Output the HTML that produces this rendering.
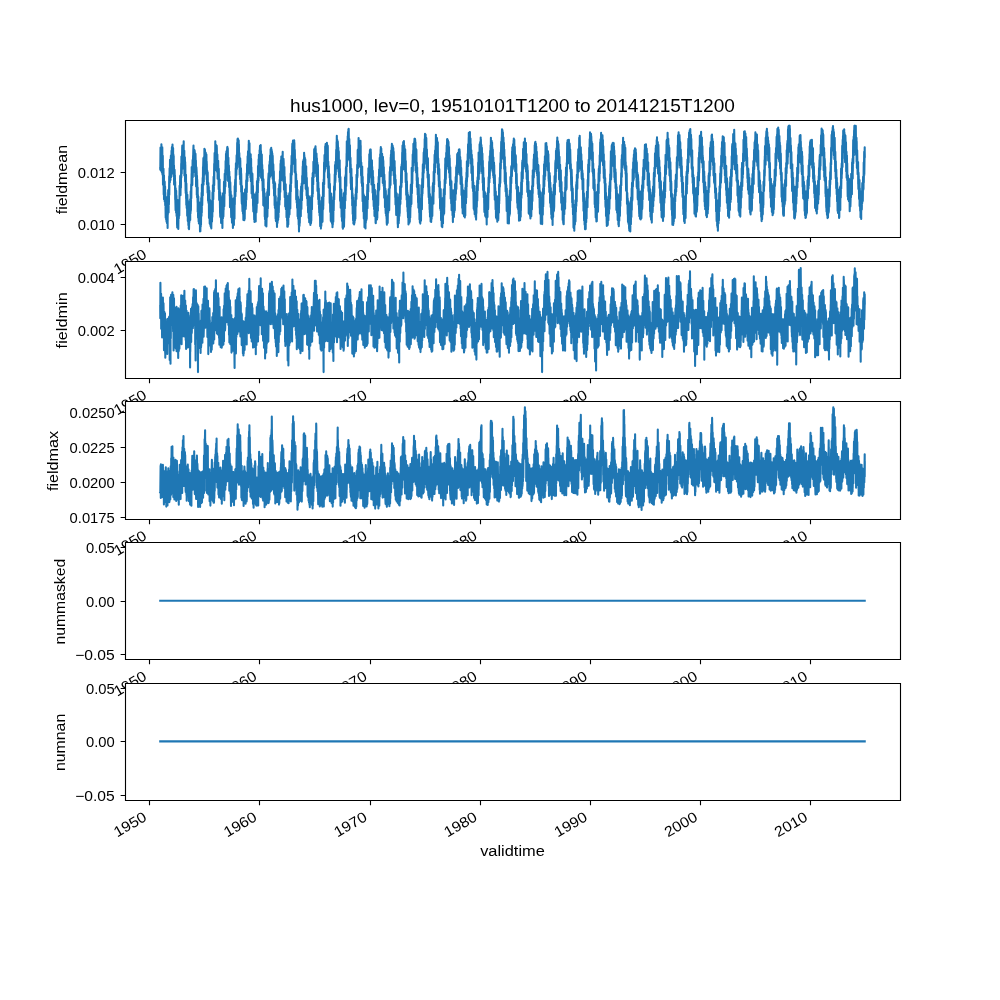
<!DOCTYPE html><html><head><meta charset="utf-8"><style>html,body{margin:0;padding:0;background:#fff;width:1000px;height:1000px;overflow:hidden}svg{display:block;will-change:transform}text{font-family:"Liberation Sans",sans-serif;fill:#000}</style></head><body>
<svg width="1000" height="1000" viewBox="0 0 1000 1000">
<rect x="0" y="0" width="1000" height="1000" fill="#fff"/>
<g>
<rect x="125.00" y="120.00" width="775.00" height="117.24" fill="#fff"/>
<clipPath id="c0"><rect x="125.00" y="120.00" width="775.00" height="117.24"/></clipPath>
<path clip-path="url(#c0)" d="M160.2 168.2L160.3 169.8 160.5 147.6 160.7 164.9 160.7 150.8 160.9 170.6 161 147.8 161.2 150.1 161.3 162.4 161.4 144.2 161.7 169.3 161.7 153.7 161.7 158 161.9 172.6 162 152.4 162.2 156.8 162.2 153.9 162.3 147.4 162.5 174.8 162.7 161.5 162.7 159 162.8 155.7 163 184.7 163.2 183.4 163.2 171.3 163.5 168.8 163.7 194.6 163.7 184.6 163.8 183.3 164 175.5 164 199.3 164.2 191.7 164.2 189.2 164.4 181.2 164.7 201.5 164.7 181.7 164.8 197.5 165.1 186.5 165.2 205.2 165.2 197.6 165.2 203.2 165.3 192.5 165.7 217.8 165.7 212.5 165.7 202.6 166.2 220 166.2 203.7 166.3 197.1 166.5 221.5 166.7 215.7 166.7 205.6 166.9 223.1 166.9 197.2 167.2 219.7 167.3 208.3 167.3 199.8 167.6 227.9 167.7 212.4 167.7 200.7 167.8 215 168.2 190.1 168.2 212 168.3 193.3 168.6 192.3 168.6 212.4 168.7 195.2 168.7 202.3 168.9 204.5 169.2 176.4 169.2 184.7 169.3 194.8 169.6 168.3 169.7 174 169.7 181.2 169.9 182.3 170 159.8 170.2 170.2 170.2 163.7 170.5 180 170.5 161.4 170.7 162.5 170.8 158.3 170.9 155.5 171 177.2 171.2 166 171.2 160 171.4 167.2 171.5 150.7 171.7 159.2 171.7 162.7 171.9 147 172.1 168.2 172.2 167.1 172.2 161.8 172.3 173.4 172.5 144.5 172.7 164 172.7 159.3 173.1 169.9 173.1 148 173.2 165.4 173.3 160.2 173.4 154.4 173.6 176.5 173.7 156.1 173.7 171.4 174 165.5 174.1 184.6 174.2 170.8 174.3 179.1 174.4 183.2 174.6 169.8 174.7 173.2 174.7 184.6 174.9 175.3 175.2 199.5 175.2 181.8 175.2 193.4 175.6 210.3 175.7 189.4 175.7 188.4 176.1 212.7 176.2 190.7 176.2 207.3 176.5 195.7 176.6 215.9 176.7 212 176.8 215.6 176.9 204.7 177.1 225.4 177.2 205.6 177.2 227.5 177.6 200.1 177.7 224.3 177.8 218.1 178 203.3 178 226.6 178.2 204.7 178.2 209.1 178.3 229 178.7 202.3 178.7 211 178.7 209.2 178.8 218.5 179 200 179.2 200.1 179.2 213 179.3 215.6 179.6 185.7 179.7 189 179.7 192.5 179.8 194.8 180.2 176 180.2 191.4 180.3 187 180.4 175.6 180.5 195.2 180.7 180.9 180.7 177.3 180.9 188 181.2 163.5 181.2 170 181.3 177.6 181.4 156.6 181.7 165.2 181.7 173.8 182.2 148 182.2 146.7 182.3 167.8 182.3 145.5 182.7 146.7 182.7 152.8 182.8 164.9 182.8 146.7 183.2 148.8 183.2 168.4 183.7 141.3 183.7 146.6 183.8 162.9 184.1 165.6 184.1 151 184.2 159.9 184.2 151.5 184.3 150.8 184.4 175.5 184.7 162.1 184.7 171 184.9 157.4 185.1 181.6 185.2 162.1 185.2 175.8 185.3 164.7 185.6 191.1 185.7 177.3 185.7 193.1 186 174.8 186.1 198.6 186.2 192.9 186.3 205 186.4 183.5 186.7 205.1 186.7 192.1 186.7 208.1 187 194.8 187.2 215.8 187.2 202.7 187.3 208 187.4 194.7 187.6 216.4 187.7 208.9 187.7 201.9 187.8 200.4 187.8 221.1 188.2 217.2 188.2 214.8 188.4 225.2 188.6 203.4 188.7 224.1 188.7 228.4 189 207.2 189 229.2 189.2 220.6 189.2 213.8 189.4 222.3 189.5 202.1 189.7 219.7 189.8 212.6 190.1 201.2 190.2 219.9 190.2 199.3 190.5 213.6 190.7 191.3 190.7 211.3 190.8 199.5 190.9 210.2 191.2 184.3 191.2 186.6 191.3 198.2 191.6 173.4 191.7 181.7 191.7 167 192 184 192.2 175.9 192.2 175.5 192.3 185.1 192.6 160 192.7 173.7 192.7 164.8 192.8 177.3 193.1 155.6 193.2 155.8 193.3 150.4 193.5 145.5 193.7 169.9 193.7 169.2 193.8 150 194.1 170.3 194.2 166.1 194.2 170 194.5 171.9 194.6 150.2 194.7 168 194.7 153.9 194.8 151.8 195 172.7 195.2 170.3 195.2 162.8 195.3 176.3 195.5 153.8 195.7 162.8 195.7 169.8 195.9 160.6 196.1 186.4 196.2 167 196.2 181.6 196.3 185.9 196.4 167.2 196.7 172.8 196.8 194.9 197 175.7 197.1 197.5 197.2 188.3 197.2 179.5 197.6 202.4 197.7 187.6 197.7 211.7 197.9 194.7 198.1 217.7 198.2 213.4 198.2 206 198.3 196.5 198.6 221.5 198.7 202.4 198.7 210.1 198.9 223.4 199.1 205.1 199.2 212.1 199.3 205 199.3 202.7 199.5 221 199.7 211.9 199.7 219.3 199.8 209.1 200 231.4 200.2 230.7 200.3 227.8 200.4 231.2 200.5 202.3 200.7 227 200.7 213.2 200.9 203.6 201 224.9 201.2 205.3 201.2 198 201.5 215.9 201.6 192.7 201.7 201.1 201.7 211.6 201.8 212.6 201.9 184.5 202.2 198.3 202.2 205.3 202.7 177.8 202.7 187.4 202.8 178.7 202.8 195.5 203 166.9 203.2 179 203.2 165.4 203.4 158 203.5 184.8 203.7 172.6 203.8 181.7 204 159.3 204.2 163.7 204.2 156.4 204.3 174.9 204.4 148.7 204.7 173.4 204.7 166.8 204.8 172 204.9 149.6 205.2 157.1 205.2 166.9 205.4 152.4 205.5 170.2 205.7 164.6 205.7 164.2 205.8 152.9 206 171.7 206.2 164.6 206.3 159.3 206.4 154.6 206.6 175.2 206.7 161.6 206.7 179.6 206.8 163.8 207 184.3 207.2 170.6 207.2 179.2 207.3 174.5 207.6 192.8 207.7 189.5 207.7 172.2 208.1 200.9 208.2 191.5 208.2 191.8 208.4 183.1 208.5 203 208.7 186.5 208.8 187.4 209 217.9 209.2 200 209.2 212 209.4 190.9 209.7 223.4 209.8 203.3 209.9 199.8 210.2 224.7 210.2 206.4 210.2 215.5 210.6 226.1 210.7 203.5 210.7 222.9 210.7 222.7 210.8 207.4 210.9 227.3 211.2 215.9 211.2 221.5 211.3 228.5 211.7 201 211.7 203.9 211.8 202.8 212 221.6 212.2 204.3 212.3 216.7 212.3 216.9 212.5 192.5 212.7 211.3 212.7 192.4 212.8 211.7 212.9 185.3 213.2 191.5 213.3 199.2 213.6 176.8 213.7 178.2 213.7 180 213.8 191.5 214.2 163.7 214.2 185.2 214.6 153.1 214.7 161.1 214.7 156.1 214.9 170.5 215.2 151.8 215.2 163.9 215.2 154.6 215.3 141.3 215.6 169.4 215.7 159.7 215.8 146.7 216.1 170.2 216.2 145 216.2 156 216.2 159.4 216.5 168.1 216.7 145.7 216.7 151.6 216.8 156.8 216.8 147.4 217.1 172 217.2 163.7 217.2 159.3 217.4 154.6 217.6 178.7 217.7 177.6 217.7 177.2 217.9 178 218.2 160.7 218.2 174.7 218.2 163.1 218.7 189.2 218.7 185.9 218.7 188.4 218.8 168.7 219.2 199.9 219.3 188.6 219.6 179.5 219.6 199.4 219.7 195.1 219.7 189 220.1 213.4 220.2 192.5 220.2 216.1 220.6 217.3 220.7 196 220.7 202 220.7 207 221 199.8 221.1 223 221.2 216.8 221.2 221.8 221.4 222.5 221.6 198 221.7 211 221.8 219.1 221.9 198.5 222.2 221.5 222.2 210.8 222.4 228 222.7 199.7 222.7 212.6 222.8 202.7 222.9 193.2 223 218.3 223.2 211.5 223.2 214.5 223.3 196.2 223.4 216.4 223.7 200.1 223.7 209.8 224 181.7 224.2 198.7 224.2 197.9 224.3 206.3 224.7 173.7 224.7 190 224.8 193.6 225.2 174.4 225.2 181.5 225.3 169.8 225.4 186.4 225.6 161.1 225.7 171.8 225.7 168.5 225.8 180.2 226 153.9 226.2 159.6 226.3 174.2 226.4 151.6 226.7 159.7 226.7 157.2 226.9 150.2 227 171.9 227.2 158 227.2 147.8 227.4 146.9 227.5 170.3 227.7 160.7 227.7 165.7 227.8 148.4 228.1 180.9 228.2 162.7 228.2 165.2 228.4 157.7 228.6 179.1 228.7 179.1 228.8 172.9 228.9 165.6 229.1 187.3 229.2 171.9 229.2 174.6 229.3 171.5 229.6 192.8 229.7 183.6 229.7 195.7 229.8 176.7 230 207.2 230.2 185.7 230.2 196.1 230.3 182.4 230.7 204.5 230.7 195.4 230.7 191.2 231.2 217.2 231.2 208.4 231.4 195.2 231.7 216.6 231.7 211.8 232 222.8 232.2 202 232.3 217.3 232.3 205.7 232.6 223.1 232.7 206.4 232.7 208.2 232.9 227.9 233.2 218.9 233.2 202.4 233.5 198.6 233.6 218.7 233.7 218.3 233.7 225 233.9 225 233.9 200.8 234.2 214.9 234.2 215.1 234.5 218.8 234.7 186.1 234.8 204.5 235.1 181.8 235.2 186.3 235.2 179.8 235.4 196.2 235.7 168.3 235.7 173.4 235.8 191.7 235.9 163.4 236.2 173.4 236.2 174.4 236.3 174.9 236.6 155.4 236.7 166.6 236.7 164.4 236.9 169 237.2 142.8 237.2 151.3 237.4 163.6 237.5 139 237.7 152.5 237.7 146.6 237.8 163 237.9 138.5 238.2 160.8 238.3 158.5 238.4 161.1 238.7 140.4 238.7 159.4 238.7 153.2 238.9 144.2 239.2 167.3 239.2 161.8 239.3 166.7 239.3 153.1 239.7 174.8 239.7 167.9 239.7 166.7 240.1 179.2 240.2 158.4 240.2 161.9 240.3 160.5 240.5 184.4 240.7 174.4 240.7 181.3 241 168.3 241.2 191.9 241.2 175 241.2 173.5 241.7 201.4 241.7 197.4 241.8 203.6 242 186.1 242.1 204.5 242.2 199.2 242.2 201.6 242.5 211.1 242.6 193.5 242.7 196.1 242.7 197 243 214 243.1 195.2 243.2 210.7 243.2 204.8 243.4 220 243.4 193.3 243.7 201.8 243.7 206.4 244 196.6 244.1 220.3 244.2 215.8 244.2 202.7 244.3 220.3 244.6 196.2 244.7 209.1 244.7 219 245.1 189.4 245.2 207.7 245.3 199.3 245.5 191.9 245.7 209 245.7 190.7 245.9 206.2 246.2 180.3 246.2 190 246.2 191.9 246.3 199.7 246.7 173.4 246.7 186.8 246.7 184.6 246.8 192.2 247.1 164.3 247.2 167.1 247.2 169 247.4 181.2 247.6 156.2 247.7 164.9 247.8 175.2 248 151.4 248.2 166.3 248.2 166.5 248.5 169.5 248.7 144.2 248.7 164.2 248.8 144.7 248.8 140.8 249.1 166.3 249.2 151.3 249.2 161.1 249.5 143.3 249.6 167.3 249.7 160.8 249.7 165.7 249.8 153.1 249.9 173.7 250.2 170.5 250.2 159.2 250.4 177.5 250.7 154.3 250.7 176.5 250.7 176.6 250.9 181.1 251.1 158.9 251.2 173.1 251.3 173.9 251.4 167.3 251.6 193.4 251.7 181.6 251.7 172.2 251.9 193.9 252.2 175.3 252.3 198 252.4 173.8 252.7 191.1 252.7 193 252.9 185.8 253.1 206.2 253.2 196.8 253.2 207.1 253.3 211.5 253.5 193.6 253.7 208.1 253.7 200.6 253.8 196.2 254.2 219.8 254.2 215 254.2 210.3 254.4 201.7 254.5 221.9 254.7 204.1 254.8 209.4 254.9 218.1 254.9 194.8 255.2 201.3 255.2 214 255.4 200.1 255.7 221.5 255.7 206.9 255.7 211.6 256.1 194 256.2 212.1 256.2 208.9 256.3 192.3 256.4 212.4 256.7 206.4 256.7 204.8 257 181.1 257.2 201.8 257.3 184.5 257.5 203.1 257.7 178.2 257.7 182.3 257.9 192.8 258 166.1 258.2 183 258.3 173.5 258.5 180.8 258.6 159.2 258.7 159.3 258.7 161.3 258.9 176.3 258.9 154.8 259.2 165.6 259.2 165.2 259.6 170.9 259.6 150.2 259.7 166.9 259.7 156.2 260 145.9 260.2 172 260.2 171.5 260.2 157.1 260.5 169.5 260.7 145.1 260.8 159.3 261 151 261.1 177.7 261.2 155.7 261.2 158.6 261.4 178 261.4 154.2 261.7 171 261.8 162.9 261.8 154.6 262.1 180.8 262.2 165.5 262.2 164.7 262.7 190.8 262.7 190.4 262.7 169.8 263.2 197 263.2 182 263.2 189.2 263.3 205.2 263.5 179.4 263.7 192.1 263.7 192.5 264 205.9 264.1 188.8 264.2 201.5 264.3 205.7 264.7 193.2 264.7 216.6 264.7 193.7 265 219.3 265.2 209.7 265.3 205.6 265.4 225.4 265.5 204.9 265.7 205.8 265.7 211 265.9 199.5 266.1 224.4 266.2 216 266.2 217 266.3 203 266.4 226.5 266.7 213.2 266.7 197.3 266.8 217.8 267.2 192.1 267.2 203.7 267.2 210.1 267.4 216.6 267.7 189.5 267.7 205.1 267.8 205 267.9 208.5 268.1 182.3 268.2 184 268.2 180.9 268.6 173.3 268.7 195.2 268.7 179.5 268.7 178.2 269 195.1 269.2 172.4 269.2 165 269.3 179.6 269.7 161.5 269.7 174.7 270.1 155.6 270.2 175.9 270.2 165.7 270.3 155.9 270.4 176.6 270.6 149.2 270.7 153.5 270.7 175.2 271.2 147.9 271.3 151.3 271.4 169.6 271.6 149.8 271.7 167.5 271.7 167.4 271.8 171.7 271.9 151.4 272.2 157.3 272.2 172.4 272.3 153.4 272.7 179 272.7 158.7 272.7 155.7 273.2 183.3 273.2 179.2 273.3 164.4 273.7 188 273.7 187.1 273.8 189 273.8 171.4 274.1 195.8 274.2 195 274.2 193.7 274.5 181.9 274.6 205.3 274.7 202.6 274.8 191.2 274.9 208 275.1 183.4 275.2 199 275.2 207.8 275.4 195.4 275.6 218.7 275.7 207.1 275.7 196.2 275.9 221.1 276.2 208.8 276.2 207.1 276.4 219.8 276.4 202.2 276.7 207.1 276.7 216.5 277 227 277.2 205.1 277.2 218.5 277.3 205.5 277.5 222.9 277.6 205.3 277.7 217.9 277.7 208.1 278 220.4 278.1 204.2 278.2 219.5 278.2 197.7 278.5 217.2 278.6 188.6 278.7 207.2 278.7 199.8 278.8 212.5 279.2 184.3 279.2 187.9 279.4 204.7 279.7 179.7 279.7 180.8 279.8 200 280 171.4 280.2 182.7 280.2 174.3 280.3 192 280.5 163.8 280.7 168.9 280.8 161 280.9 160.2 281.1 180.6 281.2 161.6 281.2 180.2 281.3 156.5 281.7 177.8 281.7 157.6 281.8 178.1 282.1 157 282.2 161.8 282.2 170.3 282.7 151.8 282.7 174.5 282.7 170.6 282.7 157.8 283.2 180.4 283.2 160.3 283.3 180.8 283.4 181.3 283.5 158.7 283.7 162.8 283.7 164.9 284 189.7 284.2 184 284.3 178.5 284.4 167.1 284.7 197.3 284.7 184.8 284.8 176.8 285.2 198.5 285.2 188.1 285.2 206.5 285.5 184.5 285.7 195.8 285.7 184.2 285.9 209.2 286.2 192.7 286.2 199.3 286.3 193.2 286.5 217.3 286.7 207.3 286.8 196.8 287.1 195.9 287.1 220.8 287.2 217.5 287.2 210.7 287.3 226.8 287.7 203.1 287.7 206.6 287.8 223.6 287.8 226.7 288.2 202.2 288.2 215.2 288.2 211 288.3 224.6 288.4 197 288.7 197.7 288.7 196.1 288.8 217.3 289.2 208 289.2 194.1 289.4 193 289.5 214.4 289.7 200.7 289.7 203.3 289.8 204.3 290.1 185 290.2 197.6 290.3 208.5 290.7 173.5 290.7 184.2 290.8 191.7 291.2 165.4 291.2 179.4 291.2 183.2 291.6 155.9 291.7 160.5 291.7 169.5 291.8 174.7 292.2 146.1 292.2 146.7 292.2 151.3 292.3 143.8 292.5 160.1 292.7 150.8 292.7 144.9 293 140.6 293.1 161.3 293.2 142.6 293.2 143.5 293.3 141.7 293.6 163.7 293.7 143.3 293.8 153.1 293.9 162.4 294.2 140.3 294.2 157.2 294.2 157.7 294.4 142.8 294.6 172 294.7 159.7 294.7 153.7 294.8 149.9 295.2 172.8 295.2 173.1 295.4 159.2 295.7 187.5 295.7 171.6 295.7 185 296.1 174 296.2 199.5 296.2 177.7 296.3 189.4 296.6 182 296.7 202.8 296.7 183.4 296.7 195.4 296.9 180.8 297.1 207.9 297.2 194.8 297.3 200.1 297.4 189.7 297.6 216.2 297.7 215.3 297.7 209.4 297.9 196.6 298.1 218.7 298.2 198.1 298.2 199.8 298.7 224.8 298.7 220.9 298.8 209.9 299 231.4 299.2 211.8 299.2 209 299.4 200.3 299.5 225.9 299.7 216.1 299.8 218.5 299.8 222.9 300.1 200.2 300.2 210.7 300.2 208.9 300.3 212.7 300.7 190.9 300.8 216.2 301.1 186.6 301.2 193.2 301.2 194.2 301.4 208.9 301.7 183.6 301.7 197 301.7 187.8 302 200.2 302.2 175.9 302.2 178 302.2 183 302.3 191.5 302.7 166.5 302.7 180.7 302.7 179 303 161.3 303.1 180.7 303.2 171.6 303.3 177.2 303.3 183.4 303.6 159.6 303.7 175.4 303.7 167.8 304 180 304.1 152.8 304.2 159.1 304.2 168 304.3 154.8 304.6 176.5 304.7 161.1 304.7 173.2 304.8 157.6 305.1 183.5 305.2 167.8 305.2 167.4 305.3 159.2 305.7 188.7 305.8 182.2 306 189.4 306.2 166.3 306.2 178 306.2 182 306.3 172.3 306.6 195.4 306.7 189.1 306.8 182.7 306.8 177.9 307.1 198.5 307.2 186.6 307.2 189.2 307.4 188.1 307.7 205.8 307.7 187.8 308.1 212.5 308.2 199.1 308.2 207.2 308.5 196.2 308.7 218.1 308.7 211.1 308.7 212.5 308.9 196.3 309.2 222.2 309.2 216.1 309.3 220.1 309.7 198.5 309.7 216.8 309.7 221.1 309.8 222.6 310 204.4 310.2 220.2 310.3 218.5 310.4 225 310.7 197.5 310.7 216.3 310.7 216.7 310.8 199.1 311 223.3 311.2 219.5 311.2 218.4 311.3 220.8 311.5 195.8 311.7 203.4 311.7 204 312 209.2 312.2 177.8 312.2 179.6 312.2 190.7 312.5 196.7 312.7 173.3 312.7 191.4 312.8 179.9 312.8 194 312.9 172.9 313.2 178.7 313.2 184.4 313.4 161.7 313.7 168.6 313.7 177.2 314.2 149.3 314.2 167.9 314.2 164 314.5 150.6 314.7 170.5 314.7 150.9 314.7 165.4 314.8 148.2 315.2 172.7 315.2 154.8 315.2 153.4 315.5 146.2 315.5 169 315.7 152.7 315.7 148.7 316 171.6 316.2 157.7 316.3 168.8 316.3 176.2 316.5 153.5 316.7 163.2 316.7 161.4 316.9 158.4 317.1 181.4 317.2 176.9 317.2 170.4 317.3 162.6 317.5 190.9 317.7 167 317.7 181.5 317.9 165 318.2 199.3 318.2 192.1 318.3 182.2 318.7 204.4 318.7 203.7 318.8 188.6 319.1 209.6 319.2 194.6 319.2 212.5 319.3 195.3 319.6 215.6 319.7 206.7 319.8 206.7 319.8 200.7 320.2 226.3 320.2 221.9 320.5 226.5 320.6 205.4 320.7 212.2 320.7 206.2 320.9 228.6 321.2 215.1 321.2 204.8 321.3 226 321.7 208.6 321.7 215.8 321.8 222.4 322 197.3 322.2 212.7 322.3 204.3 322.3 201.4 322.5 221.8 322.7 203.2 322.7 199.4 322.9 209.9 323 182.9 323.2 209.1 323.3 189.9 323.3 205.7 323.7 179.2 323.7 196.8 324.1 162.6 324.2 165.3 324.2 184.2 324.5 155 324.7 171.9 324.7 164 325.1 170 325.2 146.4 325.2 169 325.2 157.9 325.3 168.8 325.6 144.1 325.7 150.3 325.8 151.5 325.9 164.5 326.2 145.2 326.2 153.1 326.3 165.9 326.4 144.7 326.7 154.8 326.7 162.6 326.9 164.2 326.9 142.8 327.2 157.9 327.2 157.9 327.5 166.2 327.7 145.6 327.7 168.6 327.8 146.4 328 177.6 328.2 162.4 328.2 175.3 328.3 161.6 328.7 187.4 328.7 168.7 328.7 166.7 328.8 166.3 329.2 188.2 329.3 174.1 329.7 202.9 329.7 191.8 329.7 203.1 329.9 183.9 330.2 211.5 330.2 206.5 330.4 212.5 330.5 193.2 330.7 199.3 330.7 215.6 330.8 221 331.2 193.5 331.2 217.8 331.4 221.9 331.5 201.4 331.7 217.5 331.8 216.2 331.9 202.9 332.1 223.9 332.2 213.6 332.2 216.2 332.4 205.6 332.5 227.3 332.7 215.4 332.8 224.1 332.8 224.8 333.2 200.3 333.2 200.7 333.3 221.7 333.5 197.1 333.7 201 333.7 210.4 334.1 186.2 334.2 196.3 334.2 199.7 334.7 176.9 334.7 182.7 334.7 174.4 334.9 189.9 335 165 335.2 172.8 335.3 180.3 335.4 181.9 335.5 161.9 335.7 173.2 335.7 163 335.8 174.8 336.2 149.8 336.2 157.2 336.3 161.9 336.4 168.7 336.6 141.9 336.7 147.4 336.7 146.9 336.8 135.8 337.2 160.3 337.2 147.7 337.2 154.9 337.3 140.1 337.3 165.4 337.7 154.4 337.7 152.1 337.8 164.9 337.8 141.6 338.2 155.3 338.2 163.2 338.3 147.5 338.5 171.6 338.7 159.3 338.8 162.3 338.8 151.4 339 177.3 339.2 173.2 339.2 170.7 339.6 182 339.7 160.3 339.7 166.3 339.7 172.3 339.9 168.8 340.1 200.5 340.2 193 340.2 201.1 340.4 177 340.7 207.8 340.7 189.5 340.7 188.9 341.2 207.7 341.2 200.2 341.3 208.6 341.3 189.6 341.6 217 341.7 200.7 341.7 200.8 341.9 197.5 342 220.9 342.2 207.1 342.3 212.6 342.5 202.6 342.6 227.5 342.7 207.1 342.7 203.2 342.9 228.8 343.2 215.7 343.2 217.8 343.3 222.8 343.4 203.1 343.7 203.4 343.7 218.4 343.8 193.4 344 226.7 344.2 216.1 344.2 202.6 344.3 218.3 344.5 192.3 344.7 194.6 344.8 196.6 344.9 208.2 345 177.2 345.2 189.2 345.2 198.2 345.4 200.4 345.6 175 345.7 194.4 345.8 175.3 345.8 190.8 345.9 167.9 346.2 177.7 346.2 166.2 346.3 186 346.6 153.6 346.7 164.2 346.7 153.8 346.8 141.2 347 166.3 347.2 145.6 347.2 153.9 347.5 158.4 347.7 136.2 347.7 145.3 347.8 156.9 348 132.1 348.2 147.9 348.3 149.1 348.4 129.2 348.7 146.6 348.7 128.9 349.1 159.7 349.2 148.6 349.3 139 349.6 160.8 349.7 147.8 349.7 153.5 349.9 145.2 350.2 172.6 350.2 158.1 350.2 166.2 350.5 157.9 350.7 183.2 350.7 164.3 351 189.2 351.2 169.4 351.2 176 351.4 168.9 351.5 188.9 351.7 185 351.8 189.4 351.9 177.3 352 198.8 352.2 187.9 352.2 205.5 352.5 193.4 352.7 214 352.7 195.1 353.1 220.5 353.2 197.6 353.2 209.3 353.4 223.6 353.6 201 353.7 209.5 353.7 220.5 353.9 201.5 354.1 224.4 354.2 217.6 354.3 213.6 354.5 223 354.6 206.4 354.7 221.1 354.7 218.3 354.9 220.6 355 203 355.2 213.9 355.3 214.6 355.4 218.7 355.5 194.6 355.7 203 355.7 202.3 355.8 206 355.9 189 356.2 192.4 356.2 186.9 356.4 199 356.5 174.8 356.7 176.4 356.7 175 356.8 192.7 357.2 164.7 357.2 166 357.2 167.5 357.5 176.9 357.7 150 357.8 167.3 357.9 149.5 358 168.3 358.2 150.8 358.2 160.2 358.4 164.3 358.6 138.1 358.7 144.1 358.8 141.2 359.1 164.9 359.2 161.1 359.2 146.3 359.3 143.6 359.5 166.4 359.7 149.1 359.7 145.8 359.8 162.1 360 142 360.2 159.4 360.2 155.5 360.5 140.8 360.7 167.4 360.7 145.6 360.7 161.9 360.8 156.2 361.1 175.6 361.2 163.6 361.3 167.1 361.3 162.6 361.6 183.1 361.7 174.8 361.7 175.9 362.1 186.2 362.2 166.5 362.2 170.3 362.6 201.2 362.7 176.9 362.7 199.7 363 183 363.2 211.5 363.2 200.6 363.2 210.3 363.3 193.4 363.5 212.1 363.7 211.5 363.7 194.8 363.8 218.6 364.2 212.7 364.2 195.9 364.5 227.3 364.7 215.4 364.8 213.9 364.8 225.8 364.9 202.3 365.2 218.7 365.2 224.5 365.5 228.4 365.5 201.7 365.7 217.7 365.7 221.2 365.8 223.1 366.1 199.2 366.2 220.8 366.2 215.8 366.3 196.7 366.6 219.1 366.7 212.1 366.7 219.1 367.2 190.1 367.2 205.3 367.3 190.6 367.4 184.8 367.5 208.2 367.7 186.4 367.7 192.2 367.9 199.7 368.2 173.7 368.2 185.3 368.3 187.1 368.3 191.8 368.4 168.2 368.7 171.2 368.7 172.4 369 182.2 369.2 160.9 369.2 163.8 369.2 174.7 369.3 154.3 369.7 175.4 369.7 168.8 369.7 174.4 369.9 150.4 370.2 152.1 370.2 149.6 370.5 173 370.7 149.6 370.7 159.6 370.8 151.8 371.2 177.2 371.2 178.1 371.5 162.2 371.5 184.5 371.7 171.8 371.8 172 371.8 181.1 371.9 160.2 372.2 175.7 372.2 166.7 372.6 192.7 372.7 179.3 372.7 186.5 372.8 170.7 373.1 199.8 373.2 177 373.2 190 373.3 181 373.7 206.2 373.7 187.6 373.7 195.6 374.1 209.1 374.1 184.8 374.2 189.2 374.3 202 374.5 215.9 374.6 190.8 374.7 194.8 374.7 199.5 374.9 189.8 375.2 215 375.2 214.4 375.3 199.3 375.6 223.1 375.7 200.3 375.7 219.4 375.8 223.3 376.2 197.1 376.2 204.4 376.5 219.4 376.6 202.3 376.7 212 376.7 199 377 219.4 377.1 195.4 377.2 209.7 377.2 213.3 377.3 217.9 377.5 190.9 377.7 200.9 377.8 197.9 377.9 210.8 378 183.5 378.2 186.6 378.2 205.2 378.7 176.7 378.7 190.8 378.7 181.7 378.8 190.9 379.1 169.6 379.2 181.1 379.2 189.7 379.7 160.5 379.7 163.3 379.7 157.9 380.1 176.4 380.2 154.3 380.2 159.5 380.3 170.5 380.6 149.6 380.7 156.5 380.7 152.7 380.8 147 380.9 168.2 381.2 157.1 381.3 150.5 381.3 148.6 381.4 171.1 381.7 156.9 381.7 165.7 381.8 176.1 382.1 153.7 382.2 162.4 382.2 165.6 382.5 176.9 382.7 159.4 382.7 172.7 382.7 170.7 382.8 183 382.9 156.9 383.2 162.1 383.2 170.5 383.3 160.7 383.7 185.9 383.7 167.4 383.8 167.3 384.2 197.7 384.2 178.3 384.3 174.6 384.7 194.6 384.7 189.1 384.8 181.9 384.8 180.9 385 207.2 385.2 204.4 385.2 192.8 385.4 188.8 385.6 211.3 385.7 195.4 385.7 213.2 385.8 190.8 386.2 216 386.2 198.1 386.6 218.8 386.7 205.5 386.7 222.4 386.9 224.7 387.2 200.2 387.2 209.6 387.3 205.8 387.3 223.4 387.6 197.3 387.7 222 387.7 223 388.1 195.4 388.2 197.2 388.2 213 388.7 189.2 388.7 210.3 388.7 209.8 388.9 189 389.2 200.4 389.2 210.2 389.7 171.9 389.8 176.7 389.9 188.1 390.1 167.1 390.2 178.8 390.2 179.4 390.5 185 390.7 157.6 390.8 175.8 390.9 154.8 391.2 160.9 391.2 150.6 391.5 170.6 391.7 146.7 391.7 166 391.7 166.4 391.9 143.9 392.2 168.3 392.2 164.3 392.2 148.3 392.6 145.5 392.7 165.3 392.7 160.3 393 147.4 393 167.2 393.2 149.1 393.3 148.3 393.6 175.2 393.7 155 393.7 151.7 394.2 181.6 394.3 169.1 394.3 183.8 394.6 161 394.7 172.9 394.7 171.1 394.8 166.9 395.2 197.3 395.2 174.9 395.5 204.4 395.7 179.8 395.7 181.9 396.2 215 396.2 194.6 396.2 213.4 396.3 192.9 396.5 214 396.7 213.7 396.8 208.1 396.8 193.8 397.1 215.3 397.2 202.9 397.2 199.4 397.5 197.6 397.7 223.3 397.8 224.3 397.8 202.2 397.9 227.3 398.2 210.9 398.2 215.7 398.7 202.2 398.7 223.3 398.7 212.1 398.7 203 398.9 220.5 399 199.8 399.2 206.8 399.2 196.8 399.3 194.3 399.4 216 399.7 206.9 399.7 213.3 400.1 186.5 400.2 204.6 400.3 192.7 400.4 203.7 400.5 186 400.7 199.2 400.7 197 401.2 166.9 401.2 185.8 401.4 186.9 401.7 164.4 401.7 175.5 401.7 179.9 401.8 182.8 402.2 152.5 402.2 168.2 402.5 145.5 402.7 166 402.8 167.9 403 169.5 403.1 144.5 403.2 146.9 403.2 142.1 403.6 165 403.7 143.5 403.8 144.6 403.9 141.1 404.2 165.9 404.2 162.5 404.2 152.7 404.4 145.8 404.7 169.1 404.7 154.7 404.7 155.7 405.2 149.4 405.2 171.4 405.2 155.4 405.3 152.9 405.7 182.3 405.7 179.2 405.7 178.9 405.8 161 406.2 195 406.2 178.6 406.3 190.5 406.5 173.3 406.7 199.8 406.7 198.5 406.7 183.5 406.9 181.2 407.2 206.9 407.2 190.3 407.3 197.2 407.5 192.5 407.6 211.6 407.7 199.7 407.7 207 408 217.4 408.1 195 408.2 195.5 408.2 212.4 408.3 197.6 408.5 224.5 408.7 212.5 408.7 204.9 408.9 204.1 409 220.2 409.2 204.2 409.2 211.3 409.4 198.8 409.5 222.6 409.7 220 409.8 204.4 409.8 221.8 410.1 196.9 410.2 199.2 410.2 217.7 410.7 193.1 410.7 207 410.7 190.9 410.9 184.5 410.9 203.4 411.2 196.9 411.2 194.9 411.4 204.1 411.7 176.5 411.7 191.5 411.7 167.7 411.9 193.2 412.2 176.9 412.2 169.2 412.3 183.4 412.6 160.3 412.7 168.6 412.7 154.5 412.8 171.6 413.2 150.4 413.3 165.6 413.4 143.7 413.7 152.8 413.7 150.9 414.2 162.2 414.2 142 414.2 146.4 414.5 138.7 414.6 162.1 414.7 153.1 414.7 156.7 414.8 160.2 415 138.8 415.2 140 415.2 157.4 415.5 142.2 415.6 170.5 415.7 156.4 415.8 167.3 416.1 149 416.1 172.6 416.2 155 416.2 161 416.4 149.7 416.7 180.5 416.8 162.6 416.9 186.9 417.2 167.6 417.2 177.5 417.3 173.6 417.7 194.7 417.7 193.4 417.7 178.2 417.8 177.9 418.1 202.5 418.2 187.5 418.2 193.5 418.4 207.8 418.7 184.7 418.7 184.8 418.7 205.7 418.8 187.7 419.2 212.4 419.2 211.8 419.3 199 419.5 219.4 419.6 198.5 419.7 206 419.7 215.5 419.9 222.4 420 200.7 420.2 201.7 420.3 223.6 420.6 198.7 420.7 202.9 420.7 205.4 421 220.8 421.2 196 421.2 204.4 421.2 194.3 421.3 209.5 421.4 185.3 421.7 201.7 421.7 204.2 421.9 209.2 422.2 178.9 422.2 195.5 422.2 192.3 422.5 193.5 422.6 172.5 422.7 189 422.8 166.9 422.9 164.2 423 187.4 423.2 177.2 423.2 179.2 423.7 152.5 423.7 173 424.1 150.4 424.2 157.1 424.2 148.6 424.4 168 424.7 139 424.7 156.3 424.7 154.9 425 133.8 425.2 147.7 425.2 136.6 425.3 156.3 425.6 134.5 425.7 146.3 425.7 141.4 426.1 159.3 426.2 137.8 426.2 155.7 426.3 154.2 426.3 138.1 426.6 164.1 426.7 159.8 426.7 156.6 426.9 149.5 427.1 170.5 427.2 163.9 427.2 157.8 427.3 157.4 427.6 177.7 427.7 158.4 427.7 170.6 427.9 158.4 428.2 187.1 428.2 179.9 428.7 197.3 428.7 176.8 428.8 177.2 428.8 174.5 429.1 200.2 429.2 196.2 429.2 203.5 429.3 186.9 429.6 209.4 429.7 198.8 429.8 212.6 429.9 194.1 430 216.8 430.2 197.3 430.2 203.1 430.5 201.5 430.6 221.4 430.7 204.3 430.7 216.1 430.9 202.6 431.2 221.9 431.2 199.1 431.6 219 431.7 198.4 431.7 207.8 431.7 205.8 432.1 215.9 432.2 196.4 432.2 211.5 432.3 196 432.3 215.9 432.7 185.9 432.7 203.5 432.9 204.1 433 183 433.2 196.4 433.3 200 433.4 203.7 433.7 171.8 433.7 181.8 433.8 191.9 434.2 164 434.2 184.4 434.6 154.8 434.7 163.9 434.7 157.3 434.9 172.4 435.1 150.6 435.2 165.1 435.2 159.6 435.3 167.5 435.6 145.9 435.7 154 435.8 148.5 435.9 134.7 436.1 161.1 436.2 139.3 436.2 139.1 436.6 161.8 436.7 143.5 436.7 149.2 437 138 437.1 161.3 437.2 152.6 437.2 140.8 437.6 163.2 437.7 156 437.7 163.3 437.8 142.3 438 174.1 438.2 158.3 438.3 160.2 438.7 180.9 438.7 164.4 438.7 164.6 438.8 164 438.9 186.5 439.2 176.8 439.3 169.1 439.7 198 439.7 184.7 439.7 186.1 439.8 181.5 440.1 208.4 440.2 198.4 440.2 204.5 440.5 192.8 440.6 210.2 440.7 195.6 440.7 189 441.1 220.3 441.2 212.5 441.2 216.8 441.6 198.4 441.7 226.3 441.8 202 442 224.5 442.2 221.2 442.2 212.5 442.3 227.2 442.6 205.2 442.7 214.4 442.8 223 443 223.4 443.1 197.7 443.2 207 443.2 206.1 443.3 215.4 443.7 192.9 443.7 208.7 443.7 201.8 443.8 189.4 444.1 213.7 444.2 211.4 444.2 200.3 444.3 207.6 444.7 179.7 444.7 190.3 444.7 193.9 444.8 194.7 445.2 163.7 445.3 172.5 445.3 158.5 445.5 183.2 445.7 162.1 445.7 158.1 445.8 179.3 446.2 154.7 446.2 152.9 446.3 169 446.7 145.2 446.7 164.1 446.7 154.1 446.9 163 447.1 139.3 447.2 161.6 447.2 161.5 447.3 139.1 447.5 162.1 447.7 159.3 447.7 155.6 448 140.3 448.1 163.5 448.2 158.3 448.2 166.4 448.5 141.9 448.7 169.6 448.8 156.2 449 147 449.1 172.8 449.2 159.1 449.2 169 449.4 155.3 449.7 177.8 449.7 168.6 449.7 158.2 450.1 185.2 450.2 173.1 450.2 169.4 450.3 167.3 450.7 198.7 450.7 179.9 450.7 191.9 450.9 184 451.2 203.6 451.2 195.9 451.3 193.4 451.4 181.4 451.6 210.2 451.7 196.5 451.7 202.4 451.8 189.6 451.8 208.7 452.2 193.5 452.3 193.1 452.4 192.4 452.5 215.2 452.7 206.1 452.7 205.7 452.9 222.1 453 195.4 453.2 204.5 453.2 207 453.4 213 453.5 190.8 453.7 192.6 453.7 202.4 453.8 190.2 453.9 217 454.2 201.8 454.2 210.1 454.3 212.3 454.5 194.4 454.7 206.2 454.8 194.9 454.8 210.2 455 184 455.2 200.2 455.2 189.9 455.4 200 455.7 177.1 455.8 184.7 455.9 194 456.2 168.9 456.2 167.3 456.4 189.1 456.7 165.4 456.7 182.1 457.2 154.3 457.2 154.1 457.7 174.2 457.7 169.8 457.7 160.4 458 152.7 458.2 172.1 458.2 160.3 458.3 158.5 458.5 170.7 458.6 152.2 458.7 167.2 458.7 154.6 458.9 149.6 458.9 169.8 459.2 158.8 459.2 150.5 459.4 169.9 459.4 149.2 459.7 151.8 459.7 170.4 460.2 175.3 460.2 157 460.2 174 460.4 159.6 460.6 183.9 460.7 173.4 460.7 160.6 460.9 184.3 461.2 169.8 461.2 167.9 461.5 195.1 461.7 176.6 461.8 178.3 462.2 208 462.2 195.5 462.2 202.3 462.3 184.4 462.7 213.5 462.7 209.6 462.7 208.8 462.9 190.1 463.2 204 463.2 213.1 463.3 193.7 463.7 206.4 463.7 197.6 464 216.2 464.2 191.2 464.3 198.7 464.6 191.8 464.7 216.3 464.7 210.1 464.7 209.2 464.9 217.4 465 196.7 465.2 201 465.3 215.5 465.4 187.7 465.7 187.8 465.7 191.7 465.9 180.5 466 203.2 466.2 183 466.2 178.2 466.4 197.4 466.5 172.6 466.7 187 466.7 174.8 466.9 161.2 466.9 182 467.2 175.1 467.2 175.6 467.5 176.7 467.7 154.1 467.7 163.1 467.8 163.4 468.1 144.3 468.1 166.3 468.2 160.1 468.2 165.7 468.7 137.6 468.8 157.2 468.8 132.7 468.9 157.8 469.2 154.9 469.2 150.6 469.3 153 469.6 133.8 469.7 142.7 469.7 149.1 469.9 132.1 470 154.8 470.2 153.5 470.2 149.1 470.5 138.5 470.7 163.6 470.7 161.8 470.8 144.1 471 163.2 471.2 157.6 471.3 150.2 471.4 173 471.7 165.4 471.7 166.8 471.8 154.8 472.2 180.5 472.2 164.4 472.3 159 472.6 188.1 472.7 176.7 472.7 167.3 472.8 166.4 473.1 191.2 473.2 182.1 473.2 190.1 473.3 182.2 473.7 208.8 473.8 192.9 474.1 210 474.2 185.8 474.2 207 474.2 204.1 474.3 196.4 474.7 214.2 474.7 212.6 474.8 202 475 211.6 475.2 195.7 475.2 206.2 475.2 208.3 475.4 192.9 475.6 216.9 475.7 203.4 475.7 212 476 194 476.1 219.6 476.2 211.8 476.2 208.3 476.4 213.2 476.6 188.1 476.7 192.1 476.7 186 476.8 207.1 477.2 180.8 477.2 200.5 477.3 196.7 477.3 200.7 477.6 177.4 477.7 177.6 477.7 184.3 477.8 190.4 478.2 162.5 478.2 183.9 478.3 165.2 478.5 176.4 478.6 152.6 478.7 162.3 478.7 157.9 478.8 179.2 478.9 154.1 479.2 165.8 479.2 152.4 479.4 173.4 479.6 144.4 479.7 154 479.7 156.4 479.9 162.1 480.2 142.1 480.2 157.4 480.6 161.5 480.7 137.5 480.8 149.3 480.9 139.5 481.1 164.3 481.2 163.6 481.2 153.5 481.4 145 481.7 171.5 481.8 171.4 481.9 147.7 482.2 173.4 482.2 163.2 482.4 153.6 482.7 181.2 482.7 182.7 482.8 160.7 483.1 190.1 483.2 187.9 483.2 167.6 483.7 197.2 483.7 196.4 483.7 181.6 483.9 178.1 484.2 203.2 484.2 196.5 484.3 210.2 484.3 191.4 484.4 212.1 484.7 195.1 484.7 208.2 484.8 192.1 485.2 215.9 485.2 200.9 485.2 210.2 485.3 193.4 485.5 216.6 485.7 203.4 485.7 211.8 486 195.8 486.2 217.7 486.2 216.9 486.2 215 486.3 201.3 486.7 224.5 486.7 218.1 486.8 215.8 486.9 218.1 487.1 204.9 487.2 210.4 487.2 212.2 487.5 216.9 487.5 195.5 487.7 202.6 487.8 192.7 488.1 209.2 488.1 187.9 488.2 196.1 488.2 208.3 488.6 177.4 488.7 186.5 488.7 189.6 488.8 192.6 489.2 161.9 489.2 181.9 489.4 182.4 489.5 160.9 489.7 178.7 489.7 156.3 489.8 176.2 490.2 150.8 490.2 159.4 490.3 160.7 490.3 170.6 490.6 145.3 490.7 161.9 490.7 162.8 490.9 137.7 491 166.1 491.2 159.9 491.3 149.6 491.6 140.9 491.7 161.8 491.7 165.7 492.1 142.6 492.2 162 492.2 161.9 492.3 147.4 492.4 169.1 492.7 160.4 492.7 171.9 492.8 149.6 493.2 175.8 493.2 169.7 493.2 162.2 493.4 157.6 493.5 177.6 493.7 170.1 493.8 170.5 494 183.2 494 162.5 494.2 171.4 494.2 165.3 494.6 196.1 494.7 178.3 494.7 186.5 494.8 199.7 494.8 175.1 495.2 196.4 495.2 187.7 495.6 209.5 495.7 207 495.7 196.4 495.8 191.5 496 217.5 496.2 215.8 496.2 203.1 496.4 218.6 496.6 196.1 496.7 206.4 496.7 217.3 496.8 218.7 497 197 497.2 200.2 497.3 221.7 497.4 199.3 497.7 215.5 497.7 210.8 497.9 197.3 497.9 218.6 498.2 203.5 498.2 216.4 498.3 219.9 498.6 196.3 498.7 206.3 498.7 196.2 498.9 212.7 499.1 184.6 499.2 203.7 499.2 184.9 499.3 200.9 499.7 177.8 499.7 182.4 499.8 186.7 499.9 186.8 500.2 163.2 500.2 171.1 500.2 171.4 500.3 183.1 500.7 152.6 500.8 165.7 500.8 169 501.2 141.8 501.2 156.4 501.2 162.7 501.7 137.4 501.7 141.6 501.7 144.7 502 129.3 502.1 152.3 502.2 148.5 502.2 135.2 502.4 130.1 502.6 151.3 502.7 151.3 502.7 146.6 502.9 132.4 503.1 158.6 503.2 141.6 503.3 147.4 503.5 137.5 503.6 156.2 503.7 154 503.7 156.4 503.9 142.7 504.2 168.9 504.2 166 504.3 149.6 504.7 174 504.7 160.5 504.7 181.8 504.8 157.1 505.1 183.9 505.2 182 505.2 181.4 505.3 166.7 505.6 191.4 505.7 177 505.7 183.5 505.8 172.8 506.2 196.6 506.2 187 506.3 185 506.7 211 506.7 194.6 506.8 195.1 506.8 188.6 507.1 209.5 507.2 201.5 507.2 210.7 507.4 197 507.7 222.7 507.7 223.3 508.1 196.9 508.2 215 508.2 213.4 508.4 222.2 508.7 201.8 508.7 218.4 508.9 223.4 509.2 200.1 509.2 206.5 509.4 215.9 509.6 194.2 509.7 198.8 509.7 212.2 509.8 190.5 509.9 214.1 510.2 196.4 510.3 192.8 510.4 177 510.6 200.4 510.7 193.4 510.7 178 510.8 193.1 511.2 167.5 511.2 169.6 511.2 166.8 511.3 183.2 511.5 165.9 511.7 174.5 511.7 167.8 511.9 176.3 512.1 151.3 512.2 170.5 512.2 170.1 512.3 147.2 512.7 147.4 512.8 163.9 512.8 169 513 144.3 513.2 161.5 513.2 155.6 513.3 163.1 513.6 140.5 513.7 150 513.8 147.2 513.8 138.5 514.1 158.8 514.2 154.5 514.2 156.2 514.3 139.8 514.6 166.6 514.7 149.1 514.7 154.7 514.8 146.8 515.2 171.3 515.2 156.4 515.2 160.9 515.4 154.8 515.6 171.5 515.7 167.8 515.7 158.6 515.8 155.8 516.1 183.7 516.2 180.7 516.3 180.4 516.3 164.1 516.4 188.8 516.7 177 516.7 173.7 517.2 203.1 517.3 186.3 517.6 207.8 517.7 189.7 517.7 208.1 518.1 187.1 518.2 209.6 518.2 193.9 518.3 190.8 518.6 213.8 518.7 196 518.7 205.4 518.9 200.1 519 220.7 519.2 217.8 519.2 195.9 519.5 216.3 519.6 193.2 519.7 195.9 519.8 207.8 519.8 199.9 520.1 220.2 520.2 211.3 520.2 196.6 520.6 193.5 520.7 216.7 520.7 196.2 520.7 198.4 520.9 210.5 521.2 182.3 521.2 188.2 521.4 197.9 521.6 172.4 521.7 172.8 521.7 186.2 521.8 194.8 522.2 162.6 522.2 177.7 522.3 171.5 522.3 181.8 522.4 160.5 522.7 165.5 522.7 168.3 522.8 178.5 523.1 148.9 523.2 153.6 523.3 155.5 523.5 168.7 523.6 149.6 523.7 161.9 523.7 155.9 523.8 142.3 524 164.3 524.2 152.3 524.2 142 524.4 165.3 524.7 161.7 524.7 155 524.8 166.1 524.9 138.5 525.2 159.4 525.2 161.9 525.4 142.8 525.4 166 525.7 163.4 525.8 148.2 525.9 142.9 526.1 171.8 526.2 165.4 526.2 158.8 526.5 154 526.7 178.1 526.8 179.2 527.1 164.2 527.1 185 527.2 171.4 527.2 181.6 527.3 192 527.4 165.8 527.7 173.8 527.7 173.9 527.8 170.5 528.1 196.4 528.2 195.4 528.2 182.7 528.4 181.8 528.7 211.5 528.7 213.1 529 213.6 529.1 192.3 529.2 207.5 529.3 192.5 529.4 190.6 529.6 213.2 529.7 197.3 529.7 199.8 529.8 191.4 530.1 216.1 530.2 215.3 530.3 213.6 530.4 218.5 530.6 194.9 530.7 200.9 530.7 209 530.8 194.7 531.2 214.1 531.2 213.2 531.3 216.2 531.5 190.9 531.7 209 531.7 200.3 531.9 209.5 532.1 186 532.2 191.9 532.2 200.3 532.4 201.1 532.6 175.5 532.7 193.3 532.8 177.3 532.8 170.2 533.1 186.2 533.2 183.9 533.2 182.5 533.7 159.1 533.7 176.8 533.7 161.5 533.8 177.6 534 154.5 534.2 167.3 534.2 155.4 534.5 171.5 534.7 145.2 534.7 146.6 534.7 146.5 534.8 166.6 535 142.9 535.2 153.6 535.3 158 535.4 141.7 535.6 166.2 535.7 150.8 535.7 145.6 535.9 143.8 536.2 165.1 536.3 146.5 536.3 169.1 536.7 166.5 536.7 157.1 536.8 151.8 536.9 173.5 537.2 158.1 537.2 175.6 537.3 161.1 537.7 184 537.7 174.5 537.7 174.3 538 188.4 538.1 164.8 538.2 170.5 538.2 170.4 538.4 165.5 538.6 194.3 538.7 184.1 538.8 181.4 538.8 172 539.1 197.3 539.2 184.6 539.2 194 539.4 184.7 539.7 207.9 539.7 190.2 539.8 200.6 539.9 213.6 540 192.5 540.2 210.6 540.2 213.3 540.4 192.1 540.5 214.4 540.7 207.7 540.7 212.1 540.8 223.8 541.1 198.2 541.2 211.2 541.2 199.2 541.5 219.3 541.7 200.3 541.7 212.7 542 201.4 542.2 224.1 542.2 207.3 542.3 207.6 542.3 213.5 542.6 192.7 542.7 192.9 542.7 210.9 542.8 214.8 543 188.9 543.2 206.7 543.2 188.3 543.3 204.5 543.6 175.6 543.7 180.7 543.7 192.2 543.9 194 544.1 164.3 544.2 167.6 544.2 180.9 544.3 186.2 544.5 164.4 544.7 179.7 544.7 161.2 544.8 176.6 544.9 156.4 545.2 165.9 545.2 175.9 545.6 143.2 545.7 154.2 545.8 161.5 546 165.1 546.1 146.7 546.2 161.9 546.2 165.6 546.3 143 546.4 165.8 546.7 163.7 546.7 154.1 546.8 146.4 547.1 165.7 547.2 164.2 547.2 155.2 547.6 170.1 547.7 151 547.7 162 547.7 158.1 547.8 170.6 548 151.3 548.2 168 548.3 155.8 548.4 154.3 548.6 178.8 548.7 166 548.7 181.1 548.8 162.9 549.1 187.6 549.2 179.9 549.3 189.4 549.3 192 549.6 173.1 549.7 186.1 549.7 186.6 549.9 175.7 550.1 203 550.2 192.8 550.2 186 550.3 182.6 550.7 207.1 550.7 200.8 550.8 188 551.2 213.3 551.2 199.9 551.2 214.3 551.4 191.7 551.5 218 551.7 202.5 551.8 207.1 551.9 194.8 552.1 219.4 552.2 210.3 552.2 206.2 552.3 199 552.6 224.9 552.7 210.9 552.8 204.7 553.1 217.1 553.1 199.9 553.2 200 553.2 212.7 553.7 189.9 553.7 191.5 553.7 205.8 553.8 184.9 553.9 210.9 554.2 206.4 554.2 205.4 554.6 176 554.7 177.1 554.7 183.2 554.9 194.6 555.2 169.3 555.3 163.7 555.6 160.4 555.7 181.9 555.7 180.9 555.7 173.8 555.8 178.5 556 150.7 556.2 155.6 556.2 171.5 556.5 148.5 556.7 152.5 556.7 153.2 556.9 168.3 557 140.7 557.2 148.5 557.2 161.2 557.3 137.6 557.7 167.7 557.7 163.9 557.7 167.3 558 141.3 558.2 162.6 558.2 152.2 558.5 144 558.6 167.7 558.7 149.5 558.8 161.9 558.9 151.7 559.1 179.5 559.2 176.9 559.2 160.2 559.5 156.9 559.7 178.2 559.7 166.5 559.7 169.1 559.8 186.6 560.1 164.7 560.2 180.6 560.2 191.8 560.7 170.2 560.7 172.5 560.7 189.4 560.8 170.3 561.2 202.7 561.2 181.3 561.3 183 561.5 182.2 561.6 203.7 561.7 194.5 561.7 191.7 561.9 191.6 561.9 209.8 562.2 197.2 562.3 200.7 562.7 198.2 562.7 219.9 562.7 211.2 563.2 198.3 563.2 220.6 563.2 222.4 563.5 224.2 563.6 199.6 563.7 208.6 563.7 224.3 563.9 199.3 564.2 207.7 564.2 200.5 564.3 214.3 564.5 192.5 564.7 206.2 564.8 204.5 565.1 208.7 565.2 187.4 565.2 202.7 565.2 192.4 565.3 202.3 565.4 177.1 565.7 185.9 565.8 190.7 566 167.5 566.2 174.1 566.2 173.1 566.6 188.9 566.7 163.1 566.7 173.4 566.7 172.7 566.8 176.4 567.2 142.5 567.2 154.9 567.3 164.4 567.6 140.2 567.7 141.1 567.7 151.4 567.8 163.3 567.8 140.2 568.2 156.6 568.3 146.9 568.4 142 568.5 162.5 568.7 158.3 568.7 144.6 568.9 139.9 569 160.5 569.2 149.3 569.2 146.2 569.6 143.6 569.6 163.3 569.7 154.9 569.7 144.8 570.1 168.8 570.2 158.2 570.2 149.6 570.7 171.7 570.8 170.6 570.8 164 571.2 185 571.2 180.2 571.4 190.6 571.6 169.5 571.7 172 571.8 178.7 571.9 176.8 572.2 202.5 572.2 192.1 572.2 186.4 572.6 207.3 572.7 188.6 572.7 199.5 572.8 192.3 573 214.4 573.2 213.6 573.2 207.5 573.3 206.7 573.5 227.4 573.7 209.6 573.7 225.1 573.8 228.1 574 205.1 574.2 218.4 574.3 220 574.3 230.7 574.6 205.4 574.7 217.2 574.7 216.4 574.9 224.6 575.2 205.1 575.2 208.9 575.3 209.3 575.4 200.2 575.5 221.4 575.7 204.3 575.7 207.5 575.9 211.9 576.2 184.7 576.2 192.2 576.2 190 576.3 206 576.5 182.1 576.7 196.9 576.7 201.6 576.9 174.7 577.2 189.1 577.2 183.8 577.3 188.6 577.5 162 577.7 169.8 577.8 163.6 577.8 178.1 578.1 155 578.2 158.6 578.2 159.1 578.3 149.3 578.7 171.6 578.7 160.7 578.8 160.2 578.8 166.3 579.2 141.7 579.2 137.7 579.3 159.6 579.7 159 579.7 135.8 580.2 163.7 580.2 148.4 580.7 168.7 580.7 158.1 580.7 162.3 580.8 147.2 581.2 170.4 581.3 154.2 581.6 176.8 581.7 172.4 581.7 178.6 581.9 161 582 179.5 582.2 171.4 582.2 173.2 582.3 170.4 582.6 189.4 582.7 185.7 582.7 173.4 583.2 201.5 583.2 197.8 583.2 195.1 583.3 178.7 583.5 210.7 583.7 204.6 583.8 196.8 583.9 193.4 584.1 220.4 584.2 216.8 584.2 209.9 584.3 203.9 584.6 224.8 584.7 217.9 584.8 205.2 585 229.2 585.1 202.8 585.2 216.4 585.2 214.3 585.3 227.4 585.6 203 585.7 204.5 585.7 229.1 586 201.4 586.2 222.2 586.2 201.2 586.5 197.6 586.6 218.4 586.7 203.2 586.7 211.5 586.9 191.9 587.2 192.9 587.3 205.5 587.5 207.2 587.7 179.8 587.7 186.3 587.8 198 588.2 164.6 588.3 186.1 588.7 159.8 588.7 170.1 588.7 160.8 589.1 172.1 589.2 147.8 589.2 157 589.2 163.5 589.3 166.4 589.7 139 589.7 156.4 589.7 143.3 589.8 159.8 590 132.4 590.2 148.3 590.2 150.6 590.3 153.8 590.6 133.5 590.7 139.1 590.8 146.3 590.8 149.3 591 133.8 591.2 137.9 591.2 149.5 591.3 136.6 591.7 158.3 591.7 156.1 591.7 141.6 592.1 160.6 592.2 157 592.2 154.1 592.3 143.6 592.5 171.8 592.7 167.1 592.7 156.2 592.8 152.2 593 173.6 593.2 163.4 593.2 176.2 593.3 170.1 593.4 188.3 593.7 185 593.7 181.2 594 189.9 594 169.2 594.2 182.1 594.3 181.5 594.5 179.6 594.7 204.3 594.7 189.1 594.7 184 595 207.2 595.2 193.8 595.2 192.9 595.7 217.4 595.7 200.3 595.7 206.4 595.9 195 596 218.1 596.2 202.1 596.2 207.2 596.4 221.4 596.6 196.5 596.7 205.8 596.8 219.8 596.8 221.3 597.1 191.7 597.2 199.9 597.2 192.7 597.6 210.5 597.7 191.7 597.7 205.2 597.8 196.6 597.9 184.5 598 211.7 598.2 198.3 598.2 204 598.6 172.8 598.7 193.2 598.7 190 598.8 168.7 599.2 176.4 599.2 166.1 599.4 180.9 599.7 157.4 599.7 161.9 599.7 155.3 599.8 173.6 600.2 142.2 600.3 155.4 600.5 139.4 600.7 161.4 600.7 150.8 600.9 160.9 601.1 132.9 601.2 147.5 601.3 154.1 601.3 134.7 601.5 159.1 601.7 154.7 601.7 145.7 601.9 137.3 602.2 158 602.2 157.1 602.5 135.4 602.5 158.8 602.7 153.4 602.7 142.4 602.9 140.1 603 165.3 603.2 164.5 603.2 147.2 603.3 146.2 603.7 174 603.7 166 603.8 163.7 603.8 154.4 603.8 178 604.2 176.2 604.2 176.7 604.3 161 604.5 183 604.7 181.3 604.7 169.3 605.1 199.4 605.2 178 605.2 192.5 605.5 206.5 605.6 183.7 605.7 194.2 605.7 207.6 606 192.9 606 215.9 606.2 204.4 606.3 208.6 606.3 196.8 606.7 223.2 606.7 209.4 606.8 225.9 607.1 204.1 607.2 207.8 607.3 213.6 607.4 200.1 607.6 225.2 607.7 206.2 607.7 209.3 607.8 224.6 608 200.1 608.2 214.6 608.2 213.8 608.4 220.2 608.6 196.2 608.7 203.6 608.7 200.5 609 213.7 609.1 188.6 609.2 203.9 609.2 194.6 609.3 186 609.4 209 609.7 186.8 609.8 182 610.1 198.6 610.1 178.5 610.2 191.8 610.2 174.3 610.3 191.5 610.7 160.6 610.8 164 610.9 151.3 611.1 179.5 611.2 156.5 611.2 167.8 611.3 177.2 611.7 146.3 611.7 151.1 611.7 146 612 144.7 612.2 161.3 612.2 149.7 612.5 143.3 612.7 165.7 612.7 145.2 612.7 146.8 613 142.8 613.2 163.5 613.2 158.8 613.3 157.9 613.4 164.2 613.7 143 613.7 156.3 614 146.5 614.2 172.2 614.3 156 614.3 150.4 614.4 177.6 614.7 163.6 614.7 179.5 614.8 155.8 614.9 181.9 615.2 178.7 615.2 173.4 615.4 169.2 615.6 188.2 615.7 180.7 615.7 172.2 616.1 199.6 616.2 184.3 616.2 190.5 616.4 210 616.6 187 616.7 205.5 616.8 210.6 616.8 190.3 617.1 212.8 617.2 195.6 617.2 198.8 617.4 194 617.7 220.1 617.7 197.8 617.7 210.9 617.9 194.2 618.1 218.4 618.2 205.7 618.2 218.8 618.3 200.4 618.4 224.6 618.7 207.1 618.7 211.7 618.8 226.3 619.2 201.2 619.2 215.3 619.3 220.7 619.4 196.1 619.7 196.6 619.7 196.8 619.9 215.9 620.2 186 620.3 186.6 620.3 206.1 620.4 185.4 620.7 193.9 620.7 200.3 621.2 173.7 621.2 178.1 621.2 173.1 621.3 185.4 621.6 159.2 621.7 177.3 621.7 161.9 621.8 177 621.9 155 622.2 159.7 622.2 167.3 622.5 144.8 622.7 158 622.8 152 622.9 161.9 623.1 137.7 623.2 155.9 623.2 148.7 623.6 164.5 623.7 143.5 623.7 151.9 623.8 154.3 623.9 161.1 624.1 141.8 624.2 159.9 624.2 155.5 624.6 144.7 624.6 168.5 624.7 159.4 624.7 145.7 624.9 168.2 625.2 155.3 625.2 170.2 625.3 147.8 625.6 174.1 625.7 168.4 625.7 162.1 626.1 190.8 626.2 182.6 626.3 166.1 626.6 187.6 626.7 178.6 626.7 173.4 627 203.9 627.2 192.8 627.2 193.4 627.3 193 627.7 214.3 627.7 206.6 627.7 198.4 628 221.9 628.2 202.9 628.2 217.1 628.5 201.2 628.6 223.9 628.7 212.7 628.7 209.7 629 203.1 629.1 228.4 629.2 224.2 629.2 216.2 629.3 230.6 629.6 207.2 629.7 225.5 629.8 221.5 630 229.2 630.1 211.9 630.2 218.2 630.2 221.5 630.3 231.4 630.7 203.9 630.7 224.5 630.7 214.1 630.9 224.2 631.1 197.6 631.2 202.7 631.2 198.7 631.4 216.9 631.7 188.5 631.7 197.1 631.8 210.1 632 182.9 632.2 201 632.3 197.2 632.4 199.4 632.7 169.3 632.7 175 632.7 185.2 632.9 186.6 633.2 162.3 633.2 164.6 633.3 164.5 633.4 180.6 633.6 158 633.7 162.9 633.7 162.7 633.8 179.1 633.9 154.5 634.2 163.2 634.2 163.5 634.3 150.3 634.3 169.5 634.7 159.2 634.7 154.3 635 148.2 635 170 635.2 152.5 635.2 155.7 635.5 172.3 635.7 149.2 635.8 168.9 636 152.8 636.2 177.3 636.2 163.5 636.2 166.2 636.3 160.5 636.7 186.9 636.8 162.4 637.1 188.5 637.2 179.3 637.2 187.4 637.4 172.8 637.7 197.9 637.7 183.5 637.7 181.9 637.8 199.4 637.9 174.9 638.2 179.1 638.2 190.1 638.4 181.6 638.6 204.8 638.7 188.8 638.7 195.4 639.2 213.8 639.2 195 639.3 207 639.3 216.2 639.5 194.2 639.7 198.1 639.7 213.9 639.8 194.4 640 218.7 640.2 216 640.2 213.6 640.6 191.5 640.7 216.6 640.7 219.5 641.1 192.6 641.2 195 641.2 203.6 641.3 199.2 641.4 218.1 641.7 208.4 641.7 196.3 642.1 185.3 642.2 209.1 642.2 188.6 642.3 207.4 642.7 179.5 642.7 199.5 642.8 176.8 642.9 191.5 643.2 167.9 643.2 186.3 643.3 188.4 643.7 161.6 643.7 159.8 643.9 178.3 644.2 169.6 644.2 179.3 644.7 149.7 644.7 155 644.7 169.2 644.9 144.9 645.2 160.8 645.3 162.3 645.4 145.8 645.5 166.4 645.7 160.7 645.7 153.8 645.9 166.6 646 144.3 646.2 163 646.3 160.2 646.4 168.3 646.7 148.5 646.7 160.8 646.7 159.6 646.8 150.1 646.9 170.9 647.2 160 647.2 166.9 647.5 153.8 647.7 182.1 647.7 185.2 648.2 162.3 648.2 171.3 648.5 191.1 648.7 177 648.8 192.1 648.9 173.4 649.2 198.8 649.2 200 649.4 181.1 649.7 193.4 649.8 191.6 650 189.4 650 211.3 650.2 196.4 650.2 189.4 650.5 216.8 650.7 199.4 650.7 198 650.8 195.3 651.1 219.8 651.2 201.4 651.2 209.7 651.3 219 651.5 197.3 651.7 203.3 651.7 200.3 651.8 222.6 652 195.9 652.2 206.5 652.3 202.3 652.6 192.5 652.6 212.3 652.7 208.3 652.7 210.7 653.1 186.5 653.2 206.2 653.2 194.4 653.6 200.8 653.7 178.4 653.7 182.5 653.9 172.9 654.1 196.8 654.2 179.4 654.2 179.8 654.3 192.5 654.4 167.8 654.7 168.7 654.8 176.8 655 153.4 655.2 161.6 655.2 165.8 655.5 168.3 655.7 148 655.7 156 655.8 156.3 655.8 166.4 655.9 145.8 656.2 148 656.2 165.3 656.3 166.3 656.5 144.7 656.7 153.7 656.7 140.1 656.8 166 657 137.3 657.2 160.8 657.2 142.7 657.7 162.5 657.7 155.3 657.8 142 658.1 173.6 658.2 166.2 658.3 168.9 658.4 144.9 658.7 165.1 658.7 161.1 658.9 157.5 659.1 181.4 659.2 168.3 659.3 163.3 659.3 160.4 659.6 188 659.7 167.1 659.7 178.7 660.1 172.8 660.1 195.5 660.2 183 660.2 191.3 660.5 202.8 660.7 181 660.7 181.9 660.9 181.7 661.2 210.5 661.2 189.3 661.2 207.2 661.3 189.7 661.6 217.1 661.7 199.9 661.8 211.2 661.8 217.4 661.9 193.3 662.2 211.4 662.2 204.1 662.3 215.8 662.3 197.8 662.7 206.8 662.8 207.9 662.8 197.4 663 220.9 663.2 209.7 663.2 210.4 663.3 214.6 663.5 191.2 663.7 192.5 663.7 199.1 663.8 216.8 664.1 182.3 664.2 196.5 664.2 188.4 664.3 203 664.7 177.2 664.7 178.4 664.7 196.1 664.9 197.6 665.1 165.3 665.2 191.8 665.3 178.9 665.3 180.8 665.6 154.8 665.7 160.4 665.7 170.8 666 174.1 666.1 155.2 666.2 156.1 666.2 169.4 666.6 140.7 666.7 145.4 666.7 140.4 667 139.5 667.1 159.7 667.2 149.2 667.2 155.2 667.4 157.8 667.6 132.8 667.7 140.3 667.8 149.6 668 157.1 668.1 138.5 668.2 155.5 668.2 147 668.3 138.7 668.5 158.6 668.7 157.2 668.8 162 668.8 167.4 668.8 145.2 669.2 162.4 669.2 168.7 669.3 147.7 669.5 175.6 669.7 162.2 669.7 158.7 669.8 158.1 670.2 182 670.2 177.5 670.4 162.2 670.5 190.3 670.7 179.8 670.7 170 671.1 197.1 671.2 181.3 671.3 189.3 671.3 183 671.6 209.7 671.7 201.7 671.7 207.8 671.9 193.7 672.1 215.4 672.2 215 672.3 215.6 672.4 224.7 672.6 198.3 672.7 206.3 672.7 221.9 672.8 205.3 673.2 224.9 673.2 211.4 673.2 208.1 673.5 223.3 673.7 201.6 673.7 212.2 673.8 221.4 673.9 202.7 674.2 212.3 674.2 211.2 674.3 216.4 674.5 194.8 674.7 203.2 674.8 199.2 674.8 217.9 675 189.8 675.2 195.5 675.2 201.5 675.4 180.2 675.7 195.7 675.7 189.3 675.9 174.7 676.2 191.7 676.2 189.8 676.2 174.2 676.6 187.3 676.7 162 676.7 178.3 676.8 179.2 676.9 157.6 677.2 169.1 677.2 156.7 677.5 167.5 677.7 146.7 677.7 159.9 677.7 145.5 677.9 160.9 678 135.4 678.2 136.6 678.3 144.5 678.3 154 678.6 132.4 678.7 149.8 678.7 138.9 678.8 154.7 678.9 134.8 679.2 149.3 679.2 153.1 679.4 156.6 679.5 135.1 679.7 142.1 679.7 139.4 679.9 165.4 680.2 142.1 680.2 146.6 680.3 143 680.3 167.8 680.7 153.7 680.8 151.2 680.8 149.6 681.2 176.5 681.2 170 681.2 161.4 681.4 157.5 681.6 181.5 681.7 168.4 681.8 181.3 681.8 166.1 682.2 192.7 682.2 185.3 682.2 192.7 682.4 176.5 682.5 196.3 682.7 191 682.7 197.2 683 182.7 683.2 209 683.2 190.6 683.4 214.2 683.7 200.5 683.7 208.5 683.8 197.9 684.1 221.2 684.2 205.5 684.3 211.3 684.3 196.5 684.7 222.9 684.7 221.6 685.2 199.8 685.3 215.5 685.6 217.9 685.6 198.7 685.7 208.7 685.7 212 686.2 179 686.2 180.6 686.2 176.6 686.4 193.1 686.6 172.7 686.7 175.3 686.7 171.5 686.8 193.5 687.2 166.1 687.2 184.2 687.5 159.5 687.7 173.4 687.8 169.1 688 171.6 688.1 148.7 688.2 152.3 688.2 152.3 688.4 138.7 688.6 162.6 688.7 151.6 688.7 143.7 688.9 153 689.1 132.5 689.2 145.2 689.2 152.9 689.7 154.5 689.7 130.4 689.7 140.4 689.7 150.6 689.9 154 690.2 132.5 690.2 139.1 690.2 143.2 690.3 129 690.6 153.4 690.7 146.7 690.7 153.4 691 134.9 691.2 156.9 691.3 148.8 691.3 138.8 691.7 168.3 691.7 159.9 692 169.9 692.2 150.4 692.2 157.8 692.3 156.5 692.3 177 692.7 176.9 692.7 182.9 692.8 167 693.2 193.3 693.2 193.2 693.2 181.5 693.3 175 693.7 195.1 693.8 191.4 693.9 177.7 694.1 201.4 694.2 188.7 694.2 202.9 694.3 190.1 694.5 213.7 694.7 205.6 694.8 199.2 694.9 190.2 695.2 212.7 695.2 195.6 695.2 210 695.3 190.4 695.5 216 695.7 197.5 695.7 203.1 696 216.6 696.2 188 696.2 202.9 696.3 188.4 696.4 212.4 696.7 189.1 696.7 204.4 697 210.9 697.2 188 697.2 199.9 697.3 188.3 697.3 206 697.6 176.8 697.7 180.7 697.7 184.2 698 194.6 698.2 172.3 698.3 176 698.3 186 698.6 157.9 698.7 177.6 698.7 180.2 699 180.5 699.1 152.4 699.2 172.9 699.2 162.1 699.3 170.4 699.4 147.2 699.7 158.1 699.7 145 699.8 157.4 699.8 135.7 700.2 140 700.2 140.7 700.3 158.4 700.7 135.2 700.7 150.7 700.8 136 700.9 156.5 701.1 131.9 701.2 151.3 701.2 139.3 701.7 162.4 701.7 156.9 701.7 149.4 701.9 137.5 702 159.8 702.2 153.9 702.2 162.6 702.4 146.2 702.7 167.7 702.7 155.3 702.7 161.4 702.9 157.2 703.2 182.3 703.3 163.4 703.4 182 703.6 161.2 703.7 166.5 703.7 182.1 704.1 193 704.2 171.5 704.3 185.8 704.4 176.1 704.5 201.7 704.7 198.6 704.7 189.6 704.9 206.2 705.1 182.2 705.2 195.3 705.2 209.2 705.6 188 705.7 191 705.7 186.7 706.2 215.4 706.2 196.7 706.2 202.8 706.4 197.3 706.6 215.3 706.7 204.5 706.8 214.6 706.9 217.1 707.1 191.5 707.2 195.7 707.2 191.1 707.4 213.7 707.6 190.9 707.7 213.4 707.8 208.1 708 209.6 708.2 192.6 708.2 193.5 708.2 206.2 708.6 175.5 708.7 177.3 708.7 192.6 708.9 173.2 709.2 173.3 709.2 178.4 709.3 187 709.5 161.4 709.7 167.7 709.7 167.7 709.8 176 710.1 147.9 710.2 149 710.3 153.4 710.4 169.4 710.6 145.1 710.7 151.6 710.7 144.2 710.8 142 711.1 161 711.2 146.4 711.3 158.5 711.6 135.2 711.7 138.2 711.7 142.5 712 134.6 712.2 156.1 712.2 148.2 712.2 142.1 712.4 138.8 712.7 162.1 712.7 148.3 712.7 150 713 141.6 713.1 165.3 713.2 146.3 713.2 150.3 713.5 175.4 713.7 164.7 713.8 164.6 713.8 158.2 714.1 182.3 714.2 166.4 714.2 167.3 714.4 163.3 714.4 183.6 714.7 177.5 714.7 174.1 715.1 192.9 715.2 184.6 715.2 173.8 715.5 198.2 715.7 189.3 715.7 193.4 716 188.3 716.1 211.4 716.2 207.8 716.3 197.6 716.3 193.6 716.6 220.5 716.7 213.4 716.7 221.2 716.9 201.3 717.2 226 717.2 213.8 717.3 217.6 717.5 202.7 717.6 227.7 717.7 206.7 717.7 209.5 717.9 230.8 718.2 200.3 718.2 218.4 718.2 209.1 718.4 201.9 718.5 223.4 718.7 216.9 718.7 214.8 718.9 220.5 719.2 192.8 719.2 206.2 719.4 211.3 719.6 186.4 719.7 192.6 719.8 188.5 719.8 206.6 720.2 173.6 720.2 185 720.3 188.1 720.7 166.4 720.7 174.4 720.8 167.3 721 182.8 721.2 155.7 721.2 177.3 721.2 172.6 721.3 173.8 721.7 150.5 721.7 166.2 721.7 148 721.9 166.5 722 142.1 722.2 158.7 722.2 160.9 722.7 136.4 722.7 137.8 722.7 142.7 722.9 137.8 723.2 160.9 723.2 147.5 723.3 149.5 723.4 161.7 723.6 137.3 723.7 151.2 723.7 149 723.8 137.3 724.2 164.5 724.2 150 724.2 147.3 724.3 168.8 724.5 142.8 724.7 158.4 724.7 155.6 724.9 175.4 725.2 157.4 725.2 156.8 725.3 182.4 725.7 175.4 725.7 166 726 165.7 726.1 190.1 726.2 165.9 726.2 174.6 726.3 171 726.5 195.6 726.7 182.7 726.8 182.1 726.9 202.8 727 178.3 727.2 202.5 727.2 181 727.7 208.4 727.7 191.1 727.7 204.7 727.9 190.1 728.1 216.1 728.2 209.6 728.2 210.6 728.3 189.2 728.3 211.9 728.7 200.8 728.7 199.7 728.9 190.2 729.1 217.8 729.2 207 729.3 192.4 729.4 207.8 729.5 188.4 729.7 188.5 729.7 189.4 729.9 209.9 730.1 182.6 730.2 193.8 730.3 192 730.3 177.1 730.6 202.1 730.7 193.6 730.7 183 730.9 199.5 731.1 169.6 731.2 173.5 731.2 172.3 731.3 186.2 731.7 159.1 731.7 156.4 731.8 176.6 732.1 145.9 732.2 151.8 732.2 159.7 732.3 144 732.3 169.2 732.7 145.3 732.8 164.8 733.2 134.1 733.2 140.4 733.6 134.7 733.6 157.4 733.7 136.8 733.8 144.8 733.8 155 734.2 129.8 734.2 130.3 734.7 161.7 734.7 142.3 734.7 159 734.8 148.2 735 169.5 735.2 158.5 735.2 154 735.4 143.5 735.6 169.6 735.7 153.7 735.7 156.1 735.8 148.6 736.1 173.7 736.2 166.1 736.3 158 736.5 155.6 736.6 180.8 736.7 168.1 736.7 177.9 736.9 180.5 737.1 164.7 737.2 169.6 737.2 182.6 737.3 170 737.5 195.6 737.7 180.1 737.7 193.1 738 180.8 738.2 202.3 738.2 194.7 738.2 200 738.5 185.5 738.6 210.8 738.7 200.4 738.7 195.3 739 212 739.2 186.9 739.2 200.1 739.5 193 739.5 215.2 739.7 213.7 739.8 203.2 740.1 192.5 740.2 211.9 740.2 208.1 740.3 216.6 740.6 190 740.7 194.8 740.7 193.9 740.8 208 741.1 182.6 741.2 186.3 741.2 183.4 741.4 197.6 741.7 173 741.7 168.4 741.8 190.3 742.1 162.9 742.2 167.1 742.3 186.2 742.6 162.9 742.7 178.1 742.7 170.7 743 174.3 743.1 153.6 743.2 156.6 743.3 155.5 743.3 167.1 743.5 139.7 743.7 160.5 743.7 152.8 743.9 161.3 744.1 131.5 744.2 153.6 744.2 144.3 744.4 156.3 744.6 132.8 744.7 150.8 744.7 132.4 744.8 131.2 745 155.8 745.2 149.5 745.2 142.7 745.4 133.5 745.6 156.2 745.7 148.8 745.8 137.7 746.1 160.7 746.2 137.1 746.2 154.2 746.2 151.2 746.3 143.3 746.5 165.6 746.7 155.9 746.8 163.3 746.8 148.5 747.2 170.2 747.2 160.3 747.2 157.6 747.4 178.2 747.7 176.8 747.7 182.6 747.9 168.2 748 189.7 748.2 177.8 748.2 171.8 748.3 168.9 748.7 193.8 748.7 190.1 748.7 173.9 748.8 194.1 749.2 185.9 749.3 188.3 749.3 177.8 749.6 209.2 749.7 207 749.7 200.5 750 191.8 750.2 212.9 750.2 203.4 750.2 204.4 750.5 187.4 750.6 214.5 750.7 194.9 750.7 195.2 751 186.4 751.1 208 751.2 189.3 751.2 199.4 751.6 192.6 751.7 210.7 751.8 205.2 751.9 209.5 752.1 183.3 752.2 183.8 752.2 178.2 752.4 198.3 752.5 174 752.7 187.2 752.8 187.7 752.8 193.1 753.1 167.3 753.2 170.9 753.2 181.9 753.4 161 753.7 184 753.7 164.8 753.7 178.2 754.1 149.9 754.2 169.2 754.2 161.5 754.3 167 754.6 142.2 754.7 145.1 754.7 157.6 755 159.6 755.1 140 755.2 148.5 755.3 139.1 755.4 132.4 755.6 156.3 755.7 147.5 755.7 144.1 755.9 153.3 756.1 134.2 756.2 142.9 756.3 136 756.4 135.6 756.6 161.8 756.7 158.1 756.7 159.6 756.9 134.6 757.2 160.9 757.2 149.5 757.2 150.4 757.4 165.7 757.5 144.4 757.7 145.1 757.7 162.6 757.8 149.6 758.2 170 758.2 150.6 758.7 186.7 758.8 176.3 758.8 170.7 759.1 192.3 759.2 186.4 759.2 179.3 759.3 172.3 759.7 192.1 759.7 181.4 760 180.6 760.1 202.9 760.2 191.7 760.2 190.3 760.5 185 760.7 211.2 760.7 206.1 761.1 192.1 761.2 216.9 761.2 206.4 761.2 207.5 761.4 198.5 761.6 221.1 761.7 218.2 761.7 216.6 762.1 219.2 762.1 196.3 762.2 200 762.3 203.9 762.3 216 762.6 195.5 762.7 212.1 762.7 206.3 762.8 214.3 762.9 192.8 763.2 207.6 763.2 196.8 763.4 205.1 763.5 181.8 763.7 183.3 763.7 181.5 764 191.1 764.2 170 764.2 170.2 764.3 186 764.6 159.9 764.7 176.1 764.8 156.2 764.8 173.3 765 146.2 765.2 162.3 765.2 145.8 765.6 164.7 765.7 137.7 765.7 149.2 765.8 149.7 765.8 160.9 766.1 136.6 766.2 154.5 766.2 136.1 766.4 131.3 766.6 153.3 766.7 146.9 766.7 137.6 766.9 128.7 767 152.2 767.2 148.1 767.2 137.5 767.3 132.2 767.5 153.4 767.7 146.9 767.7 141.9 767.9 137.2 768.2 160.6 768.2 154.3 768.3 140.8 768.3 160.3 768.7 158.1 768.7 153.9 768.9 144.4 769.2 167.8 769.3 147.5 769.7 180.7 769.7 177.2 769.9 162.9 770.2 191.8 770.2 180.4 770.3 179.7 770.5 197.7 770.7 190.8 770.7 182.9 770.9 178.8 771 206.8 771.2 184.3 771.2 197.2 771.6 183.7 771.7 207.4 771.7 196.8 771.8 202.9 771.9 211.9 772.1 189.5 772.2 200.4 772.2 197.3 772.3 188.7 772.6 215.2 772.7 197.5 772.7 212.8 772.8 214.5 772.9 193.2 773.2 208.5 773.2 194.2 773.3 213.3 773.7 185.2 773.7 198.5 773.7 196.9 773.8 209.4 774.2 183.1 774.2 181.2 774.3 197.4 774.7 173.7 774.7 169.7 775 186.1 775.2 177.3 775.3 168.2 775.3 180.9 775.5 153.6 775.7 171.4 775.7 153.4 775.8 176 776 148.1 776.2 165.6 776.2 165.1 776.6 136.7 776.7 142.8 776.7 153.4 776.8 158.3 777.1 134.4 777.2 137.7 777.2 143.4 777.4 128.9 777.5 151.2 777.7 131.5 777.8 139.6 778.1 148.4 778.1 129.8 778.2 139.6 778.2 127.6 778.5 152.4 778.7 129.7 778.8 134.1 779 160 779.2 151.5 779.2 146.8 779.3 161.5 779.4 136.1 779.7 157.3 779.7 159.5 779.8 142.5 780.1 168.5 780.2 157.1 780.2 145.5 780.7 173.4 780.7 174.4 780.8 153.6 781.2 180.7 781.2 171.9 781.3 175 781.6 197 781.7 189 781.7 172.9 782.1 201.7 782.2 186.1 782.3 184.5 782.7 206.8 782.7 206.1 783 188 783.1 213.7 783.2 196.5 783.2 215 783.5 190.8 783.5 215.7 783.7 202.2 783.7 210.2 783.9 215.8 784.1 189 784.2 206.5 784.2 189.1 784.6 204.7 784.7 183.6 784.7 203.7 784.8 185.5 784.8 203.5 785.1 180.1 785.2 193.9 785.2 189.7 785.3 200.7 785.7 168.1 785.7 175.3 785.7 172.3 786.1 186 786.2 163 786.2 175.4 786.2 163.8 786.6 173.3 786.7 150.2 786.7 167.1 786.7 166.6 786.8 168.2 787.2 143.7 787.2 159 787.3 145.5 787.5 140.9 787.6 163.7 787.7 155.8 787.7 154.4 787.9 157.1 788 129.3 788.2 145.7 788.3 126.8 788.6 145.7 788.7 125.9 788.7 139.7 788.9 147.8 789 126.4 789.2 130.8 789.2 142.8 789.3 125.9 789.5 148.6 789.7 125.9 789.7 141.7 789.9 128.7 789.9 151.9 790.2 140.4 790.2 148.6 790.5 138.1 790.7 164 790.7 155.9 790.8 158.5 790.8 168.2 790.9 145.6 791.2 168 791.2 164.7 791.4 152.1 791.7 177.6 791.8 165.8 792.1 191 792.2 178 792.2 187.9 792.3 164.2 792.4 190.1 792.7 172.5 792.7 173.6 793.1 202.7 793.2 177.9 793.2 188.8 793.4 184.5 793.7 210 793.7 209.9 794 186.6 794.2 218.1 794.2 197.7 794.3 211.3 794.3 198.5 794.7 218.6 794.7 215.2 795 217.3 795 194 795.2 215.5 795.3 205.1 795.4 191.2 795.5 213.1 795.7 201.1 795.7 205.8 795.8 211.7 795.9 186.5 796.2 200.8 796.2 200.6 796.3 203.8 796.7 177.5 796.7 196.3 797.2 170 797.2 167.7 797.4 187.6 797.6 167.7 797.7 176.3 797.8 167.6 797.8 181.4 798 155.1 798.2 173.6 798.2 169.6 798.3 172.6 798.4 147.3 798.7 162.6 798.7 158.5 798.8 144.4 799.1 162.4 799.2 148.4 799.2 160.2 799.7 135.7 799.7 144.1 799.7 141.7 799.9 156.9 800 135.2 800.2 150.5 800.3 145.7 800.3 157.1 800.5 135 800.7 156.8 800.7 144 800.8 141.6 801.2 164.3 801.2 149.7 801.3 155.8 801.3 147.7 801.6 171.7 801.7 159.6 801.7 168.4 801.9 174.2 802 151.8 802.2 164.4 802.2 166.7 802.3 156 802.6 186.7 802.7 173.5 802.7 165.3 803 193.9 803.2 191.3 803.2 198.2 803.3 176.9 803.5 198.7 803.7 195.9 803.8 186.3 803.9 181.8 804.2 200 804.2 191.5 804.4 185.6 804.6 210.9 804.7 209 804.8 207.2 804.8 192.2 805 215.2 805.2 201.1 805.2 203.9 805.5 217.9 805.6 191.6 805.7 203.4 805.7 214 805.9 217.6 806 193.2 806.2 210 806.2 207.7 806.3 215 806.5 193.5 806.7 198.4 806.7 206.1 806.9 213 807.2 190.4 807.3 193.5 807.3 200.4 807.5 180.3 807.7 182 807.7 187.5 807.9 198.3 808.1 176.2 808.2 185.7 808.2 185.5 808.5 188.6 808.6 165.6 808.7 178.4 808.7 168.2 808.8 185.8 809.2 159.8 809.2 168.8 809.3 176.8 809.5 154 809.7 159.2 809.7 146.4 809.8 165.3 810.1 142.1 810.2 156.3 810.2 154.2 810.3 160.9 810.6 140.3 810.7 146.6 810.8 147.3 810.8 162.8 811.1 141.9 811.2 145.8 811.2 147.9 811.4 140.2 811.6 164.1 811.7 153.6 811.7 142.4 811.9 139.7 812.1 162 812.2 156 812.2 167.6 812.3 147.2 812.5 168.3 812.7 161.3 812.7 169.1 813 148.3 813.1 178.7 813.2 176.5 813.3 174.4 813.4 181.8 813.6 163.1 813.7 169.6 813.7 174.2 813.9 166.5 814.2 193.3 814.3 175.4 814.7 197.8 814.7 181.1 814.7 186.1 814.9 181.6 815.1 208 815.2 195.7 815.2 203.9 815.5 185.5 815.6 207.4 815.7 206.8 815.7 188.8 816.1 211 816.2 190.7 816.2 192.2 816.5 189.8 816.7 211.1 816.8 196.1 816.8 213.4 817.1 188.7 817.2 201.8 817.2 209.5 817.7 185.1 817.8 199.6 818.1 203.4 818.1 180.9 818.2 196.7 818.2 181.9 818.4 199.8 818.7 177 818.7 176.2 818.8 195 819 168 819.2 172.1 819.2 171 819.5 159.8 819.7 179.3 819.7 160.7 819.7 156.9 819.9 154.9 820 169.9 820.2 169.3 820.3 158.8 820.5 166.1 820.7 144.9 820.7 156.8 820.7 151.5 820.9 155.8 821.1 135.4 821.2 153.2 821.2 136.8 821.3 155.1 821.6 128.5 821.7 138.3 821.7 152.2 821.9 152.2 822.2 132.5 822.2 133.2 822.2 142.2 822.3 154.3 822.7 130.4 822.7 141.5 822.7 142.8 822.9 155.6 823 133.5 823.2 138.1 823.2 145.3 823.3 134.8 823.7 170.3 823.8 154 824.1 148.1 824.1 170.3 824.2 159.9 824.2 176.9 824.3 152 824.6 180.2 824.7 158.8 824.7 163.8 824.8 160.2 825.2 182 825.2 179.5 825.2 178.2 825.3 167 825.5 193.6 825.7 182.1 825.7 196.5 825.9 177.2 826.2 206.5 826.2 197.8 826.3 207.9 826.4 186.7 826.5 211.6 826.7 198.9 826.7 205.6 827 214.9 827.2 189.6 827.3 196.7 827.4 195.1 827.5 218.1 827.7 199.2 827.7 197 827.8 194.3 828 217.5 828.2 198.7 828.2 190.2 828.6 212.7 828.7 196.5 828.7 192.8 828.8 211.6 829.2 188.8 829.2 192.1 829.3 206.7 829.6 180.7 829.7 196.9 829.8 182 829.8 195.9 830.2 172.1 830.2 184.6 830.7 162.9 830.8 179.2 831.1 148.8 831.2 164.4 831.2 147.6 831.4 158.3 831.6 134.9 831.7 139.4 831.7 137.4 831.8 149.2 832.1 131.4 832.2 147 832.2 142.4 832.3 150.5 832.7 127.6 832.7 135.6 832.7 141.1 833 126.1 833.1 148.1 833.2 139.5 833.3 145.4 833.4 129.2 833.5 150.1 833.7 143.4 833.7 142.7 833.9 155.3 833.9 132 834.2 147.7 834.2 151.9 834.4 159.3 834.6 138.9 834.7 153.7 834.7 137.8 835.2 170.4 835.2 171.5 835.3 151.7 835.7 178.2 835.7 167.7 835.8 167.7 835.8 161.2 836.2 188.3 836.2 170.9 836.2 174.5 836.3 169.6 836.7 194.2 836.7 181.7 836.8 191.1 836.8 177.8 837.1 201.5 837.2 182.7 837.2 195.6 837.3 190.1 837.6 211 837.7 196.6 837.7 203.9 837.8 193.2 838 212.9 838.2 211.8 838.2 208.4 838.4 189.9 838.7 210 838.7 208.1 838.7 199.9 839.1 217.9 839.2 194.2 839.3 217.3 839.5 190.1 839.7 193.8 839.7 201.6 839.9 187.2 840.2 207.9 840.2 206.9 840.3 193.1 840.3 209.9 840.4 186.3 840.7 194 840.7 186.2 840.8 197.6 841.1 168.5 841.2 185.9 841.2 188.8 841.7 163.6 841.7 178.2 841.7 173.9 841.9 174.3 842.2 145.7 842.2 147.2 842.5 167 842.7 139.8 842.8 157.8 842.8 158.5 843 135.7 843.2 150.8 843.2 130.9 843.4 130.2 843.5 152 843.7 141.6 843.8 140.7 843.8 150.9 844.2 129.3 844.2 142.1 844.4 147 844.4 132.4 844.7 136.9 844.7 150.5 844.9 134.9 845.1 162.2 845.2 140.8 845.2 142.7 845.3 158.5 845.4 135.5 845.7 147.6 845.7 150.2 846 142.3 846.2 171.4 846.2 155.5 846.3 167.6 846.5 151.8 846.6 177.7 846.7 168.7 846.7 155.6 846.9 155.5 847.2 180.3 847.2 163.3 847.7 196.5 847.7 188 847.7 193 847.9 175.3 848.1 199.5 848.2 191.7 848.2 190.6 848.3 178 848.6 199.2 848.7 179.4 848.8 184.9 848.9 201.2 849 179.2 849.2 193.9 849.2 184.7 849.4 179.2 849.7 211.3 849.8 206.6 849.9 186.5 850.2 206.4 850.2 203.4 850.3 185.4 850.4 206.5 850.7 196.6 850.7 195.6 851 197.3 851.2 173.9 851.2 189 851.3 191.2 851.4 175.3 851.7 176 851.7 175 851.9 194.2 852.1 162.5 852.2 171.9 852.3 166 852.6 158.8 852.7 178.6 852.7 166.3 852.7 163.5 852.8 171.6 853.2 140.1 853.3 145.1 853.3 163.2 853.7 136.6 853.7 150 853.9 155.2 854.1 130.4 854.2 152.9 854.2 131.9 854.4 125.9 854.4 150.4 854.7 133.8 854.7 148.2 854.8 125.9 855.2 150.4 855.2 133.7 855.2 140.9 855.3 129 855.4 151.2 855.7 138.3 855.8 128.8 855.8 125.9 856.1 155 856.2 138 856.2 140.6 856.5 137.9 856.6 161.8 856.7 160.3 856.7 141.4 856.9 168.1 857.2 167.9 857.2 150.3 857.6 174.3 857.7 171.7 857.7 162.8 858.1 162.1 858.2 183.9 858.2 177 858.2 178.8 858.4 189.1 858.5 172.6 858.7 177.1 858.7 176.1 859.1 199.1 859.2 182.5 859.3 187.4 859.5 180 859.6 206.1 859.7 204.4 859.7 202.1 859.8 188.3 860.2 211.1 860.2 200.8 860.2 202.5 860.5 195 860.5 217.2 860.7 198.6 860.7 197.8 860.9 195.2 861.2 218.9 861.2 217.8 861.2 213 861.6 191.3 861.7 198.6 861.8 197.8 861.8 209.6 862.1 191.4 862.2 203.3 862.2 187.7 862.3 183 862.7 200.5 862.8 201 863.1 176.7 863.2 188.6 863.2 184.5 863.5 189.4 863.7 162.6 863.7 166.4 863.8 182.6 864.2 151.8 864.2 172.3 864.3 174.9 864.7 147.3 864.7 151.1 864.8 156.7" fill="none" stroke="#1f77b4" stroke-width="2.083" stroke-linejoin="round" stroke-linecap="square"/>
<path d="M125.5 120.5 L900.5 120.5 L900.5 237.5 L125.5 237.5 Z" fill="none" stroke="#000" stroke-width="1.111" stroke-linejoin="miter" stroke-linecap="square"/>
<path d="M149.5 237.50 V242.36 M259.5 237.50 V242.36 M370.5 237.50 V242.36 M480.5 237.50 V242.36 M590.5 237.50 V242.36 M700.5 237.50 V242.36 M810.5 237.50 V242.36 M125.50 172.5 H120.64 M125.50 224.5 H120.64" stroke="#000" stroke-width="1.111" fill="none"/>
<text x="117.15" y="274.78" font-size="14.583" textLength="35.35" lengthAdjust="spacingAndGlyphs" transform="rotate(-30 117.15 274.78)">1950</text>
<text x="227.30" y="274.78" font-size="14.583" textLength="35.35" lengthAdjust="spacingAndGlyphs" transform="rotate(-30 227.30 274.78)">1960</text>
<text x="337.48" y="274.78" font-size="14.583" textLength="35.35" lengthAdjust="spacingAndGlyphs" transform="rotate(-30 337.48 274.78)">1970</text>
<text x="447.63" y="274.78" font-size="14.583" textLength="35.35" lengthAdjust="spacingAndGlyphs" transform="rotate(-30 447.63 274.78)">1980</text>
<text x="557.81" y="274.78" font-size="14.583" textLength="35.35" lengthAdjust="spacingAndGlyphs" transform="rotate(-30 557.81 274.78)">1990</text>
<text x="667.96" y="274.78" font-size="14.583" textLength="35.35" lengthAdjust="spacingAndGlyphs" transform="rotate(-30 667.96 274.78)">2000</text>
<text x="778.14" y="274.78" font-size="14.583" textLength="35.35" lengthAdjust="spacingAndGlyphs" transform="rotate(-30 778.14 274.78)">2010</text>
<text x="114.78" y="230.48" font-size="14.583" textLength="36.98" lengthAdjust="spacingAndGlyphs" text-anchor="end">0.010</text>
<text x="114.78" y="177.97" font-size="14.583" textLength="36.98" lengthAdjust="spacingAndGlyphs" text-anchor="end">0.012</text>
<text x="67.07" y="179.62" font-size="14.583" textLength="69.36" lengthAdjust="spacingAndGlyphs" text-anchor="middle" transform="rotate(-90 67.07 179.62)">fieldmean</text>
<text x="512.50" y="111.67" font-size="17.500" textLength="444.91" lengthAdjust="spacingAndGlyphs" text-anchor="middle">hus1000, lev=0, 19510101T1200 to 20141215T1200</text>
</g>
<g>
<rect x="125.00" y="260.69" width="775.00" height="117.24" fill="#fff"/>
<clipPath id="c1"><rect x="125.00" y="260.69" width="775.00" height="117.24"/></clipPath>
<path clip-path="url(#c1)" d="M160.2 306.0L160.3 318.2 160.4 282.8 160.7 317.3 160.7 311.6 161.1 293.7 161.2 328.7 161.3 326 161.4 326.5 161.6 299 161.7 306.7 161.7 303.5 161.9 298.3 162.1 337.4 162.2 315.4 162.2 312 162.3 299.8 162.7 330.5 162.7 322 162.9 297.6 163.1 328.7 163.2 312.7 163.2 316.6 163.4 326.2 163.5 303.3 163.7 314.8 163.8 327.5 163.8 311.2 164 350.3 164.2 340.8 164.2 330.8 164.3 311.8 164.7 333.3 164.7 327 164.8 322.9 165 313.4 165.2 353.3 165.2 335.8 165.2 322.6 165.3 357.7 165.6 319 165.7 331.5 165.7 326.1 166.1 349.1 166.2 334.1 166.2 333.2 166.6 321.6 166.7 344.8 166.7 344.2 166.9 352.4 166.9 321.6 167.2 341.1 167.3 353.9 167.7 325.9 167.7 327 167.7 322.2 167.8 318.9 168.2 343.2 168.2 337.6 168.3 333.6 168.4 341.7 168.5 320 168.7 321.9 168.7 327.3 169 338.6 169.1 316.9 169.2 320.7 169.2 339.2 169.6 316.2 169.7 319.3 169.7 360 170.2 297.2 170.2 313.3 170.2 316.3 170.5 363.8 170.5 299.4 170.7 319.2 170.8 315.3 170.8 338.3 171.1 294.7 171.2 298.9 171.2 295.3 171.7 321.6 171.7 316.6 172.1 298.4 172.2 324.9 172.2 303.3 172.2 311.8 172.4 292.2 172.5 324.4 172.7 313.1 172.7 310.1 172.9 297.2 173.1 331.5 173.2 312.2 173.3 294.9 173.6 350.5 173.7 300.5 173.7 322.3 174 298.4 174.2 329.3 174.2 324.1 174.3 325.8 174.4 307.5 174.5 340.8 174.7 309.2 174.7 329.2 174.9 310.7 175.2 347.2 175.2 329.3 175.2 325.2 175.3 308.1 175.7 342.4 175.7 341.6 175.7 345.9 175.8 348.4 176.1 320.4 176.2 338.1 176.2 316.9 176.5 306.8 176.6 351.3 176.7 331.1 176.8 328 176.9 316.3 177.1 350.6 177.2 336.5 177.2 337.3 177.6 342.9 177.7 317.7 177.8 322.7 178 320.7 178.2 357.9 178.2 339.6 178.2 347.1 178.4 308.2 178.7 320.3 178.7 339.4 178.8 351.1 179 310.7 179.2 341.8 179.2 332.4 179.4 348.8 179.7 313.1 179.7 340.8 179.7 343.3 179.8 343.3 180 309.3 180.2 332.1 180.3 325.2 180.3 342.6 180.6 320.7 180.7 340 180.7 305.6 181 336.9 181.2 295.4 181.2 308.3 181.4 299.2 181.6 344.2 181.7 328.4 181.7 316.4 181.9 331 182.1 301 182.2 315.9 182.2 318.2 182.5 331.4 182.5 298.1 182.7 308.7 182.7 308.4 182.9 295.9 183.1 318.7 183.2 308.9 183.2 324.8 183.4 336.3 183.6 307 183.7 331.3 183.8 321.9 184 326.8 184.2 295.1 184.2 304.8 184.2 304.3 184.4 290.8 184.6 333.5 184.7 304.2 184.7 309.6 185.2 300.6 185.2 333.6 185.2 337 185.6 311.4 185.7 340.1 185.7 335.2 185.7 335.1 185.9 305.6 186.1 349 186.2 327.5 186.3 337.8 186.6 343.1 186.6 310.8 186.7 329.3 186.7 333.2 186.9 347.7 187 314.8 187.2 324 187.3 334.9 187.6 320.3 187.7 341.5 187.7 336.1 187.7 329.8 187.9 317.3 188.2 343.1 188.2 328.9 188.2 333.6 188.4 312.9 188.5 347.2 188.7 333.7 188.7 342.2 188.8 345.9 189.2 318.7 189.2 323.5 189.2 323.9 189.4 319.2 189.7 347.8 189.7 332.9 189.8 335.7 189.9 317.4 190.1 367.4 190.2 334.9 190.2 334.8 190.3 351.6 190.6 315.4 190.7 329.6 190.8 319.5 190.9 342.1 191 308.7 191.2 341.9 191.2 320.8 191.5 309.3 191.6 333.6 191.7 310.8 191.7 322.7 191.8 332.6 192.1 307 192.2 314.1 192.2 325.3 192.6 304.1 192.7 319.9 192.7 324.5 193 327.9 193.1 297.4 193.2 306.6 193.3 318.4 193.6 289.2 193.7 318.8 193.7 319.6 193.9 289 194.1 322.9 194.2 313.8 194.2 307.1 194.3 296.5 194.4 319.7 194.7 311.9 194.7 309.3 194.9 292.5 195.1 325.9 195.2 311.7 195.2 344.5 195.3 293.4 195.6 360.5 195.7 296.8 195.7 306.1 195.8 332.6 195.9 290.2 196.2 314 196.2 320.7 196.5 309.4 196.7 338.5 196.7 331.7 196.8 326.8 196.8 303.2 196.9 337.6 197.2 310 197.2 326.6 197.3 331.8 197.6 304.9 197.7 325.8 197.7 323.8 198 372.1 198 318.9 198.2 325.7 198.2 326.2 198.3 306.3 198.6 342.9 198.7 321.5 198.7 313.6 199.2 347 199.2 342.7 199.3 338.1 199.6 323.1 199.7 341.7 199.7 325.3 199.7 348.1 200 321.6 200.2 331.2 200.3 330 200.3 325.6 200.6 353 200.7 326.9 200.7 329.3 200.9 320.6 201 347.7 201.2 345.1 201.2 333 201.3 337.6 201.4 310.9 201.7 325.3 201.7 315.6 201.9 341.8 202.2 315.9 202.2 311.8 202.4 342.7 202.5 304.6 202.7 319.6 202.8 309.4 203 331.5 203.1 304.4 203.2 329.9 203.2 321.6 203.5 298.7 203.6 336.8 203.7 332.8 203.8 329.6 204.2 286.8 204.2 291.7 204.3 323.9 204.7 318.8 204.7 313.8 205.1 317.2 205.1 286.6 205.2 302.3 205.2 312.1 205.4 327.7 205.5 291.8 205.7 292 205.7 317.2 205.8 292.1 206.1 326.3 206.2 309.5 206.3 322.9 206.6 324.3 206.7 288.2 206.7 308.6 206.7 310.3 206.9 327.3 207.2 304.1 207.2 321.3 207.2 315.2 207.4 336.9 207.5 304.9 207.7 329.2 207.7 321.5 208 300.7 208.1 334.5 208.2 334 208.2 335.3 208.3 311.9 208.3 354.1 208.7 325.8 208.8 324.5 209 320.3 209.2 345.6 209.2 329.7 209.4 340.2 209.5 308.4 209.7 321.2 209.8 323.8 209.8 320.1 210.2 341.3 210.2 329.6 210.2 327.1 210.6 343.5 210.7 323.9 210.7 331.3 210.7 338.7 210.8 326 211 352 211.2 335.5 211.2 347.2 211.5 327.1 211.7 349.7 211.7 342.3 211.8 347.2 212 322.4 212.2 323.3 212.3 332.4 212.3 317.1 212.4 341 212.7 321.9 212.7 320.6 213.1 343.2 213.2 313 213.2 329 213.3 325.4 213.3 343.5 213.6 313.6 213.7 324.8 213.7 337.2 214.1 292.3 214.2 339.4 214.2 327.9 214.2 333 214.5 290.9 214.7 319.1 214.7 311.3 215.1 325.9 215.2 289.1 215.2 306 215.2 311.7 215.4 306 215.6 325.1 215.7 316.6 215.8 330.3 215.9 280.3 216.2 317.7 216.2 319.7 216.5 293.9 216.6 323.1 216.7 317.1 216.8 317.8 216.9 333.4 217.2 302.3 217.2 319.9 217.4 324 217.7 302 217.7 303.2 217.9 334.4 218 293.2 218.2 318 218.2 318.1 218.3 333.9 218.5 298 218.7 318.8 218.7 333.2 218.9 313.5 219.1 338.1 219.2 329.1 219.3 333.7 219.4 344.7 219.6 306.9 219.7 332.2 219.7 328.9 219.8 319 220.2 345 220.2 339.1 220.2 335.4 220.6 320 220.7 347.2 220.7 325.5 220.9 320.5 221.2 345.2 221.2 333.6 221.2 332 221.6 317.4 221.7 347.8 221.8 345.6 221.8 323.4 222.2 338.1 222.2 342.2 222.4 345.6 222.6 320.9 222.7 336.5 222.8 343.6 223 320.8 223.2 339.6 223.2 344.2 223.4 344.6 223.6 309.3 223.7 331.7 223.7 334.6 224 341.2 224.1 305.7 224.2 319.1 224.2 322.5 224.4 327.8 224.7 293.4 224.7 316 224.7 321.2 224.8 298.4 225 330.5 225.2 328 225.3 312.9 225.4 323 225.7 288.5 225.7 301 225.7 315.8 226 288.5 226.1 317.3 226.2 300 226.3 301.3 226.5 319.9 226.5 285.7 226.7 303.7 226.7 308.7 226.9 322.1 227.1 284.5 227.2 296.4 227.2 294.7 227.4 317.4 227.5 287.2 227.7 304.5 227.7 300.4 227.8 283 227.9 318.2 228.2 293.4 228.2 297.6 228.4 325 228.7 291.1 228.7 299.1 228.8 305.1 228.9 297.4 229 334.9 229.2 315 229.2 308.4 229.4 342.5 229.7 318.2 229.7 324.5 229.8 332.4 229.9 300.4 230.2 323.7 230.2 319.6 230.4 306.9 230.4 344.2 230.7 327.2 230.7 332.4 230.8 317.7 231.1 341.9 231.2 336.4 231.2 334.3 231.3 315 231.5 352.6 231.7 326.3 231.7 332.2 232 348.9 232.2 325.5 232.2 330.3 232.3 344.6 232.3 323.6 232.6 350.7 232.7 336.4 232.7 333.3 232.9 319.1 233 346.3 233.2 338.1 233.2 336.3 233.3 349.9 233.6 325.2 233.7 332.9 233.7 337.1 234 324.1 234.1 339.7 234.2 333 234.2 334.7 234.6 367.9 234.7 319.5 234.7 327.3 234.8 321.9 235.1 317.7 235.1 346.6 235.2 330.6 235.2 327.2 235.6 332.5 235.7 300.2 235.8 306.1 235.8 305.6 235.9 353.4 236.2 323.5 236.2 319.6 236.4 336.9 236.5 301.5 236.7 325.7 236.7 321.1 237.1 297.1 237.1 330.9 237.2 319.9 237.2 315.9 237.4 334 237.7 293.5 237.7 298.7 238.1 292.5 238.2 320.7 238.2 307.3 238.3 311.5 238.3 289.4 238.6 327.6 238.7 312.2 238.7 312.6 238.8 294.8 238.9 331.5 239.2 304.1 239.3 313.8 239.5 288.4 239.6 319 239.7 296.3 239.7 316.1 239.9 322.7 240.2 301.9 240.2 312 240.2 317.6 240.4 336.4 240.6 302.6 240.7 319.5 240.7 322.9 240.8 304.9 241 332 241.2 315.8 241.2 317.1 241.5 313.4 241.7 345.1 241.7 326.8 241.8 314.3 242.1 343.1 242.2 336.1 242.2 330.1 242.5 342.6 242.7 320.9 242.7 341.4 242.8 320.9 242.9 353.5 243.2 344.1 243.2 337.7 243.4 355.4 243.4 329.2 243.7 342.2 243.7 353.6 244.1 323.6 244.2 328.4 244.2 341.4 244.3 322.1 244.6 350.1 244.7 339.2 244.7 341.6 244.9 324.5 245.2 338.6 245.3 325 245.4 338.8 245.5 320.2 245.7 336.4 245.7 317.7 246.1 317.5 246.2 341.4 246.2 318.2 246.2 320.4 246.6 307.8 246.7 344.4 246.7 330 246.7 320.9 246.9 332.8 247.2 300.5 247.2 313.4 247.2 323.6 247.4 294.2 247.7 326.6 247.7 316.2 247.8 318.1 247.8 300 248 326.4 248.2 311.4 248.2 299.9 248.6 320.2 248.7 290.7 248.7 315.1 248.8 332.7 248.8 333.2 249.2 288.3 249.2 326.1 249.2 318.7 249.3 278.9 249.7 328.3 249.7 291.8 249.7 306.9 249.8 325.6 250 293.2 250.2 298.3 250.2 331.8 250.6 291.4 250.7 302.2 250.7 308.2 250.8 307.5 251 338 251.2 311.9 251.3 318 251.6 304.6 251.7 341.5 251.7 331.3 251.7 317.9 252 303.9 252.1 336.2 252.2 317.5 252.3 318.6 252.4 308.1 252.6 338.2 252.7 335.4 252.7 327.5 252.9 315.1 253 347.6 253.2 319 253.2 324.7 253.3 345.1 253.4 315.4 253.7 337 253.7 326 253.9 343.6 254.2 319.1 254.2 318.6 254.3 315.6 254.4 346.9 254.7 336.6 254.8 344.3 254.8 317.6 255.2 328.1 255.2 339.9 255.4 323.2 255.5 345.9 255.7 330.1 255.7 335.8 255.8 354.3 255.9 316.3 256.2 329.9 256.2 325.7 256.4 345.2 256.5 314.9 256.7 315.2 256.7 318.2 256.8 307.1 256.9 341.9 257.2 325 257.3 316 257.6 328.3 257.7 304.3 257.7 307.2 257.7 305.5 258 341.4 258.2 302 258.2 309.6 258.3 305.9 258.3 304.2 258.4 335.2 258.7 311.8 258.7 304.4 259.1 286 259.2 316.4 259.2 310.7 259.2 299.5 259.5 317.2 259.7 286.3 259.7 305.2 259.7 309.8 259.9 313.7 260.2 294.3 260.2 295.1 260.2 316.8 260.5 325.1 260.7 278.4 260.7 296.2 260.8 299.2 260.9 324.3 261.2 292.3 261.2 313.7 261.2 314.1 261.3 300.2 261.7 324.3 261.7 318.3 261.8 308.2 261.8 334.3 262.1 288.9 262.2 322.9 262.2 317.7 262.3 329.4 262.4 302.5 262.7 317.6 262.7 333.2 262.9 293.3 263.1 340.7 263.2 321.3 263.2 326.6 263.5 306.5 263.6 332.7 263.7 322 263.7 335.4 263.9 310 264 347.7 264.2 324.7 264.3 315.9 264.6 337.9 264.7 323.8 264.7 323 265 317.6 265.1 358.5 265.2 335.7 265.3 348.3 265.3 353 265.7 319.9 265.7 340.4 265.7 319.5 266 311.4 266.2 352.8 266.2 334.7 266.2 317.3 266.4 348.4 266.7 330.5 266.7 331.7 267 343.4 267.2 320.4 267.2 339.4 267.3 312.8 267.4 342 267.7 334.1 267.8 322.8 268.1 340.3 268.1 321 268.2 331.6 268.2 320.7 268.3 341.6 268.7 310.8 268.7 310.9 268.7 310.3 268.8 319.3 269.1 293.3 269.2 312.6 269.2 314.2 269.5 291.1 269.5 315.6 269.7 307.3 269.7 311 270 323.8 270.1 283.5 270.2 300.9 270.3 299.9 270.6 288.5 270.6 323.1 270.7 298.3 270.7 304.5 270.8 290.2 270.9 324.2 271.2 316.2 271.3 307.5 271.5 313.1 271.7 284.3 271.7 287.9 271.7 294.9 271.9 281.8 272.2 320.1 272.2 317.6 272.2 316 272.5 295.7 272.6 317.3 272.7 298.4 272.7 286.6 273.1 324.4 273.2 301.7 273.2 316.2 273.4 290.7 273.6 328.1 273.7 307.4 273.8 309.8 273.8 327 274 297.6 274.2 313.9 274.2 323.6 274.3 328.4 274.6 293.5 274.7 311.8 274.8 325 275.1 338.4 275.2 313.4 275.2 326.4 275.5 320 275.7 342.6 275.7 329.5 275.7 319 276 346.4 276.2 318.5 276.2 322.4 276.6 316.6 276.6 345.1 276.7 344.5 276.7 329.6 276.8 355.9 277 324.9 277.2 335.4 277.3 320.9 277.3 341.6 277.5 320.6 277.7 326.8 277.7 343.9 277.9 314.3 278.2 349.2 278.2 333.1 278.2 339.1 278.4 352.1 278.5 310 278.7 322.1 278.7 317 278.8 342.2 279.1 298.8 279.2 322.5 279.2 330.1 279.5 305.1 279.6 334.4 279.7 325.6 279.7 319.2 279.8 302.4 279.9 327.5 280.2 307.6 280.2 312.8 280.3 331.2 280.4 296.6 280.7 299.5 280.8 315.3 281.2 292.4 281.2 292.9 281.3 288.9 281.5 316.5 281.7 301.8 281.7 313.6 281.9 317.3 282 287.5 282.2 310.4 282.2 300.7 282.4 293.1 282.7 319 282.7 301.9 283.1 291.5 283.2 324.2 283.2 308.5 283.3 301.2 283.5 285.6 283.7 314.2 283.7 313.5 283.9 323.5 284.2 304.3 284.2 310.9 284.3 291.4 284.3 323.8 284.7 312.8 284.7 304.9 284.8 299.2 285.1 342.1 285.2 315.2 285.2 319.9 285.4 345.9 285.6 319.4 285.7 330.9 285.7 325.3 285.8 316.8 286 340.1 286.2 337.1 286.2 343.3 286.5 319 286.7 344.3 286.7 336.8 286.8 315.9 286.8 314 287.1 339.7 287.2 329.5 287.2 326.5 287.5 316.5 287.7 360.4 287.7 340 287.8 328.7 287.8 341.4 288.2 318 288.2 326.7 288.3 321.9 288.4 365.5 288.7 325.3 288.7 332.1 289.1 313.3 289.2 345.4 289.2 333.3 289.3 313.8 289.7 336.9 289.7 320.7 289.7 333.6 289.9 342.7 290.2 297 290.2 319.5 290.3 329.1 290.5 335.1 290.7 307.8 290.7 320.7 290.7 332.1 291.2 297.7 291.2 317.4 291.2 327 291.3 327.6 291.7 292.5 291.7 305.1 291.7 310.7 292.1 341.4 292.2 291.7 292.2 316.9 292.2 299.7 292.4 279.6 292.7 321.5 292.7 308.5 292.7 315.4 293 292.7 293.2 326.5 293.2 312.6 293.2 299.3 293.4 285.7 293.7 318.8 293.7 306.1 293.8 298.6 293.8 290.8 294 318.8 294.2 293.6 294.2 307.1 294.4 325.7 294.6 295.2 294.7 316.5 294.7 319.1 295 290.5 295 326.2 295.2 316.5 295.2 303.7 295.7 330.4 295.7 318.5 296 296.5 296.1 335.1 296.2 304.8 296.3 316.1 296.5 338.4 296.7 301.3 296.7 313.3 296.8 349.2 297 311 297.2 337.2 297.3 327.3 297.3 309.8 297.7 345 297.7 315.8 297.7 323.4 298.1 343.1 298.2 313.9 298.2 322.6 298.3 347.1 298.4 321.8 298.7 326.8 298.7 327.6 299 348.1 299.2 321 299.2 330 299.2 332.4 299.3 345.1 299.6 321 299.7 329.1 299.8 336.7 299.8 349.2 300.1 319.3 300.2 330.1 300.2 344.8 300.5 353.2 300.7 321.2 300.8 313.6 301.1 346.7 301.2 311.8 301.2 310.7 301.4 335.9 301.6 303.5 301.7 327.7 301.7 329.2 301.9 333.5 302.1 306.6 302.2 332.9 302.2 316.9 302.3 303.1 302.5 351 302.7 325 302.7 321.2 302.9 308.3 303 329.9 303.2 314.3 303.3 316.7 303.3 295 303.6 326.4 303.7 318.4 303.7 307.4 303.8 294.9 304.1 334.2 304.2 302.9 304.2 306.9 304.4 304.4 304.6 330 304.7 319.2 304.7 310.4 304.9 330.7 305.2 298.3 305.2 322.4 305.2 298.7 305.3 330.3 305.7 310.8 305.8 320 306.1 300.9 306.2 334.1 306.2 314.2 306.2 306.2 306.5 301.5 306.7 331.6 306.7 330.4 306.8 325.3 307.1 306.9 307.1 344.5 307.2 324.6 307.2 325.6 307.4 307.3 307.6 344.4 307.7 323.1 307.7 314.5 307.9 344.9 308.2 336.3 308.2 324.4 308.5 342 308.6 316 308.7 318.3 308.7 328.7 308.9 323.2 309 350 309.2 332.5 309.3 335.2 309.3 358.7 309.3 323.7 309.7 331.2 309.7 331.4 310 321 310.1 345.8 310.2 337.9 310.3 345.7 310.5 318.5 310.7 323 310.7 338 310.9 342.3 311.1 315.4 311.2 318.7 311.2 329.9 311.5 333.6 311.6 312 311.7 313.6 311.7 326 311.8 307 312.1 341.6 312.2 314.9 312.2 316.4 312.3 336.5 312.4 311.2 312.7 327.6 312.8 331 313.2 307.5 313.2 307.5 313.2 319.2 313.6 326.7 313.7 305.5 313.7 304.9 314 292.9 314.1 330.7 314.2 308.8 314.2 297.2 314.3 297.1 314.5 317.2 314.7 306.5 314.7 302.5 314.9 280.7 315.1 324.9 315.2 302 315.2 302.8 315.3 315.9 315.7 280.9 315.7 302.3 315.7 313.2 316.1 318.8 316.2 285.7 316.2 297.9 316.3 309.5 316.3 295.7 316.5 326.1 316.7 307.3 316.7 310.6 316.9 294.7 317.1 331.5 317.2 315.1 317.2 315.5 317.6 330.6 317.7 300.7 317.7 315.7 317.7 315.9 317.8 329.8 317.8 312.6 318.2 327.3 318.2 324.7 318.5 300.9 318.7 330.2 318.7 329.5 318.8 330.5 318.8 334.8 318.9 307.2 319.2 327.6 319.2 335.4 319.5 299.7 319.7 333.7 319.8 326.1 319.8 343.4 319.9 311.4 320.2 324.2 320.2 331.5 320.7 349.2 320.7 314.9 320.7 341.5 320.9 347.6 321.2 326.2 321.2 331.4 321.2 334.1 321.3 350.6 321.6 323.8 321.7 330.2 321.7 343.2 322 350 322 324.4 322.2 336.1 322.3 339.8 322.6 322.3 322.7 337.1 322.7 337 322.8 338.3 323.1 317.4 323.2 333.7 323.3 332.9 323.6 372.1 323.6 309.7 323.7 333.2 323.7 319.7 324.1 347.8 324.2 311.5 324.2 310.5 324.4 334.8 324.7 308.7 324.7 326.9 324.7 316.9 325.1 301.9 325.2 334.9 325.2 318 325.3 291.6 325.6 341.2 325.7 311.1 325.8 305.8 325.8 300.5 326 328.4 326.2 319.3 326.2 313 326.4 303.1 326.5 333.2 326.7 309.8 326.7 328 326.9 307.3 327 339.2 327.2 316.4 327.2 334.3 327.7 305.9 327.7 341.1 327.7 339.3 327.7 329.4 327.8 308 328 330.7 328.2 321.5 328.2 303.1 328.6 339.8 328.7 329.5 328.7 320 328.9 338 329.1 305.1 329.2 322.2 329.3 331.1 329.3 302.6 329.4 351.2 329.7 321 329.7 321.3 329.8 345.7 329.9 317.8 330.2 319.2 330.2 324.5 330.3 319.3 330.6 348.9 330.7 327.3 330.7 303.4 331 340.8 331.2 325.2 331.2 324.5 331.5 341.6 331.7 335.5 331.8 327 331.8 347.4 332.2 326.5 332.2 333.6 332.6 322.9 332.7 348.4 332.8 335.9 332.8 352.6 333 314.5 333.2 333.6 333.2 327.2 333.4 360.9 333.4 314.6 333.7 338.2 333.7 329.1 333.8 303.8 334 342.5 334.2 323.8 334.2 325.5 334.3 317.1 334.4 337 334.7 326.7 334.7 327.4 334.8 331.8 334.9 303.8 335.2 314.5 335.3 328.8 335.5 336 335.6 301.5 335.7 306.3 335.7 313.8 335.8 297.1 336.2 328.9 336.3 313.9 336.6 293.1 336.7 338 336.7 316.5 336.8 297.9 337 342.2 337.2 311.9 337.2 300.9 337.3 292.4 337.4 323.6 337.7 313.8 337.7 298.6 337.8 325.9 338.2 307.5 338.2 314.8 338.3 300.3 338.5 336.7 338.7 333.6 338.8 299.3 339.1 333 339.2 318.8 339.2 336.7 339.4 337.5 339.4 309.8 339.7 319.3 339.7 333.7 339.9 306.4 340.2 317.3 340.2 310.4 340.6 348.9 340.7 320.2 340.7 329.2 341.1 311.3 341.1 341.3 341.2 321.5 341.3 328.6 341.5 345.2 341.6 319.6 341.7 334.8 341.7 337.8 341.9 346.1 342.1 312.8 342.2 338.6 342.3 329.5 342.3 320.5 342.5 344.3 342.7 344.3 342.7 337.3 342.9 347.5 343 322 343.2 338.6 343.2 339.2 343.4 327 343.6 350.7 343.7 334.3 343.7 340.1 343.8 349.4 344.1 321.3 344.2 329.2 344.2 328.8 344.4 321.3 344.6 337.5 344.7 329 344.8 329.8 345 340.6 345.2 307.3 345.2 308.2 345.3 298.8 345.3 336.6 345.7 323.1 345.8 324.8 345.9 302 346.1 330.8 346.2 318.9 346.2 323.7 346.3 334.7 346.5 295.4 346.7 323.9 346.7 329.2 347 332.8 347.2 292.6 347.2 283.6 347.3 322.4 347.7 318.3 347.7 313.7 347.8 346 348 286.4 348.2 320.4 348.3 321.1 348.5 337.9 348.6 289.7 348.7 310.7 348.7 321.1 348.8 291.4 349 331.9 349.2 314.4 349.3 299.8 349.3 290.1 349.7 320.7 349.7 312.7 349.7 332.1 350.2 289.7 350.2 309.2 350.2 300.9 350.4 295 350.5 325.8 350.7 302.2 350.7 303 350.9 302.7 351 335.8 351.2 305.8 351.2 324.9 351.3 333.2 351.5 304.9 351.7 314.8 351.8 329.2 352 335.1 352.2 319.4 352.2 322 352.3 353.6 352.7 340.6 352.7 324.1 352.9 316.5 353.1 339.9 353.2 338.5 353.2 348.8 353.5 317.8 353.7 338.5 353.7 328.5 353.9 320.7 353.9 356.5 354.2 337 354.3 340.6 354.5 353.3 354.7 325.9 354.7 330.7 354.8 346.4 354.9 324 355.2 335 355.3 350.8 355.5 326.9 355.7 343.6 355.7 333.4 355.9 319.1 355.9 351.3 356.2 338.7 356.2 336.3 356.7 308.1 356.7 321.5 356.9 331.9 357.1 301 357.2 312.6 357.2 316.9 357.5 310.4 357.7 339.4 357.7 327.5 357.8 329 357.9 332.2 358.2 304.5 358.2 323.9 358.2 319.7 358.3 334.7 358.7 299.2 358.7 306.7 358.8 301.5 359.1 297.6 359.2 328.1 359.2 325 359.6 294.3 359.6 333.3 359.7 318.7 359.7 313.8 359.8 292.1 360.1 327.2 360.2 305.8 360.2 305.1 360.4 321.7 360.7 293.4 360.7 319.7 360.7 316.2 361 332.8 361.2 296.7 361.2 310.9 361.3 316.1 361.5 289.3 361.6 334.4 361.7 333.1 361.7 311.1 362.2 336.4 362.2 313.7 362.3 339.8 362.7 324.6 362.7 319.5 362.9 302.1 363.1 335.9 363.2 312.8 363.2 327.2 363.3 345 363.3 321.7 363.7 327.9 363.7 334.3 364 315.3 364.2 341.7 364.2 338.6 364.2 330.8 364.5 327.2 364.7 344.7 364.7 344.6 364.8 347.8 364.8 318.6 365.2 338.5 365.2 331.6 365.3 342.8 365.4 323.1 365.7 336.7 365.7 333.4 366 342.2 366.1 315.7 366.2 337.3 366.2 337.7 366.5 346 366.7 316.4 366.7 322.4 367 302.4 367 345.1 367.2 325.4 367.3 321.4 367.6 343.6 367.7 314.7 367.7 325.5 368.2 297.3 368.2 304.5 368.3 313.8 368.3 330.3 368.6 301.1 368.7 313.5 368.7 312 368.8 331.4 369.1 285.2 369.2 306.3 369.2 312.1 369.5 295.9 369.5 324 369.7 311 369.7 317.6 369.9 288.4 370.2 321.7 370.2 309.1 370.2 293.8 370.5 321.4 370.6 289.2 370.7 306.7 370.8 315.9 370.8 285.2 371 323.2 371.2 307.5 371.2 296.1 371.4 335.2 371.5 289.3 371.7 298 371.8 301.7 371.8 288.1 371.9 321.8 372.2 298.4 372.2 307.5 372.3 331.2 372.4 306.1 372.7 315.9 372.7 319.7 372.9 334.6 373.2 295.8 373.2 303.5 373.2 313.1 373.4 305.9 373.5 346.4 373.7 312.9 373.7 328.8 373.8 340.3 374 316.1 374.2 330 374.3 326.5 374.5 347.8 374.5 318.6 374.7 329.6 374.7 342.8 374.8 322.3 374.9 342.8 375.2 332.1 375.2 321.1 375.3 347.3 375.6 315.5 375.7 344.4 375.7 331.1 376 339.2 376.2 310.5 376.2 344.3 376.5 325.9 376.6 345.5 376.7 331.9 376.7 329.2 376.8 321.5 377.1 351.3 377.2 346.3 377.2 326.7 377.4 343.8 377.7 300.3 377.8 304.9 378 337.9 378.2 327 378.2 334.2 378.3 311.7 378.5 336.6 378.7 328.4 378.7 329.2 378.9 338 379.1 305.5 379.2 323.9 379.2 318.3 379.4 337.8 379.6 286.6 379.7 314.2 379.7 313.5 379.8 292.5 380.1 327.5 380.2 318 380.3 314.4 380.3 294.1 380.5 324 380.7 320.1 380.7 308.7 381 324.6 381.1 292.1 381.2 312.5 381.3 315.9 381.5 296.1 381.6 330.1 381.7 318.6 381.7 313.5 381.9 329.5 382.1 295.4 382.2 322.8 382.2 302.9 382.4 326.5 382.5 287.8 382.7 317.1 382.7 299.6 383.1 330.8 383.2 308.5 383.2 306.4 383.5 302.1 383.6 327.6 383.7 315.1 383.8 314.3 383.8 299.5 384 333.2 384.2 320.8 384.2 314.1 384.3 292.4 384.6 330 384.7 321.9 384.8 342.1 384.9 312.9 385.2 322.8 385.2 305.1 385.7 347.7 385.7 344.9 386.1 316.7 386.2 339.1 386.2 335.5 386.4 315.1 386.5 346.8 386.7 330.3 386.7 342.8 386.8 320.4 387 349.4 387.2 329.3 387.3 336.4 387.4 350.5 387.4 324.3 387.7 333.3 387.7 324.9 387.8 317.3 388.1 345.9 388.2 332.1 388.2 338.5 388.3 327.5 388.5 357.6 388.7 339.1 388.7 332.1 388.9 350.3 389.2 323.6 389.2 342.1 389.6 313.5 389.7 351.2 389.7 324.4 389.8 318.1 389.8 325.9 390.1 298.2 390.2 312.3 390.2 297.4 390.4 332.1 390.7 314.5 390.8 304.9 391 303 391.2 323.1 391.2 317.3 391.6 290.6 391.7 319 391.7 308.7 391.7 293 391.8 320.9 392 279.7 392.2 317.4 392.2 294.1 392.4 281.3 392.4 313.5 392.7 301.2 392.7 284.5 392.9 316.9 393.2 296.7 393.3 302.8 393.4 328.5 393.5 282.7 393.7 305.8 393.7 313.7 394 322.6 394.2 303.8 394.2 306.6 394.3 310.3 394.4 302.3 394.5 332.6 394.7 308 394.7 299.5 395.1 335.6 395.2 318 395.2 317.9 395.6 332.7 395.7 297.7 395.7 312.8 395.7 304.8 395.9 337 396.2 323.1 396.2 330.9 396.6 313 396.7 348.5 396.7 346.4 396.8 325.6 396.9 319.1 397.2 346.9 397.2 326.2 397.2 317.2 397.4 347.3 397.7 337.1 397.8 335.5 397.9 322.2 398 352.8 398.2 339.7 398.2 323.7 398.3 350.4 398.5 322.9 398.7 337.1 398.7 337.8 398.8 324.5 399.2 362.5 399.2 325.6 399.2 325 399.3 310.4 399.4 339.1 399.7 326.8 399.7 331.9 399.8 341.7 399.9 300.9 400.2 302.9 400.3 322.2 400.3 333.1 400.4 308.8 400.7 319.5 400.7 306.2 400.8 326.6 401 300.6 401.2 315.4 401.2 309.4 401.3 325.1 401.7 295.4 401.7 301.2 401.7 316.7 402.2 295.8 402.2 299.2 402.2 302 402.4 316.2 402.5 282.6 402.7 298.8 402.8 300.9 402.8 310.4 403 284 403.2 289.9 403.2 302.4 403.3 318.2 403.4 272.6 403.7 309.5 403.8 296.5 403.9 310.7 404.1 286 404.2 299.3 404.2 315.5 404.5 283.9 404.7 297.8 404.7 301.3 404.8 284.2 405.1 314.4 405.2 310.3 405.2 307.6 405.5 291.4 405.6 322.1 405.7 305.8 405.7 307.1 405.9 293.5 406.2 331.7 406.2 324.2 406.3 323.2 406.4 310.7 406.7 344.8 406.7 324.5 406.8 340.7 407.2 312.2 407.2 336.9 407.3 313.6 407.7 346.7 407.7 341.9 407.7 341.7 407.9 310.8 408.2 328.5 408.2 335 408.4 339.1 408.5 320.5 408.7 336.2 408.7 336.3 408.8 315.5 409 347.9 409.2 345.8 409.2 349 409.4 325 409.7 347.4 409.8 332.2 409.9 343.4 410 311.5 410.2 328.3 410.2 333.2 410.3 344.4 410.7 309.1 410.7 329.9 410.7 324.7 410.8 344.2 411.2 319 411.2 329.3 411.2 323.1 411.4 301.8 411.7 336.4 411.7 321.5 412 295.2 412.1 337.5 412.2 325.4 412.2 323.2 412.4 337.6 412.6 286.2 412.7 307.3 412.7 317 412.8 291.5 413.1 325 413.2 323.6 413.3 332.8 413.5 289.6 413.7 301 413.7 318.3 413.8 334.6 414.2 291.1 414.2 295.9 414.2 300.3 414.3 297.1 414.5 338.8 414.7 303.2 414.7 303.6 414.9 337.9 415.1 294.7 415.2 311.6 415.2 318.6 415.5 300.1 415.5 328.3 415.7 326.6 415.8 297.4 415.8 327.4 416.2 312.8 416.2 305.6 416.3 325.3 416.7 298.2 416.8 301.6 416.8 299.9 416.9 335.4 417.2 325 417.2 332.6 417.3 316.4 417.7 341.3 417.7 334.9 417.7 335.1 417.9 310 418.1 339.6 418.2 319.5 418.2 328.5 418.6 344.9 418.7 312.1 418.7 322.1 418.8 307.6 419.1 347.4 419.2 343 419.3 328.8 419.6 324.5 419.6 348.1 419.7 335.9 419.7 331.2 419.8 323.8 420.1 349.4 420.2 332.8 420.3 322.3 420.5 352.1 420.7 321.9 420.7 329.9 420.7 339.1 420.9 349 421.2 314 421.2 318.2 421.2 328.3 421.3 341 421.4 313.8 421.7 334.2 421.7 316.7 421.8 347.2 422.2 323.3 422.2 340.8 422.5 309.5 422.7 321.2 422.8 310.8 422.8 294.3 423.1 322.3 423.2 320.6 423.2 307 423.5 302.5 423.7 325.9 423.7 325.1 423.9 301.5 424.1 325.6 424.2 322 424.2 332.2 424.3 336.9 424.7 280.3 424.7 297 424.7 302.5 424.9 329 425 290.8 425.2 312.6 425.2 317.8 425.4 322.5 425.6 289 425.7 308.2 425.7 308.4 425.8 291 426 319.9 426.2 317.5 426.3 295 426.3 286.4 426.4 325.1 426.7 302.6 426.7 295.9 426.9 291.8 427 326 427.2 313.1 427.2 304 427.3 335.6 427.4 299.3 427.7 308.1 427.7 315.5 427.9 295.7 428.2 338.1 428.2 308.2 428.2 327.6 428.6 334.2 428.7 310.5 428.8 318 429.1 342 429.2 316.8 429.2 324.9 429.4 317.9 429.6 347 429.7 325.7 429.8 336.5 429.9 341.7 430.2 320.1 430.2 325.2 430.4 347.2 430.7 342.4 430.7 325.6 431.2 349.7 431.2 319.6 431.2 340 431.5 315.5 431.7 351.8 431.7 327.4 431.7 329.8 431.8 320.9 432.2 349.5 432.3 340.5 432.3 350.9 432.6 318.7 432.7 326.5 432.7 322.4 432.8 314.7 432.9 341.2 433.2 327.3 433.3 317.2 433.5 311.5 433.6 343.2 433.7 313.6 433.7 308 433.9 300.8 434 332.7 434.2 313.1 434.2 307.6 434.3 299.1 434.4 331.9 434.7 308.8 434.7 320.2 434.8 326.3 434.8 297.9 435.2 312.7 435.2 303.4 435.3 289.8 435.5 327.1 435.7 302.9 435.8 310.8 435.8 319.4 436.1 279.4 436.2 306.6 436.2 288.7 436.6 315.5 436.7 299.2 436.7 303.7 436.8 286.2 437.1 321.9 437.2 295.3 437.2 315.3 437.5 293.7 437.7 318.3 437.7 296.6 437.9 328 438 295.9 438.2 303.3 438.3 314.3 438.4 285 438.6 329.5 438.7 291.1 438.7 313.3 438.9 325.8 439.2 304.4 439.3 307.1 439.6 297.2 439.6 331.6 439.7 316.4 439.7 316.4 439.8 300.2 440 342.3 440.2 338.1 440.2 324.6 440.5 318.2 440.5 337.3 440.7 333.4 440.7 329.7 440.8 317.8 441 345 441.2 327.9 441.2 335.9 441.5 343.5 441.7 319.4 441.8 341.2 441.9 345.8 442.2 323 442.2 338.6 442.2 337.8 442.3 323.8 442.4 349.2 442.7 348.5 442.8 330.8 442.8 349.2 443.1 321.8 443.2 337.3 443.2 321.9 443.3 348.9 443.7 310.3 443.7 314.9 443.8 310.3 444.2 344.4 444.2 313.3 444.7 344.1 444.7 332.8 445.2 297.9 445.2 313 445.3 309.6 445.3 327.7 445.4 283.9 445.7 304.8 445.7 302.6 446 324.9 446.1 289.2 446.2 290.2 446.2 306.2 446.6 314.1 446.6 292.8 446.7 307.3 446.7 315.5 446.8 335.5 447.1 281 447.2 288.7 447.2 277.7 447.5 311.7 447.7 286.3 447.7 296.6 447.8 285.7 448.1 318.1 448.2 314.1 448.2 315.6 448.6 331.2 448.6 292.7 448.7 297 448.8 306.5 449 292.3 449.2 320.1 449.2 315.6 449.4 298.4 449.6 338 449.7 320.1 449.7 340.4 450 301.6 450.2 306.1 450.2 299.9 450.6 342 450.7 324.6 450.7 337.8 450.9 308.5 451.1 340.2 451.2 315.2 451.3 312.2 451.4 351.8 451.7 318.3 451.7 328.3 452 315.4 452.1 348.2 452.2 327.3 452.3 331.1 452.5 324.2 452.7 345.1 452.7 337.5 452.7 332.1 452.8 324.9 452.9 343.9 453.2 335.5 453.2 348.2 453.3 321.6 453.6 350.7 453.7 338.2 453.7 328.8 453.9 321.9 454.2 349.8 454.2 344.9 454.2 317.5 454.3 314.8 454.5 342.7 454.7 330.5 454.8 340.8 454.8 344.8 454.9 295.6 455.2 313.3 455.2 311.7 455.6 307.9 455.7 332.9 455.8 322 455.8 326.1 456.2 299 456.2 321.8 456.4 327.5 456.6 302.1 456.7 318 456.7 308.5 456.9 290.2 457.1 321.2 457.2 309.3 457.2 304.5 457.3 313.1 457.7 288.3 457.7 295.8 457.7 298.5 457.8 285.5 458.2 316.3 458.2 300.1 458.3 302.2 458.3 323.3 458.5 278.9 458.7 299.8 458.7 290.8 459 311.8 459.1 274.8 459.2 301.3 459.2 296 459.4 313 459.4 293.7 459.7 294.3 459.7 298.7 459.8 292.9 460.1 324.2 460.2 300.1 460.2 281.1 460.6 328.4 460.7 317.2 460.7 318.1 461 336.2 461.2 304.1 461.2 317.8 461.2 325.8 461.3 297 461.5 332.9 461.7 311.7 461.8 320.5 461.8 343.5 462.1 311.4 462.2 333.6 462.2 314.5 462.4 348.1 462.6 312.2 462.7 317 462.7 342.7 463 344.8 463.1 316.4 463.2 334.4 463.2 327.8 463.3 322.3 463.7 343.8 463.7 333.1 463.7 345.1 463.8 321.8 464 352.5 464.2 341.7 464.3 335.4 464.3 351.1 464.6 306.4 464.7 335.6 464.7 342.8 465 347.8 465.1 325 465.2 343.5 465.3 337.4 465.5 347.8 465.6 311.7 465.7 326.2 465.7 326.9 466.1 337.4 466.2 304.3 466.2 316.4 466.2 323.3 466.3 336.7 466.4 317.5 466.7 320.5 466.7 323.6 467.1 330 467.2 299.1 467.2 310.1 467.3 297.3 467.4 326.9 467.7 321.2 467.8 318 467.9 286.5 468.1 322.2 468.2 301 468.2 305.3 468.4 326.7 468.5 289.3 468.7 296.5 468.8 305.3 468.8 290.7 469 327 469.2 319.4 469.2 298.7 469.4 286.3 469.6 322.4 469.7 318.4 469.7 322.8 469.9 284.2 470 325.2 470.2 312.2 470.2 313.1 470.6 322.3 470.7 290.6 470.7 315.5 470.7 323.5 470.9 324.2 471.1 291.9 471.2 295.1 471.3 307.6 471.4 332.7 471.6 299.3 471.7 318 471.7 318.9 471.9 337.6 472.2 299.9 472.2 318.5 472.4 347.7 472.7 311 472.7 333 472.7 336.2 472.8 321.8 472.9 344.9 473.2 331 473.2 327.3 473.3 343.1 473.4 314.3 473.7 334.5 473.8 321.7 473.8 313.1 473.9 346.9 474.2 331.1 474.2 344.2 474.3 318.9 474.6 351.5 474.7 330.6 474.8 334.2 474.8 322.7 474.9 344.5 475.2 333.2 475.2 326.1 475.3 354.8 475.7 334.7 475.7 333.4 475.9 346.9 476.2 324.3 476.2 336.1 476.4 359.6 476.7 319.5 476.7 328.2 476.7 335.2 476.8 343.6 477 309.9 477.2 327.4 477.3 307.6 477.4 337.8 477.5 303.4 477.7 323.4 477.7 316.5 477.8 298 478.1 341.4 478.2 318.1 478.3 327.2 478.4 306.2 478.6 330.7 478.7 317.2 478.7 305.6 479 339.3 479.2 303 479.2 300 479.4 329.3 479.6 285.6 479.7 304.8 479.7 318.7 479.8 291.2 479.9 321.2 480.2 310.4 480.2 291.5 480.4 317.3 480.6 289.5 480.7 304.1 480.8 313.5 480.8 290.4 481.1 326.6 481.2 318.2 481.2 316.4 481.4 321.6 481.5 283.9 481.7 320.1 481.8 311.3 481.9 296.8 482.1 320 482.2 306.5 482.2 301.6 482.5 330 482.6 298.4 482.7 313.5 482.7 316 483 299.9 483.2 345.1 483.2 332.9 483.3 306.7 483.3 338.9 483.7 319.1 483.7 319.1 483.8 313.4 484.1 342.3 484.2 325.6 484.3 327.2 484.6 319.3 484.7 339.4 484.7 338.3 484.9 311.6 484.9 341.3 485.2 330.2 485.2 338.3 485.7 322.7 485.7 348.1 485.7 344.2 485.8 348.8 486.2 322.6 486.2 338.1 486.2 332.9 486.5 320.4 486.7 352.6 486.8 337.1 486.8 319.8 487.2 342.3 487.2 332.7 487.2 324.1 487.4 352.5 487.6 317.3 487.7 331.3 487.8 330.2 487.9 310.1 488 341.6 488.2 319.1 488.2 317 488.7 348.9 488.7 331.8 488.7 307.6 489.1 333.1 489.2 315.3 489.2 292.4 489.3 292.2 489.6 324.2 489.7 313.4 489.7 312.5 489.8 330.1 490.1 297.8 490.2 320.9 490.3 319.8 490.4 331.2 490.4 293 490.7 310.1 490.7 307.7 490.9 297 491.1 324.3 491.2 319.1 491.3 298.9 491.3 312.8 491.6 283 491.7 300.3 491.7 288.3 491.9 328.4 492.2 313.2 492.2 313.3 492.4 327 492.5 280.1 492.7 300.2 492.7 291.7 492.9 322.2 493 287.5 493.2 303 493.2 320 493.4 330.6 493.6 293.3 493.7 325.5 493.8 318.3 493.8 337.3 493.9 302.1 494.2 330.5 494.2 328.8 494.4 305 494.7 337.8 494.7 331.7 494.7 321.3 494.9 310.3 495 341.9 495.2 323.9 495.2 329 495.3 340.3 495.7 316 495.7 325.6 495.8 319.5 496 347 496.2 320.7 496.2 347.2 496.5 322.8 496.7 351.6 496.7 334.2 496.7 343.5 497 316.8 497 344.1 497.2 338.1 497.3 338.6 497.4 351.4 497.7 325.2 497.7 337.9 497.7 338.5 497.8 323.3 498 348.5 498.2 341.9 498.2 336 498.5 306.3 498.6 348.9 498.7 332.9 498.7 342.8 498.8 312.8 499.2 317.1 499.2 316.9 499.7 356.8 499.7 307.6 499.7 309.5 499.8 323.2 499.9 310.2 500 334 500.2 316.7 500.2 321.2 500.4 338.1 500.6 297.6 500.7 320.7 500.8 309.4 500.9 337.5 501.1 293.3 501.2 298 501.2 313.6 501.6 322.1 501.7 283.2 501.7 301.8 501.8 313.9 502 291.3 502.2 313.8 502.2 308.7 502.4 325.2 502.5 298.7 502.7 316.8 502.7 306.4 503 322.1 503.1 287.3 503.2 317 503.3 290.7 503.5 332.6 503.5 288.7 503.7 313.6 503.7 300.3 503.9 329.8 504 292.5 504.2 307.7 504.3 315.2 504.4 301.4 504.6 334.7 504.7 311.4 504.7 302.6 504.8 328.2 504.9 297.6 505.2 310.9 505.2 327.5 505.3 305.4 505.4 330.6 505.7 322.5 505.7 302.2 506.1 333.6 506.2 319.6 506.2 335.3 506.5 344.1 506.7 310.7 506.7 319.8 506.8 334.1 507.1 310.8 507.2 339.3 507.2 328.6 507.2 330.6 507.4 340.8 507.7 312.4 507.7 340.6 507.7 333.4 507.8 348 507.9 318.4 508.2 334.4 508.2 322.1 508.5 346.3 508.6 316 508.7 339.5 508.7 340.8 509 352.8 509 326.7 509.2 335 509.2 328.9 509.3 337.9 509.6 319.2 509.7 335 509.7 335.6 509.9 314.4 510.1 346 510.2 318.1 510.3 310.3 510.4 307.5 510.7 342 510.7 326.9 510.7 321 511.1 333 511.2 301.7 511.2 322.7 511.4 337.3 511.5 297.5 511.7 327.2 511.7 328.8 512 285 512.2 307.9 512.2 300.5 512.4 292 512.6 318.6 512.7 303.3 512.8 302.2 512.9 279.9 513.1 313.4 513.2 284.7 513.2 280 513.3 323.9 513.5 278.6 513.7 299.9 513.8 297.9 513.9 288.5 514.2 320.9 514.2 318.4 514.2 318.8 514.4 320.8 514.7 293.6 514.7 296.2 514.7 308 514.9 322.9 514.9 281.4 515.2 308.2 515.2 306.9 515.4 318.1 515.6 291.2 515.7 308 515.7 311 515.9 302.1 516 333.5 516.2 329.6 516.3 322.7 516.3 335 516.7 306.1 516.7 319.6 516.7 319.6 516.9 309.2 517.2 339.7 517.2 323.7 517.3 320.2 517.3 310.6 517.7 337.3 517.7 341.7 518 319.6 518.1 343.4 518.2 334.6 518.2 307.4 518.5 351.1 518.7 318.5 518.7 310 518.9 348.3 519.2 322.5 519.2 334.7 519.3 324.4 519.4 345.6 519.7 336.1 519.8 331.9 519.8 327.2 519.9 350.9 520.2 336.8 520.2 331.2 520.3 341 520.4 318.4 520.7 326.8 520.7 336.2 520.8 347.9 521 301 521.2 338.1 521.2 323.5 521.3 346.9 521.6 305.5 521.7 321.6 521.7 311.8 521.9 342.4 522.2 308.3 522.2 340.8 522.3 334.3 522.4 288.8 522.7 317 522.7 322.5 523.1 293.7 523.2 325.1 523.2 300.1 523.3 333.5 523.5 300.7 523.7 313.1 523.7 328.1 524 292.4 524.2 312.1 524.2 291.1 524.3 327.2 524.5 283.1 524.7 305.5 524.7 308.4 525.1 333.5 525.2 303 525.2 307.4 525.2 313 525.6 291.7 525.7 321.7 525.7 317.9 525.8 314.3 526 320 526.2 298.2 526.2 318.8 526.2 303.7 526.3 301.7 526.6 334.3 526.7 328.2 526.8 325.2 526.8 302.4 527.1 332.9 527.2 328.9 527.2 316.5 527.4 294.3 527.5 339.2 527.7 328 527.7 330.2 527.8 347.8 528.1 304.4 528.2 325.4 528.2 336.4 528.3 322.7 528.4 348.6 528.7 340.2 528.7 331.6 529 343.5 529.2 319.4 529.2 319.5 529.3 320.9 529.4 315.7 529.6 343.3 529.7 328.3 529.7 328.9 529.9 320.7 529.9 354.4 530.2 338.7 530.3 337.9 530.5 323.7 530.6 350.3 530.7 349.8 530.7 332.6 531 340.9 531.1 319.2 531.2 336.3 531.2 344.1 531.5 326 531.7 338.1 531.7 339.2 532.2 308.7 532.2 331.8 532.2 326.6 532.5 351.4 532.5 309.5 532.7 330.9 532.8 327.3 532.8 330.7 533.1 304.5 533.2 315.2 533.2 306.6 533.4 303.6 533.6 334.7 533.7 311.2 533.7 295.3 534 318.8 534.2 315.7 534.2 317.3 534.5 295 534.7 330.7 534.7 293.9 534.8 281.2 534.9 317.5 535.2 302.2 535.3 318.8 535.3 326.4 535.4 301.1 535.7 317 535.7 324.9 535.8 290 536.2 327.1 536.2 311.8 536.3 337 536.4 293.4 536.7 305.9 536.7 306.5 536.8 316.4 537 290.5 537.2 310.5 537.2 303.4 537.3 302.2 537.4 327.7 537.7 306.9 537.7 325.1 537.9 299.1 538.1 341.5 538.2 320.6 538.2 315.1 538.3 306.9 538.7 340.2 538.8 333.9 538.8 342 538.9 311.7 539.2 330.9 539.2 328.5 539.6 332.8 539.7 311.8 539.7 327.6 539.8 322.5 540 339.8 540.1 314.7 540.2 338.3 540.2 331.5 540.4 356.2 540.6 321.4 540.7 348.4 540.7 343.5 541.1 349 541.1 317.4 541.2 329.3 541.2 336.8 541.7 321.5 541.7 342.7 541.7 327.3 542 320.3 542.1 372.1 542.2 325.9 542.3 320.4 542.7 350.8 542.7 340.7 542.7 335.1 543.1 308.5 543.2 341.5 543.2 335 543.4 309 543.7 324.5 543.7 319.8 543.9 328.2 544.2 294.7 544.2 317.8 544.2 322.6 544.5 331.3 544.6 291.8 544.7 298.5 544.7 307.7 544.8 310.9 545 280.7 545.2 290.7 545.2 320 545.6 287.8 545.7 288.8 545.8 274.4 545.8 309.7 546.2 292.2 546.2 309.6 546.3 314.8 546.7 275 546.7 283.9 546.7 289.1 546.8 276.3 546.8 305.9 547.2 278.8 547.2 285.8 547.5 271.9 547.6 298.6 547.7 294.7 547.7 303.6 547.9 280.8 548 304.5 548.2 281.5 548.3 290.5 548.3 322.8 548.5 279.9 548.7 292.9 548.7 298.1 549 324.6 549.2 296.6 549.2 316.3 549.3 311.6 549.3 298.7 549.6 333.7 549.7 307.8 549.7 312 549.8 303 549.9 332.5 550.2 327.3 550.2 322.6 550.5 346.2 550.6 307.3 550.7 330.7 550.7 344.4 551.1 314.1 551.2 325.6 551.2 333 551.3 344.3 551.4 318.4 551.7 342.8 551.8 337.5 551.9 353.5 552.1 314.6 552.2 325.5 552.2 320.8 552.3 346.9 552.7 343.6 552.8 330.9 552.8 351.5 552.9 325 553.2 328.6 553.2 329.7 553.4 313.9 553.6 339.4 553.7 335 553.7 317.6 553.9 341.7 553.9 303.3 554.2 318.7 554.2 317.3 554.3 305 554.7 320.7 554.7 314.8 554.7 321.5 554.9 327.5 555 299.9 555.2 304.7 555.3 311.3 555.3 326.8 555.6 291.5 555.7 301.5 555.7 280.9 556 312.5 556.2 299.9 556.2 291.3 556.4 281.3 556.6 315.8 556.7 285.5 556.7 297.9 557.1 274.5 557.2 310.4 557.2 288.2 557.2 302.9 557.5 280.2 557.6 323.1 557.7 285.8 557.7 295.9 557.8 300.2 558.2 271.9 558.2 290.7 558.2 280.8 558.5 277.2 558.7 305.6 558.7 301.4 558.8 305.3 558.8 318.2 559.2 287.6 559.2 302.6 559.2 303.5 559.3 287.5 559.5 319.8 559.7 309.7 559.7 323.8 560 294.7 560.2 301 560.2 313.8 560.4 292 560.6 329.1 560.7 322.9 560.7 325.7 561.1 329.3 561.2 303.5 561.2 313.7 561.3 314.7 561.3 336.3 561.6 309.6 561.7 322.4 561.7 334.5 561.9 313 562.1 343.7 562.2 339.2 562.3 340 562.3 342.7 562.6 317.5 562.7 322.4 562.7 331.3 563 350.5 563.1 324.7 563.2 331.2 563.2 331.7 563.5 321.7 563.6 338.8 563.7 327.6 563.7 333 563.8 349.9 564 316.2 564.2 328.1 564.2 329.8 564.5 342.7 564.6 316.4 564.7 338 564.8 331.9 565.1 350.8 565.2 317.7 565.2 329.8 565.6 336.1 565.6 310.4 565.7 325.1 565.8 330.9 565.9 310 566.1 332.3 566.2 317.7 566.2 323.2 566.5 334.4 566.6 296.1 566.7 314.9 566.7 320.7 567.1 326.7 567.1 291.7 567.2 314.3 567.2 323.3 567.5 290.5 567.7 323.4 567.7 319 567.7 319.4 568.1 286.9 568.2 321.1 568.3 302.3 568.3 306.7 568.4 288.1 568.7 294.4 568.7 283.3 569 313.5 569.1 280.3 569.2 303.4 569.2 300.6 569.5 281.6 569.7 319.1 569.7 314.2 569.7 305.1 570.1 326.4 570.1 292.5 570.2 319.6 570.2 311.3 570.5 330.2 570.5 292.6 570.7 320.9 570.8 322.5 570.8 296.7 570.9 332.4 571.2 309.7 571.2 313.8 571.3 343.2 571.5 298.4 571.7 305.6 571.8 307.5 571.9 329.8 572.1 304.8 572.2 329.5 572.2 323.4 572.5 307.8 572.7 337.3 572.7 327.8 572.7 318.5 573 337.3 573.1 315.5 573.2 318.5 573.2 325.7 573.5 312.7 573.7 350.2 573.7 338 573.8 346.5 574.2 326.4 574.3 332.9 574.3 326 574.5 348.9 574.7 345.4 574.7 343.7 574.8 358.8 575.1 318.8 575.2 334 575.3 322.9 575.3 337 575.6 315.6 575.7 319.4 575.7 328.6 575.9 347.1 576.1 313.4 576.2 326 576.2 324.4 576.5 307.6 576.6 361.1 576.7 313.4 576.7 321.3 577.1 342.7 577.2 302.6 577.2 315.4 577.2 323.6 577.5 325.5 577.7 291.3 577.7 312.1 577.8 306.3 577.9 335.6 577.9 294.3 578.2 301.8 578.2 290.7 578.6 323.1 578.7 304.2 578.8 307.3 578.9 300.2 579.1 337.1 579.2 302.1 579.2 308.2 579.3 290.3 579.5 331.4 579.7 297.3 579.7 307.5 579.9 318.3 580.1 293.7 580.2 305.7 580.2 319.6 580.6 290.6 580.7 311.4 580.7 311.8 580.8 293.3 581.2 331.7 581.2 313.8 581.3 302.7 581.5 330.1 581.6 297.9 581.7 310.6 581.7 312.1 581.8 326.5 582.2 299.1 582.2 308.6 582.2 305.2 582.4 286.6 582.7 326.3 582.7 321.2 582.7 319.8 583.1 310.7 583.2 342.9 583.2 331.3 583.5 322.2 583.7 347.8 583.7 339.3 583.8 341 583.8 310.5 584 353.8 584.2 324.8 584.2 334 584.6 309.2 584.7 344.2 584.7 324.1 584.8 333.5 584.8 318.8 585 341.2 585.2 335 585.2 325.5 585.6 348.9 585.7 319.3 585.7 326.4 585.7 330.5 586.1 318 586.2 357 586.2 346.1 586.3 348.5 586.6 330.5 586.7 330.6 586.7 335 587 311.7 587.1 349.9 587.2 332.2 587.3 330.5 587.4 312.3 587.5 344.4 587.7 321.5 587.7 331.7 588 334.9 588.2 299.1 588.2 327.3 588.3 322 588.3 329.3 588.4 301 588.7 305.4 588.7 307.9 588.9 326.3 589.1 302.9 589.2 323.5 589.2 308.7 589.3 292 589.4 318.2 589.7 304.5 589.7 312.7 590.1 285.5 590.2 315.9 590.2 314.4 590.2 313 590.4 301.9 590.6 322.5 590.7 320.4 590.8 317.3 590.8 291.5 591.1 329.8 591.2 304.1 591.2 294.1 591.3 320.3 591.7 283.3 591.7 308.9 591.7 304.1 591.9 298.6 592.1 337.1 592.2 301 592.2 306.4 592.4 281.7 592.7 336.5 592.7 310.1 592.7 319.5 592.9 303.9 593 336.8 593.2 313.2 593.2 313.3 593.3 306.9 593.6 328 593.7 315.1 593.7 309.8 593.8 329.3 593.9 309.1 594.2 327.2 594.3 327.7 594.3 316.6 594.5 348.6 594.7 326.1 594.7 315 595.1 361.5 595.2 346.5 595.2 337 595.3 349 595.5 317 595.7 332.4 595.7 347.7 595.9 323.4 596.1 370.4 596.2 337.7 596.2 349.1 596.7 326.2 596.7 335.5 596.8 337.8 596.8 319.9 597 344.9 597.2 323.6 597.2 332.9 597.6 318.8 597.7 347.6 597.8 341.3 598.1 318.3 598.2 346.4 598.2 332.1 598.3 314.8 598.7 345.6 598.7 333.5 598.7 332.6 599 302.5 599.2 333.9 599.2 333.3 599.2 327.4 599.6 297.4 599.7 322.3 599.7 316.9 600 336 600 305.9 600.2 322 600.3 306.5 600.3 323.6 600.3 283.9 600.7 311.8 600.7 310.1 600.9 324.3 601 284.3 601.2 292.7 601.3 287.3 601.3 281.9 601.6 320.2 601.7 307.6 601.7 300.5 602 287.5 602.1 313.5 602.2 306.2 602.2 314.8 602.6 294 602.7 305.4 602.7 305.2 602.8 331.4 603.1 285.3 603.2 312.9 603.2 328.5 603.3 331.4 603.6 295.9 603.7 305.5 603.8 300.1 604.2 330.1 604.2 324.4 604.2 316.6 604.7 332.3 604.7 301.2 604.7 315.6 604.9 338.9 605.1 301.5 605.2 314.3 605.2 322.2 605.3 321.7 605.7 338 605.7 328.9 605.7 323.9 605.8 311.7 605.9 338.8 606.2 329.5 606.3 329.7 606.3 319.2 606.3 342.4 606.7 336 606.7 338.3 607.1 355 607.2 317.8 607.3 318.5 607.5 345.7 607.7 329.1 607.7 331.5 607.8 345.7 607.9 328.4 608.2 333.1 608.2 341.7 608.4 344.4 608.5 315.5 608.7 334.1 608.7 337.1 608.8 349.8 608.9 314.9 609.2 332.1 609.2 336.6 609.7 315 609.8 329.7 609.8 340.1 609.9 315.1 610.2 322.1 610.2 322.1 610.3 333 610.6 304.2 610.7 309.3 610.8 318 610.9 325.5 611.2 296.9 611.2 319 611.4 296.6 611.5 321.4 611.7 308 611.7 310.5 611.8 322.8 612 288.2 612.2 304 612.2 307.8 612.4 314.9 612.5 294.5 612.7 308 612.7 320.6 613 288.6 613.2 312.2 613.3 293.2 613.5 289.6 613.6 322.3 613.7 304.5 613.7 291.2 614.2 327.1 614.2 318.4 614.3 317.3 614.3 301.5 614.4 321.1 614.7 321.1 614.7 309.9 614.9 301.7 615.1 331.8 615.2 309.7 615.2 310.2 615.3 305.1 615.6 332.6 615.7 316 615.7 318.4 615.8 345.2 616.2 307.7 616.2 324.2 616.2 309.3 616.3 342.6 616.7 330.1 616.8 327.1 616.8 316.6 617.1 344.7 617.2 333.7 617.2 334.7 617.4 320.3 617.6 348 617.7 337.5 617.7 338.8 618.1 327.4 618.2 351.8 618.2 343.2 618.2 334.4 618.3 322.8 618.6 349.8 618.7 325.2 618.7 335.5 619 344.9 619.2 323.7 619.2 325.9 619.3 330.2 619.5 312 619.6 340.4 619.7 339.1 619.7 340.5 619.8 314.5 620.2 345.7 620.2 336.1 620.3 333.5 620.3 342.7 620.5 307.4 620.7 315.5 620.7 317.3 621 348.6 621.1 314.9 621.2 320.2 621.2 320.8 621.5 302.8 621.6 330.7 621.7 328 621.7 317 621.8 304 622 329.1 622.2 307.5 622.2 284.6 622.4 337.3 622.7 323.1 622.8 316 623 301.2 623.1 330.9 623.2 324.8 623.2 306.6 623.6 332 623.7 285.9 623.8 314.6 623.8 301.1 624.1 331.9 624.2 326.4 624.2 310 624.3 295 624.6 324 624.7 295.4 624.7 306.4 624.8 300.5 625 328.2 625.2 312.3 625.2 302.8 625.3 287.3 625.3 322.2 625.7 307.2 625.7 302.9 625.8 329.5 625.9 300.3 626.2 320.5 626.3 312.6 626.5 305.4 626.6 341.7 626.7 330.6 626.7 312.3 626.8 341 627.2 335.2 627.2 329.2 627.3 333.7 627.5 310.4 627.7 329.3 627.7 327.3 628 337.7 628.1 315.2 628.2 324.7 628.2 329.4 628.5 347.9 628.6 316.2 628.7 328.6 628.7 330.4 629.1 358.6 629.2 323.9 629.2 326.3 629.2 332 629.3 325.4 629.7 351.3 629.8 330.2 629.9 348.6 630.2 320.9 630.2 334.8 630.2 336.4 630.5 342.9 630.7 317.5 630.7 317.7 630.8 314.4 630.9 345.1 631.2 329.7 631.2 320.3 631.3 350 631.5 311.7 631.7 319.8 631.7 327.3 631.9 310.9 632.1 342.5 632.2 326.2 632.3 324.3 632.6 295.3 632.7 321.6 632.7 303.1 632.9 328.3 633.2 299.4 633.2 326.5 633.3 314.9 633.3 299.5 633.7 324.4 633.7 312.1 633.9 325.2 634 285.5 634.2 321.7 634.2 312.1 634.3 318.4 634.5 286.2 634.7 299.7 634.7 307.1 634.8 317.4 634.9 284.3 635.2 315.9 635.2 301.6 635.5 326 635.7 281.5 635.7 307 635.8 306.5 635.8 293.3 635.9 341.6 636.2 320.3 636.2 304.4 636.6 321.6 636.7 299.5 636.8 305.7 636.8 332.1 637.2 302.3 637.2 322.2 637.4 300.9 637.4 326.2 637.7 308.8 637.7 312.4 637.8 305.5 637.9 331.2 638.2 330.8 638.2 323.7 638.3 314.1 638.7 342 638.7 323.5 638.7 318.2 639.2 342.5 639.2 335.3 639.3 334.3 639.3 316.1 639.7 341.6 639.7 357.7 639.8 359.6 639.8 320.9 640.2 329.2 640.2 336.4 640.4 348.3 640.6 320.5 640.7 322.8 640.7 332.8 640.9 338.7 640.9 316.3 641.2 328.2 641.2 321.4 641.4 317.1 641.6 343.7 641.7 320.4 641.7 342.8 641.8 350.4 641.8 319.9 642.2 321.7 642.2 325.1 642.3 312.9 642.4 337.3 642.7 315.2 642.8 310.9 642.8 297 643 337.3 643.2 313.9 643.2 329.8 643.3 333.6 643.5 300.2 643.7 308.8 643.7 321.8 644.1 324.9 644.2 294 644.2 320.1 644.2 306.5 644.3 322.7 644.7 287 644.7 320.1 644.7 290 644.9 275.6 645.2 314.4 645.2 302 645.3 295 645.5 293.2 645.6 327.7 645.7 310.3 645.7 299.2 645.9 279.9 646.2 313.5 646.2 293.7 646.3 299.4 646.3 317.7 646.6 278.2 646.7 304.5 646.7 295.7 646.9 334.6 647.2 309.5 647.2 300 647.4 285.2 647.7 318.9 647.7 303.9 647.7 315.9 647.8 290.3 648.2 330.6 648.2 302.8 648.2 302.1 648.5 328.8 648.6 301.2 648.7 316.9 648.8 330.4 649.2 306.7 649.2 341.5 649.2 313.9 649.3 308.2 649.5 344.7 649.7 326.8 649.8 311.4 650.2 348.5 650.2 327 650.3 322.5 650.7 342.3 650.7 332.5 650.7 323.8 650.8 323.5 650.9 350.6 651.2 336.2 651.2 325.8 651.5 352.9 651.7 334.2 651.7 347.4 652.1 325.7 652.2 338.5 652.3 332.2 652.4 312.6 652.6 340.3 652.7 328.8 652.7 302 652.9 350 653.2 321.8 653.2 324 653.6 338.5 653.6 316.4 653.7 316.8 653.7 312.1 654 310 654.1 333.7 654.2 310.8 654.2 290.9 654.7 328.8 654.7 303.2 654.8 321.2 654.8 322.9 654.9 295.5 655.2 319.1 655.2 301.7 655.3 299.2 655.5 328.8 655.7 320.6 655.8 302.9 655.8 320.5 655.9 289.5 656.2 304.9 656.2 299.8 656.6 326.5 656.7 292.8 656.7 306.7 656.9 288.7 657.2 321.9 657.2 325.7 657.5 290.7 657.7 302.9 657.7 314.1 657.8 285.4 658.1 324.3 658.2 318.8 658.3 316.2 658.4 301.9 658.6 328.2 658.7 305.2 658.7 309 658.8 292.5 658.9 331.8 659.2 321.5 659.3 315.4 659.4 308.6 659.7 338.5 659.7 322 659.7 316.2 659.9 308.9 660.1 342.7 660.2 321.6 660.2 334.4 660.6 314.5 660.7 332.7 660.7 333.3 660.8 309.5 661 341.6 661.2 321.6 661.2 330 661.3 318.6 661.5 342.6 661.7 338.4 661.8 340.1 661.8 321.4 662.1 343.8 662.2 334.9 662.2 335.7 662.3 357 662.4 320 662.7 329.5 662.8 324.4 662.8 343.8 663.1 323.2 663.2 327.7 663.2 323.1 663.5 345.9 663.5 321.1 663.7 340.4 663.7 325.3 663.8 322.1 663.9 349.1 664.2 322.9 664.2 329.5 664.5 336.9 664.7 294.9 664.7 314.8 664.7 311.7 664.8 335 665.2 307.5 665.3 340 665.6 305 665.7 325.5 665.7 308.6 666 278 666.1 325.5 666.2 298.1 666.2 292.5 666.5 290.2 666.5 315.3 666.7 304.8 666.7 315.1 666.8 322.3 667.2 284.4 667.2 286 667.2 312.6 667.4 319.6 667.5 279.3 667.7 295.6 667.8 305.5 668.1 286.6 668.1 311.8 668.2 295.2 668.2 297 668.4 277.5 668.6 321.3 668.7 299.9 668.8 301.7 668.8 316.6 669.2 285.8 669.2 289 669.2 299.7 669.3 290.5 669.6 337.8 669.7 305.5 669.7 302 669.9 296 670.1 318.9 670.2 301.7 670.2 301.8 670.4 328 670.7 299.8 670.7 326.5 670.7 303.4 671 335.9 671.2 335.4 671.3 311.2 671.3 335.3 671.7 308.4 671.7 318.9 671.7 330.8 672 339 672.1 312.8 672.2 335 672.3 337.9 672.3 341.9 672.7 312.4 672.7 337.1 672.9 345.6 673.2 321.8 673.2 332.7 673.6 321.2 673.7 347.3 673.7 345.5 673.8 332.3 674.2 349 674.2 342.1 674.2 333.6 674.5 341 674.7 315.6 674.7 334.3 674.8 333.2 674.9 343 675.1 316.6 675.2 321.6 675.2 317.3 675.5 308.3 675.7 334.7 675.7 332.2 675.7 322.6 676 305 676.1 331.5 676.2 321.5 676.2 323.1 676.3 296.1 676.7 327.1 676.7 318.9 676.7 315 676.8 276 677 328 677.2 306.4 677.2 307.6 677.4 287 677.6 321.8 677.7 297.9 677.7 293.2 678.1 328 678.1 285.3 678.2 287.4 678.3 298.5 678.4 302.1 678.7 277.8 678.7 294.4 678.8 316.7 678.8 276.1 679.2 306 679.2 296.3 679.3 286.7 679.5 314.3 679.7 293.2 679.7 281.9 680.1 315.1 680.2 300.8 680.2 316.7 680.4 321.6 680.5 283.1 680.7 295.2 680.8 301.6 680.8 319.3 680.9 291.3 681.2 311.8 681.2 299 681.6 335.1 681.7 315.2 681.8 320.8 681.8 304.8 681.9 328.1 682.2 310.4 682.2 318 682.5 308.7 682.7 331.6 682.7 317.7 682.7 301.5 682.8 338.7 683.2 329.9 683.2 329.3 683.4 340.7 683.7 312.9 683.7 329.2 684 351.7 684.2 315.1 684.3 342.2 684.6 317.8 684.7 323.4 684.7 327.1 684.9 345.8 685.2 326.4 685.2 331.1 685.3 338.4 685.5 342.8 685.6 320.8 685.7 336.2 685.7 331.8 685.9 319.1 686.1 345 686.2 343.5 686.2 338.3 686.5 339.4 686.7 313.1 686.7 328.9 686.7 317.5 686.9 330.6 687.1 306.1 687.2 318.4 687.2 325.9 687.4 329.7 687.7 294.8 687.8 309.5 687.9 321 688.1 299.4 688.2 319.1 688.2 316.2 688.4 329.9 688.7 284.1 688.7 302.3 688.7 308.3 688.8 294.1 689.1 322.5 689.2 297.3 689.2 280.6 689.5 311.9 689.7 293.7 689.7 290.7 689.8 316.8 690 271.3 690.2 296.9 690.2 316.1 690.3 317.8 690.4 290.3 690.7 295 690.7 303.7 690.8 317.1 691 288.9 691.2 295.7 691.3 305.8 691.5 297.1 691.6 323.9 691.7 316.2 691.7 322.9 691.9 301.2 692 338.5 692.2 324.6 692.2 326.2 692.5 332.6 692.5 300 692.7 331.5 692.7 329.2 692.8 309.6 692.9 337 693.2 329.7 693.2 316.2 693.5 314.7 693.7 337.5 693.8 313.3 693.9 310.2 694.2 351.5 694.2 332.6 694.2 339.9 694.5 323.5 694.6 343.6 694.7 334.2 694.8 344.1 694.8 322.1 695.1 365.9 695.2 345.4 695.2 332.7 695.3 345.8 695.7 309.7 695.7 325.8 696 322.2 696.1 351.4 696.2 328.7 696.2 345.5 696.3 326.7 696.6 346.4 696.7 332.4 696.7 326.3 696.9 321.7 696.9 354.3 697.2 337.1 697.3 329.1 697.4 309.7 697.7 336.9 697.7 325.1 697.7 328.9 697.8 339.3 698 298.1 698.2 316.9 698.3 312.2 698.3 345 698.7 306 698.7 292.8 698.8 292.6 698.9 321.8 699.2 319 699.2 310.7 699.5 326.4 699.7 299.6 699.7 312.5 699.7 294.2 700.2 328.1 700.2 290.3 700.2 320.1 700.3 293.6 700.6 326.5 700.7 300.5 700.8 298.4 700.8 311.7 700.8 290.9 701.2 301 701.2 300.8 701.5 292.1 701.6 320.8 701.7 292.8 701.7 297.6 701.9 328.5 702.2 311.8 702.2 308.5 702.4 323.8 702.6 287.9 702.7 307.4 702.7 326.1 702.8 332.6 703 301.2 703.2 316.5 703.3 323.9 703.3 300.7 703.5 336.3 703.7 310.8 703.7 322.9 703.8 336.3 704.2 311.2 704.2 314.7 704.3 325.4 704.3 359.7 704.3 319.5 704.7 326.9 704.7 333.2 704.8 338.9 704.8 318.3 705.2 330.4 705.2 337 705.3 337.9 705.7 318.3 705.7 323.8 705.7 323.6 705.9 317.1 706 344.5 706.2 340 706.2 340.6 706.5 345.9 706.7 319.7 706.7 329.8 706.8 339.9 706.8 346.8 707.2 317.1 707.2 318.7 707.4 343.8 707.6 316.6 707.7 331.9 707.8 329.4 708.1 312.7 708.2 336.7 708.2 315.5 708.3 339.9 708.7 317.2 708.7 310.7 708.8 328.5 709.1 300.4 709.2 315.6 709.2 330.6 709.7 293.7 709.7 298.8 709.7 308.6 709.9 288.2 710 341.2 710.2 315.3 710.3 298.5 710.3 325.2 710.6 297.8 710.7 314.6 710.7 308.5 711 327.1 711.1 287.2 711.2 313.6 711.3 313.5 711.3 278.1 711.7 314.1 711.7 297.9 711.7 297.8 711.8 305.8 712.2 284.3 712.2 286.9 712.2 277.9 712.4 274.4 712.6 314.9 712.7 293.6 712.7 286 712.8 285.3 712.9 320.7 713.2 320.4 713.2 301.2 713.3 289.3 713.3 335.4 713.7 307.5 713.8 309.2 713.8 323.7 714 302.6 714.2 313 714.2 318.3 714.5 301.5 714.6 330.7 714.7 313 714.7 312.1 715 328.1 715.1 300.4 715.2 310.4 715.2 303.8 715.3 298.1 715.5 350.4 715.7 318.6 715.7 325.4 716 355.6 716.2 325.7 716.3 326.1 716.3 321.5 716.6 348.5 716.7 331.1 716.7 321.5 716.9 307.6 717 347.8 717.2 329.8 717.3 333.7 717.6 326 717.6 351.8 717.7 345.2 717.7 344.4 718 319.5 718.2 330.1 718.2 333.5 718.5 349.5 718.7 317.6 718.7 328.5 718.8 326.2 718.9 349.5 719.2 330.1 719.2 321.6 719.3 352.1 719.5 321.3 719.7 328.3 719.8 318.1 719.9 344.8 720.1 311.5 720.2 320.5 720.2 322.7 720.3 303.1 720.4 333 720.7 313.4 720.8 307.3 720.8 332.4 721.2 313.6 721.2 300.5 721.6 330.3 721.7 295.8 721.7 314.7 721.9 300.1 721.9 320.7 722.2 301.4 722.2 303.8 722.3 320.7 722.4 286.9 722.7 314 722.7 300.5 722.8 279.7 723.2 319.7 723.2 304.9 723.3 296.1 723.3 323.6 723.6 288.6 723.7 294.2 723.7 295.4 723.8 294.2 724.1 319.2 724.2 304 724.2 300.2 724.4 322.2 724.7 293.1 724.7 313.2 724.7 319.2 725.1 324.7 725.2 295.3 725.2 302.5 725.2 294.8 725.5 330.9 725.7 329.9 725.7 329.9 725.9 335.9 726.1 304.8 726.2 324 726.2 337.1 726.4 310.2 726.7 346 726.8 334.8 726.9 313.9 727.2 335.8 727.2 331.6 727.2 346.5 727.4 319.7 727.7 328.6 727.7 328.2 727.8 347.9 728.1 318.9 728.2 336.7 728.2 336.1 728.3 344.7 728.7 317 728.7 344.3 728.9 351.4 729.2 315.2 729.2 328.4 729.3 344 729.3 344.8 729.4 323.7 729.7 331.9 729.7 331.3 729.8 349.3 729.8 308.8 730.2 328.8 730.3 334.4 730.3 314.2 730.6 338 730.7 319.6 730.7 321.5 730.9 329.3 730.9 304 731.2 311.9 731.2 330.9 731.5 293.6 731.7 312.3 731.7 310.3 731.9 321.4 732.2 293.7 732.2 302.9 732.2 308 732.6 320 732.7 280 732.7 299.4 732.8 305.9 732.8 319.5 733.2 292.4 733.2 301.1 733.2 313.6 733.4 282 733.7 312.8 733.8 315.9 734 278.7 734.2 290.9 734.2 285.7 734.4 280.4 734.5 323.3 734.7 300.2 734.7 278.5 735 316.5 735.2 310 735.2 290.9 735.3 279.3 735.6 326.2 735.7 306.5 735.7 303.9 735.9 294.8 736.1 338.2 736.2 311.3 736.3 316.1 736.5 298.2 736.6 330.8 736.7 312.9 736.7 295.9 737.1 349.6 737.2 312.4 737.2 323.6 737.5 314.1 737.6 338.4 737.7 330.6 737.7 315.4 737.8 313 737.8 335.8 738.2 325.1 738.2 323.6 738.5 318.6 738.6 342 738.7 327.2 738.7 320.8 738.8 320.8 739.1 346.8 739.2 343.8 739.2 335.8 739.3 316.6 739.5 342.9 739.7 338.8 739.8 336.4 739.9 326.2 740.1 347.2 740.2 330.4 740.2 345.5 740.4 325.3 740.6 346.1 740.7 331.1 740.7 325.8 740.8 340.4 740.9 316.9 741.2 324.1 741.2 319.9 741.4 334.8 741.6 310.3 741.7 318.5 741.7 313.2 741.9 297.6 742.1 333.6 742.2 325.5 742.3 319.2 742.5 315.3 742.6 332.8 742.7 323.6 742.7 306.2 742.9 330.2 743 299.4 743.2 304.9 743.3 317.3 743.4 341.9 743.5 288.1 743.7 294.7 743.7 301.7 743.9 324.9 744 287.9 744.2 318.5 744.2 295.1 744.5 283.3 744.7 313.5 744.7 304.8 744.7 311.8 744.9 283.5 745.2 329.3 745.2 324.8 745.2 336.8 745.4 297.3 745.7 309.5 745.8 300.8 745.9 324.5 746 294.2 746.2 321.5 746.2 296.7 746.7 326.3 746.7 318.7 746.8 318.2 746.9 303.4 747 333.6 747.2 314.6 747.2 299.9 747.6 340.8 747.7 322.9 747.7 318.4 748 298.9 748.2 337.1 748.2 321.5 748.2 324.8 748.3 309.6 748.4 345.7 748.7 329.3 748.7 312.9 749 335.3 749.2 330.7 749.3 327.1 749.5 320.9 749.7 342.6 749.7 328 749.8 316.2 749.9 348.7 750.2 330.7 750.2 331.4 750.4 322 750.5 339.7 750.7 329.2 750.7 326.7 750.9 325.1 751.2 347.8 751.2 340.6 751.2 343.3 751.3 357.3 751.5 317.6 751.7 328 751.8 323.9 752 307.8 752.1 345.1 752.2 318.7 752.2 321.6 752.4 344.5 752.6 310 752.7 317.3 752.8 320.4 753.1 342.3 753.2 309.6 753.2 317.6 753.4 334.3 753.5 300.9 753.7 313.7 753.7 316.6 753.8 276.2 754.1 341.4 754.2 313.3 754.2 329.8 754.4 295 754.7 333 754.7 315.3 754.7 314.8 754.8 325.2 755.2 287.8 755.2 310.9 755.3 315.3 755.6 282.2 755.7 307 755.7 313.5 755.8 296.2 756 317.7 756.2 298.1 756.3 308.9 756.6 298.5 756.6 339.2 756.7 306.4 756.7 308 756.8 318.1 756.9 288.4 757.2 317.5 757.2 308.1 757.3 293.9 757.7 321.2 757.7 309.7 757.7 317.1 757.9 329.8 758.1 300.4 758.2 318.7 758.2 314.4 758.5 299.8 758.6 328.8 758.7 310.4 758.8 330.2 759 307.1 759.1 334.3 759.2 329 759.2 327.7 759.4 318.2 759.6 333.1 759.7 329.9 759.7 334.5 760 338.7 760.2 319.3 760.2 328.3 760.3 321.9 760.6 343.7 760.7 329.5 760.7 327.6 760.8 313.9 760.9 336.5 761.2 328.2 761.2 328.6 761.6 326.6 761.7 351.3 761.7 339.9 761.7 335.2 762 313.5 762.2 341 762.3 351.2 762.6 351.4 762.7 310.3 762.7 326.8 762.7 342.3 763 320.6 763.2 333.4 763.2 332.5 763.6 346.7 763.6 312.5 763.7 313.3 763.7 329.9 763.8 345.5 764.1 307 764.2 330.7 764.2 318.5 764.5 334.2 764.6 298.3 764.7 326.1 764.8 319.8 765.1 324 765.2 291.4 765.2 303.2 765.4 314.7 765.5 292.4 765.7 313.7 765.8 328.5 765.8 337.9 766 276.8 766.2 335.6 766.2 331.5 766.4 281.5 766.6 335.9 766.7 288.4 766.7 309.7 766.8 286.5 767.1 316.5 767.2 302.8 767.2 294.7 767.3 316.6 767.4 289.7 767.7 299.6 767.7 318.4 767.9 292.8 768 324.1 768.2 312.6 768.3 309.3 768.5 295.1 768.5 332.5 768.7 308.9 768.7 323 768.8 296.1 769 328.7 769.2 320.5 769.3 306.8 769.4 301.1 769.6 331.3 769.7 312.2 769.7 310.6 770 324.6 770.1 306.2 770.2 308.5 770.2 324.2 770.3 335.3 770.4 309.8 770.7 321.9 770.7 327.8 770.8 308.5 770.8 349.2 771.2 336.6 771.2 328.2 771.3 315.7 771.5 353.7 771.7 333.2 771.8 347.7 772 314.1 772.2 333.4 772.2 336.5 772.5 355.8 772.5 323.5 772.7 325.2 772.7 330.9 772.9 326.2 773.1 351.1 773.2 335.4 773.2 339.6 773.7 314.2 773.7 347.3 773.7 334.7 774 348.1 774 316.9 774.2 330.5 774.2 333.4 774.4 345.3 774.6 315.5 774.7 325.1 774.7 332.4 775.2 333.2 775.2 307.1 775.2 320.8 775.3 313.6 775.3 350.5 775.7 303.7 775.7 321.8 775.9 332.4 776 300.6 776.2 315.1 776.2 315.6 776.3 329.3 776.7 289.4 776.7 302.9 776.9 288.5 777 324.4 777.2 289.3 777.2 364.8 777.6 292.5 777.7 308.4 777.8 313.3 777.9 314.6 778.1 292.2 778.2 297.3 778.2 318.6 778.3 295.6 778.5 331.5 778.7 300.6 778.8 287.7 779.1 327.4 779.2 304 779.2 307.4 779.3 328.6 779.4 294.2 779.7 305.8 779.7 321.2 779.8 328 780.2 297.5 780.2 324.5 780.2 310 780.4 301 780.4 332.4 780.7 312.6 780.7 319.3 781 307 781.2 325.9 781.2 323.6 781.3 335.2 781.5 318.8 781.6 338.4 781.7 329.9 781.7 321.4 781.8 342.9 782 319 782.2 331.5 782.3 330.1 782.3 339.2 782.5 320 782.7 324.4 782.7 320.6 782.8 319.6 783.1 348.2 783.2 332.7 783.2 331.9 783.3 321.1 783.6 345.9 783.7 326 783.7 331.2 783.9 348.7 784 325.5 784.2 340 784.2 327.8 784.4 318.8 784.6 347.1 784.7 335.8 784.8 342.8 784.8 344.9 785 314.3 785.2 341.7 785.2 325.5 785.4 311 785.6 345.8 785.7 330.1 785.7 342 786.1 309.8 786.2 317.9 786.2 325.5 786.4 336.4 786.6 293.8 786.7 324.6 786.7 318.5 786.8 294.3 787.1 328.3 787.2 323.2 787.3 306.8 787.5 286.8 787.7 341.5 787.7 298.6 787.7 302.4 787.9 316.2 788.2 290.1 788.3 318.7 788.3 322.2 788.6 285.4 788.7 308.6 788.7 311.6 789 285.2 789.1 324.6 789.2 294.6 789.2 291 789.6 324.6 789.7 301.7 789.7 311.4 789.9 281 790.2 322.6 790.2 297.9 790.2 288.8 790.4 325.2 790.7 315.9 790.8 324.5 790.9 298.9 791.2 305.5 791.2 309.7 791.4 296.9 791.7 332.2 791.7 308.4 791.8 316.4 791.8 304.9 791.9 336.6 792.2 312.3 792.2 319.5 792.3 301.6 792.4 342 792.7 323.6 792.7 328.5 792.9 348.6 793.1 313.3 793.2 328.4 793.2 339.4 793.3 351.5 793.5 320.4 793.7 336.7 793.7 329.3 793.8 313.9 794 348.3 794.2 331.9 794.3 330.7 794.6 341.7 794.7 327.3 794.7 337.7 794.7 346.2 795 321.9 795.2 351.2 795.2 350.8 795.3 344.8 795.3 344.9 795.6 317.4 795.7 337.7 795.7 352.3 796.1 318.1 796.2 337.1 796.2 364.4 796.7 306.1 796.7 313.1 797 342.3 797.2 310.2 797.2 323.5 797.2 319.5 797.5 335.9 797.6 305 797.7 317.4 797.8 309.6 797.8 328.9 797.9 288.7 798.2 311.8 798.2 308.6 798.3 320.2 798.7 297.9 798.7 299.1 798.7 307.7 798.8 327.8 798.9 269.9 799.2 313.7 799.2 301.7 799.4 287.6 799.5 331.7 799.7 294.4 799.7 312.2 800 335.1 800.1 281.7 800.2 312.4 800.3 292.7 800.4 319.3 800.7 289.9 800.7 268.1 801.1 312.6 801.2 291.6 801.3 291.3 801.5 313.5 801.6 287.6 801.7 295.9 801.7 311.5 801.8 293.9 802.2 336.3 802.2 294.9 802.2 301.1 802.4 339.6 802.7 312 802.7 310.4 802.8 300.4 803 333.6 803.2 328.6 803.2 334.8 803.4 337.4 803.6 310.4 803.7 324.9 803.8 324 803.8 315.3 804.1 347.3 804.2 337.5 804.2 327.4 804.3 310.9 804.5 339 804.7 331.6 804.8 344.1 804.8 319.4 805 346.3 805.2 337.6 805.2 332.2 805.4 313.4 805.6 347.6 805.7 343.7 805.7 341.3 805.8 323 805.9 352.9 806.2 332 806.2 330.3 806.5 325.6 806.7 341.1 806.7 340.5 806.8 352.3 807 320.3 807.2 335.4 807.3 326.2 807.6 314.3 807.7 336 807.7 331.1 807.8 341.7 807.9 319.8 808.2 325.6 808.2 327.1 808.3 337.5 808.6 302.7 808.7 318.3 808.7 324.1 808.8 295.9 808.9 338.7 809.2 300.3 809.2 323.3 809.4 326.3 809.6 287.5 809.7 311 809.7 313.7 809.8 330.9 809.9 289.7 810.2 318.3 810.2 314.6 810.5 333.5 810.7 286.8 810.7 311 810.8 298.3 811.1 285.1 811.2 317.5 811.2 311.3 811.6 281.7 811.7 300 811.7 302.1 811.8 292.4 811.9 321.9 812.2 313.6 812.2 314.4 812.3 295.9 812.6 331.5 812.7 322.9 812.7 299.3 812.9 295.2 813.2 318.5 813.3 309 813.4 334.6 813.6 302.6 813.7 326.9 813.7 325.3 813.8 305.2 814.1 330.6 814.2 319.6 814.3 316.3 814.3 338.5 814.5 306.2 814.7 326.3 814.7 319.3 815.1 310.4 815.1 357.2 815.2 337.2 815.2 328.7 815.3 352.5 815.6 318.9 815.7 337.9 815.7 331.9 816 329.7 816.1 352.9 816.2 337.6 816.2 336 816.5 325.8 816.7 355.2 816.7 332.7 816.8 333.5 816.9 326.3 817.1 349.3 817.2 334.6 817.2 331.5 817.6 320.9 817.7 350 817.7 331.4 817.8 319.3 818.1 355.2 818.2 321 818.2 331.1 818.5 311 818.7 339.8 818.7 319.9 818.7 323.2 819.1 309.8 819.2 338.2 819.2 324 819.2 329.7 819.6 344.2 819.7 308.6 819.7 303.4 819.8 296.2 819.9 326.7 820.2 313.9 820.3 310.9 820.3 301.6 820.6 326.7 820.7 308.8 820.7 322.2 820.8 328.4 821 297.5 821.2 298.9 821.2 292.8 821.3 311.8 821.7 311.3 821.7 298.5 821.9 291.2 822 321.7 822.2 313 822.2 308 822.4 320.1 822.5 298.5 822.7 300.6 822.7 305.8 823.1 324.2 823.1 300.5 823.2 313.9 823.2 290.1 823.4 337.1 823.7 304.4 823.8 312.3 823.8 296.4 823.9 326.2 824.2 316.4 824.2 310.2 824.3 348.5 824.4 305.7 824.7 319 824.7 309.8 824.9 305 825.1 350.2 825.2 317.9 825.2 334.6 825.6 310 825.7 323.9 825.7 316.7 825.9 312.1 826.2 343.8 826.3 326.3 826.4 342.6 826.6 321.1 826.7 326.2 826.7 333.5 826.8 322.7 827.2 350.3 827.2 330.5 827.3 323.2 827.5 337 827.6 322.9 827.7 336.6 827.7 329.1 827.9 345.3 828.2 321.8 828.2 342 828.2 324.8 828.6 344.3 828.7 318.6 828.7 329.8 829 359.6 829 319.5 829.2 326.9 829.2 343.8 829.3 348.6 829.6 323.1 829.7 334 829.8 323.8 829.8 339.8 830.1 311.4 830.2 329.8 830.2 314.3 830.4 335.8 830.7 304.4 830.7 317.5 830.8 306.9 830.9 290.2 831 333.9 831.2 313.3 831.2 293.6 831.3 328.7 831.5 290.1 831.7 307.2 831.7 318 831.8 335.5 832 276.7 832.2 305.2 832.2 312.1 832.3 318.5 832.7 290.6 832.7 293 832.7 275.2 833.1 314.2 833.2 308.2 833.3 305.3 833.5 283.2 833.7 323.1 833.7 307 833.8 321.1 834 289.1 834.2 297.6 834.2 293.1 834.3 313.4 834.5 290.8 834.7 310 834.7 302 834.9 289 835.2 317.6 835.2 311.1 835.4 300.9 835.5 333.2 835.7 330.7 835.8 328.9 835.9 307.4 836.1 333.9 836.2 315.8 836.2 320.4 836.5 302.4 836.7 344.7 836.7 319.5 836.8 316.7 837.1 310.9 837.1 339.4 837.2 337.1 837.2 339.2 837.4 308.3 837.6 345.4 837.7 326.7 837.7 337.9 837.8 354.4 838.2 312 838.2 320.7 838.2 339.5 838.3 326.6 838.3 348.1 838.7 337.7 838.7 347.5 839.2 322.6 839.2 329.5 839.3 335.3 839.4 341.4 839.7 318.6 839.7 331.1 840 340 840.2 314.7 840.3 333.1 840.3 356.4 840.5 312.4 840.7 329.8 840.7 320.9 840.8 343.4 841.2 319.3 841.2 306.3 841.5 338.4 841.5 300.5 841.7 302.3 841.7 305 842.2 330.8 842.2 308 842.2 308.7 842.3 329.4 842.5 296.4 842.7 309.6 842.8 319.8 842.9 287.8 843 329.4 843.2 310.3 843.2 303.8 843.5 324.2 843.7 276.9 843.8 306.1 843.8 313.7 843.8 279.4 844.2 291.3 844.2 312.1 844.5 321.2 844.7 292.5 844.7 300.9 844.7 291.2 844.9 285.3 845 331.2 845.2 290.4 845.2 292.6 845.4 334.9 845.7 290.9 845.7 304.1 845.7 286.4 845.9 331.6 846.2 304.4 846.3 312.3 846.3 303.6 846.5 325.2 846.7 318.1 846.7 304.3 847 339.3 847.2 319.8 847.2 317 847.3 336.2 847.5 316.8 847.7 327.4 847.7 325.3 847.9 332.4 848.2 307.2 848.2 324.6 848.2 325.2 848.4 322.7 848.6 356.8 848.7 337.4 848.8 344.5 849 320.8 849.1 345.3 849.2 323.5 849.2 346.5 849.6 318.3 849.7 329.6 849.8 336 850 318.3 850.1 351.2 850.2 350.7 850.2 335.9 850.3 341.6 850.4 317.9 850.7 327.1 850.7 335.7 850.9 346.3 851 317.3 851.2 323.5 851.2 323.5 851.4 333.3 851.7 308.7 851.7 325 851.7 322.9 851.8 336.3 852.1 304.6 852.2 327.9 852.3 314.9 852.4 324 852.6 288.3 852.7 295.4 852.7 303.6 852.8 287.5 853.2 325.7 853.3 315.7 853.4 291 853.5 325.8 853.7 292.3 853.7 299.7 853.9 318.9 854.2 275.9 854.2 283.4 854.5 274 854.6 308.2 854.7 275 854.7 289.6 854.8 268.4 855 310.4 855.2 286.5 855.2 279.4 855.5 299.7 855.6 272.3 855.7 290.2 855.8 287.7 855.8 301 856.2 282.1 856.2 285 856.4 278.3 856.6 324.2 856.7 288.4 856.7 287.7 856.8 314.3 857 278.8 857.2 301.2 857.2 304.6 857.4 296.4 857.7 321.2 857.7 323.3 858 305.9 858.2 325.4 858.2 309.7 858.6 331 858.7 316.7 858.7 311.6 858.8 308.7 859 328.9 859.2 319.5 859.3 321.1 859.6 309.3 859.6 341.8 859.7 325.6 859.7 323.5 859.8 318.5 860.2 341.9 860.2 332 860.2 334.5 860.4 320.2 860.7 361.8 860.7 341.8 860.7 342.8 861.1 344.4 861.2 318.9 861.2 322 861.2 330 861.3 321.5 861.4 349.7 861.7 332.6 861.8 320.8 861.8 349.1 862 310.2 862.2 336 862.2 314.2 862.5 341.9 862.7 313.6 862.7 326 862.8 334.5 863 340.1 863.2 303.7 863.2 301.3 863.5 298.1 863.6 327.2 863.7 309.3 863.7 322.8 864 328.8 864.2 294.9 864.2 292.3 864.4 319.8 864.7 302.2 864.7 294.2 864.8 303.5" fill="none" stroke="#1f77b4" stroke-width="2.083" stroke-linejoin="round" stroke-linecap="square"/>
<path d="M125.5 261.5 L900.5 261.5 L900.5 378.5 L125.5 378.5 Z" fill="none" stroke="#000" stroke-width="1.111" stroke-linejoin="miter" stroke-linecap="square"/>
<path d="M149.5 378.50 V383.36 M259.5 378.50 V383.36 M370.5 378.50 V383.36 M480.5 378.50 V383.36 M590.5 378.50 V383.36 M700.5 378.50 V383.36 M810.5 378.50 V383.36 M125.50 277.5 H120.64 M125.50 330.5 H120.64" stroke="#000" stroke-width="1.111" fill="none"/>
<text x="117.15" y="415.47" font-size="14.583" textLength="35.35" lengthAdjust="spacingAndGlyphs" transform="rotate(-30 117.15 415.47)">1950</text>
<text x="227.30" y="415.47" font-size="14.583" textLength="35.35" lengthAdjust="spacingAndGlyphs" transform="rotate(-30 227.30 415.47)">1960</text>
<text x="337.48" y="415.47" font-size="14.583" textLength="35.35" lengthAdjust="spacingAndGlyphs" transform="rotate(-30 337.48 415.47)">1970</text>
<text x="447.63" y="415.47" font-size="14.583" textLength="35.35" lengthAdjust="spacingAndGlyphs" transform="rotate(-30 447.63 415.47)">1980</text>
<text x="557.81" y="415.47" font-size="14.583" textLength="35.35" lengthAdjust="spacingAndGlyphs" transform="rotate(-30 557.81 415.47)">1990</text>
<text x="667.96" y="415.47" font-size="14.583" textLength="35.35" lengthAdjust="spacingAndGlyphs" transform="rotate(-30 667.96 415.47)">2000</text>
<text x="778.14" y="415.47" font-size="14.583" textLength="35.35" lengthAdjust="spacingAndGlyphs" transform="rotate(-30 778.14 415.47)">2010</text>
<text x="114.78" y="336.38" font-size="14.583" textLength="36.98" lengthAdjust="spacingAndGlyphs" text-anchor="end">0.002</text>
<text x="114.78" y="283.38" font-size="14.583" textLength="36.98" lengthAdjust="spacingAndGlyphs" text-anchor="end">0.004</text>
<text x="67.07" y="320.31" font-size="14.583" textLength="56.16" lengthAdjust="spacingAndGlyphs" text-anchor="middle" transform="rotate(-90 67.07 320.31)">fieldmin</text>
</g>
<g>
<rect x="125.00" y="401.38" width="775.00" height="117.24" fill="#fff"/>
<clipPath id="c2"><rect x="125.00" y="401.38" width="775.00" height="117.24"/></clipPath>
<path clip-path="url(#c2)" d="M160.2 492.6L160.3 492.8 160.6 465.7 160.7 473.3 160.7 473.2 160.8 498 160.9 464.2 161.2 469 161.3 471.9 161.5 466.8 161.6 490.7 161.7 470.1 161.7 487.8 161.8 489.8 162.1 465.6 162.2 467.2 162.2 472.6 162.3 497.1 162.6 467.2 162.7 477.3 162.7 475.9 162.9 464.9 163.1 494.3 163.2 490.8 163.2 489.3 163.5 470.9 163.6 496.5 163.7 475.7 163.8 494.4 163.8 473.1 163.9 504.5 164.2 491.1 164.2 492 164.4 498.5 164.5 473.2 164.7 495.7 164.8 491.5 164.8 502 164.9 481 165.2 484.7 165.2 496.2 165.5 496.7 165.6 470 165.7 493.2 165.7 479.4 165.8 467.3 166.2 500.5 166.2 490.1 166.3 481.4 166.3 506.6 166.7 482.9 166.7 487.7 167 477.8 167.1 505.6 167.2 497 167.3 488.2 167.5 505.5 167.6 471.6 167.7 490.6 167.7 484.3 167.9 497.1 168.2 470.3 168.2 489.2 168.3 490.6 168.3 468.3 168.7 501.9 168.7 486.5 168.7 498.7 168.8 501.1 169.2 476.7 169.2 477.6 169.2 501.6 169.4 502.1 169.6 471.5 169.7 475.8 169.7 490.9 169.8 495.8 170 470.9 170.2 488.5 170.2 483.5 170.3 499.4 170.7 466.4 170.8 477.3 171.1 494.7 171.2 458.4 171.2 474.1 171.3 488 171.6 446.8 171.7 481.2 171.7 471 172.1 493 172.1 448.8 172.2 484.1 172.2 461.9 172.4 446.2 172.6 485.3 172.7 471.7 172.7 465.5 172.9 460.7 173.2 486.7 173.2 468.3 173.3 465.1 173.3 497.1 173.4 457.5 173.7 479 173.7 474.5 173.8 462.1 174 491.9 174.2 467.8 174.3 469.4 174.4 499.5 174.7 493.3 174.7 487.9 174.9 498.1 175.1 466.2 175.2 479.4 175.2 483.2 175.5 459.7 175.6 490.8 175.7 474.4 175.7 486 176.2 476.5 176.2 501 176.2 500.2 176.5 467.7 176.7 472.2 176.8 474.7 176.8 489.4 176.9 460.9 177.2 483.7 177.2 479.1 177.4 471.4 177.5 493.8 177.7 477.8 177.8 484.9 177.9 499.4 178.2 474.7 178.2 478.2 178.5 476.6 178.7 501 178.7 482.8 178.7 500.3 178.8 504.8 179 475.4 179.2 498.1 179.2 499.2 179.7 470.3 179.7 477.5 179.7 464.7 180.2 496.9 180.3 479.3 180.5 472.6 180.6 499.1 180.7 484 180.7 477.6 181.1 487.1 181.1 460.1 181.2 483.5 181.2 471.6 181.5 460.7 181.6 491.6 181.7 491.4 181.7 476.9 181.8 488.9 182 451.8 182.2 473.1 182.2 492.9 182.5 447.2 182.7 480.1 182.7 459.4 182.8 481.7 182.9 440.2 183.2 468.5 183.2 450.6 183.4 479.9 183.5 436 183.7 470.5 183.8 478.9 183.9 486 184.2 448.8 184.2 464.6 184.4 458.9 184.7 484.3 184.7 454.3 184.8 485 184.9 452 185.2 463.2 185.2 455.1 185.6 490.9 185.7 478.3 185.7 492 186.1 466.2 186.2 484.6 186.3 490.6 186.5 495.3 186.7 471.1 186.7 478.5 186.7 500.7 187.2 468.1 187.2 484.9 187.3 484 187.4 494.3 187.6 468 187.7 484 187.7 481.2 187.8 464.5 187.9 494.2 188.2 483.1 188.2 472.7 188.5 469.4 188.7 491.7 188.7 491.8 189 501.3 189.2 478.3 189.2 480 189.2 495.8 189.4 499.9 189.5 473.8 189.7 488.9 189.8 476.8 189.9 473 190.1 504.6 190.2 482.9 190.2 498.2 190.5 500.8 190.5 474.5 190.7 476.6 190.8 482.7 190.8 501.6 190.9 475.5 191.2 484.1 191.2 488.7 191.4 505.8 191.6 472.8 191.7 478.6 191.7 470.5 191.9 487.6 192.2 459.1 192.2 466.5 192.2 463.1 192.3 455.7 192.6 489 192.7 485.5 192.7 482.7 193 489.6 193 464.7 193.2 482.7 193.3 469.4 193.3 484.8 193.6 457.8 193.7 466 193.7 483.4 193.9 483.9 194.2 451.3 194.2 473.6 194.2 467.9 194.3 457.1 194.3 481.3 194.7 472.6 194.7 468 194.8 494.1 194.9 461.9 195.2 486.3 195.2 478.1 195.5 461.4 195.7 480.2 195.7 482.7 195.8 460.6 196.1 498.9 196.2 483 196.2 489 196.4 460.1 196.7 478.1 196.8 484.9 196.9 455.6 197.2 475.5 197.2 485.5 197.4 499.1 197.4 463.9 197.7 473.9 197.7 491.2 197.8 469.5 198.1 507 198.2 486.9 198.2 495.3 198.3 474.8 198.6 502.3 198.7 494 198.7 488.1 199.1 471.3 199.2 501.3 199.2 482.8 199.3 492.7 199.5 473.5 199.6 501.4 199.7 480.9 199.7 498.5 200.1 475.7 200.1 507 200.2 494.5 200.3 488.1 200.5 499.7 200.7 476.4 200.7 479.4 200.9 472.3 200.9 503.2 201.2 493.6 201.2 479.5 201.5 502.9 201.7 478.1 201.7 486.8 201.7 498.2 201.8 474 202 502.2 202.2 482.2 202.2 488 202.3 471.7 202.6 494.5 202.7 493.3 202.8 486.8 203.1 497.8 203.2 471.3 203.2 491.3 203.2 488 203.3 492.1 203.6 471.2 203.7 472.2 203.8 484.7 204 455.6 204.1 493 204.2 467.2 204.2 468.9 204.5 478 204.6 439.2 204.7 452.6 204.7 451.6 205.1 430.3 205.2 469.6 205.2 447.4 205.3 441.6 205.6 475.7 205.7 445.8 205.7 454.6 205.8 443.7 206.1 477.2 206.2 473.4 206.3 467.2 206.3 490.8 206.4 452.7 206.7 476.6 206.7 475.2 206.9 459.4 207 493 207.2 467.9 207.2 485.1 207.3 485.8 207.6 445.7 207.7 461.2 207.7 450 207.8 446.4 208 479.8 208.2 476.6 208.2 476.6 208.3 494.4 208.4 474.9 208.7 492.6 208.8 482.4 209.1 472.8 209.2 494.2 209.2 479.8 209.2 480.1 209.5 469.3 209.6 501.3 209.7 494.7 209.8 474 209.8 499.4 210.2 473.1 210.2 475.1 210.3 473.9 210.4 505.6 210.7 477.7 210.7 485.8 210.8 473.9 211 500 211.2 496.2 211.2 486.5 211.5 497.8 211.7 468.3 211.7 479.6 211.7 469 211.9 459.9 212.1 491.8 212.2 469.6 212.3 487.4 212.3 480.4 212.4 498.6 212.7 495.3 212.7 489.1 212.8 501 213.1 468.9 213.2 494 213.3 476.1 213.6 502.7 213.7 486.5 213.7 488.1 214 479.6 214 502.7 214.2 491.3 214.2 485.6 214.3 498.3 214.7 462.5 214.7 491.1 215.2 456.7 215.2 472.8 215.2 481.7 215.4 454.5 215.7 461.9 215.8 450.7 216.1 447.7 216.2 477.5 216.2 443.6 216.5 481.4 216.6 438.6 216.7 473 216.8 469.2 216.8 482.3 217.1 453.2 217.2 466.3 217.2 468.7 217.4 456.1 217.4 487.6 217.7 471.6 217.7 465.4 217.9 462.7 218.1 485.4 218.2 474 218.2 466.8 218.3 462.7 218.5 494.6 218.7 468 218.7 492.8 218.9 470.1 219.1 497.4 219.2 491 219.3 479.2 219.5 495.6 219.6 470.8 219.7 487.7 219.7 492.1 219.9 468.6 220 493.8 220.2 486.7 220.2 493.4 220.5 467.5 220.6 497.6 220.7 493.6 220.7 486.1 220.8 470.6 221.1 499.3 221.2 475.9 221.2 476.3 221.5 497.7 221.5 472.1 221.7 479.4 221.8 494.8 221.8 503.7 222.2 474.8 222.2 493.3 222.5 494.3 222.7 471.5 222.7 478.9 222.8 469.1 222.9 484.1 223.1 460.7 223.2 477.6 223.2 469.6 223.7 496.2 223.7 467.5 223.7 482.6 223.9 496.7 223.9 465.9 224.2 488.5 224.2 491.8 224.3 500.2 224.7 463.4 224.7 472.2 225.1 454.8 225.1 486.3 225.2 477.8 225.3 489.7 225.6 460.3 225.7 464.3 225.7 480.3 225.8 485.5 226.1 452.7 226.2 478.2 226.3 470.1 226.4 481.7 226.5 446.7 226.7 470.5 226.7 470 226.9 472.8 226.9 449.4 227.2 463.1 227.2 467.7 227.5 481.1 227.5 440 227.7 448 227.7 459.8 227.9 475.4 228.1 444.2 228.2 450 228.2 471.1 228.4 475.4 228.5 438.8 228.7 468.8 228.8 453.2 229 447 229 474.2 229.2 472.5 229.2 462 229.3 490.8 229.5 457.5 229.7 480.1 229.7 453.5 230.1 482.1 230.2 469.5 230.2 469.3 230.3 464.1 230.5 494.1 230.7 488.3 230.7 486.2 231 505.9 231.1 473.7 231.2 495.1 231.2 475.3 231.6 496.9 231.6 466.6 231.7 492.2 231.7 478.5 231.9 472.3 232.1 499.8 232.2 489.6 232.3 491.6 232.3 472.7 232.6 501.7 232.7 497.7 232.7 485.5 232.9 472 233.1 499.6 233.2 492.3 233.2 496.8 233.3 472 233.5 497.6 233.7 490.8 233.7 482.2 234 505.3 234.2 475.3 234.2 493.3 234.2 481.9 234.3 475.6 234.3 500 234.7 484.3 234.8 493.1 235.1 473.8 235.2 496.8 235.2 481.6 235.2 492.9 235.3 469.3 235.7 484.7 235.8 486.1 235.8 498.8 236 469.2 236.2 484.6 236.2 489.7 236.6 452.3 236.7 460.1 236.7 448.5 237 482.7 237.2 435.4 237.2 472.2 237.7 424.4 237.7 431.9 237.8 431.1 238 470.8 238.2 445.5 238.3 455.7 238.4 475.4 238.7 429.4 238.7 443.4 238.7 449.7 238.8 432 239 484.7 239.2 472.4 239.3 453.3 239.5 440.7 239.7 466.3 239.7 457.4 239.7 468.4 240.2 435.3 240.2 457.6 240.2 452.7 240.3 440.6 240.7 482.5 240.7 466.1 240.8 452.3 241.1 486.2 241.2 471.7 241.2 468.3 241.4 497.7 241.7 465.8 241.7 486.3 241.8 478.3 241.8 472.2 241.9 499.9 242.2 487.8 242.2 498 242.4 500.3 242.7 472.2 242.7 472.9 242.9 498.9 243.2 484.5 243.2 475.5 243.5 471.2 243.6 506 243.7 488.1 243.7 493.7 243.8 502.2 244.1 470.4 244.2 472.1 244.2 474.9 244.3 498.4 244.4 466.6 244.7 476.9 244.7 482.7 245.1 498.5 245.1 471.3 245.2 496.6 245.3 486.2 245.6 479.5 245.6 503.7 245.7 498.6 245.7 481.7 246 477.2 246.1 500.4 246.2 496.2 246.2 498.8 246.4 473.2 246.6 501.4 246.7 496.6 246.7 481.1 246.8 500.1 246.9 473.2 247.2 491.3 247.2 485.1 247.4 486.9 247.6 460.9 247.7 479.6 247.8 470.7 247.9 457.5 248 487.4 248.2 468.9 248.2 471.5 248.5 476.4 248.7 437.5 248.7 454.2 248.8 439.7 249 475.1 249.1 431.6 249.2 450.4 249.2 449.8 249.4 425.2 249.7 471.4 249.7 441.2 249.7 445.4 249.8 437.4 250.2 492.3 250.2 472.1 250.2 458.4 250.3 454.2 250.6 496.7 250.7 486.6 250.7 472.8 250.9 459.3 251.2 493.6 251.2 484.1 251.3 487.9 251.3 463.4 251.4 497 251.7 486.5 251.7 486.2 251.8 498.5 251.8 471 252.2 486.8 252.3 490 252.3 497.5 252.5 468.6 252.7 470.1 252.7 478.3 252.8 471.7 253 503.9 253.2 478.7 253.2 474.7 253.6 507.8 253.7 483.7 253.7 486.5 253.8 502.6 253.8 479.1 254.2 497.8 254.2 503.3 254.6 465.5 254.7 487.2 254.8 479.5 255 485.4 255.1 461.3 255.2 467.4 255.2 476.2 255.3 463.3 255.4 492.8 255.7 487.7 255.7 491.1 255.9 504.8 256.1 477.7 256.2 481.2 256.2 491.4 256.4 505.6 256.4 479.2 256.7 505.5 256.7 482.3 256.9 477.5 257 505.5 257.2 483.6 257.3 481.4 257.4 502.2 257.4 477.7 257.7 488.7 257.7 486.4 257.8 479 258.2 505.5 258.2 498.9 258.3 477 258.3 497 258.5 466.2 258.7 496.5 258.7 467.5 258.8 491.9 259.1 451.7 259.2 453.2 259.2 473.5 259.4 458.7 259.5 478.7 259.7 460.2 259.7 472.3 260 463.2 260 494.7 260.2 478.8 260.2 470.2 260.5 457.8 260.7 497 260.8 456.9 260.8 486.8 261.2 479.3 261.2 464.5 261.6 459.8 261.7 486.7 261.7 466.4 261.8 465.2 261.8 458.1 262.1 488.9 262.2 466.8 262.2 484.1 262.3 454.1 262.7 498.7 262.7 486.2 262.7 488.6 262.8 468 263.1 500.6 263.2 485.4 263.2 489.6 263.3 467.6 263.4 498.6 263.7 477.2 263.7 486.3 263.8 470.8 263.9 493.6 264.2 480.6 264.3 485.7 264.5 476.5 264.6 507.3 264.7 491.9 264.7 478.7 264.9 474.4 264.9 500.2 265.2 478.4 265.3 480.6 265.4 501.3 265.7 472.5 265.7 484.5 266 504.7 266.1 476.2 266.2 477.8 266.2 489.5 266.5 477 266.7 503.6 266.7 487.4 267 476.3 267.2 501 267.2 487.3 267.4 496.2 267.6 468.7 267.7 488 267.8 473.4 267.8 463 268 494.7 268.2 474 268.2 486.9 268.4 474 268.6 503.1 268.7 483.9 268.7 496.1 268.8 502.3 269 469.1 269.2 483.1 269.2 472.4 269.4 499.7 269.7 477 269.7 469.9 269.9 492.3 270.1 451.8 270.2 460.8 270.3 459.9 270.3 474.9 270.4 437.9 270.7 451.2 270.7 450.8 270.8 435.5 271.2 490.8 271.2 458.7 271.3 437.6 271.6 429.2 271.7 453.3 271.7 439.4 271.8 416.5 272.2 469 272.2 447.3 272.2 456.3 272.3 471.2 272.4 440.3 272.7 450.3 272.7 478.7 272.8 489.3 272.9 455.5 273.2 472 273.2 462.1 273.3 485.5 273.5 458.6 273.7 469.1 273.8 472 273.8 455.2 274 493.3 274.2 471.1 274.2 476.2 274.3 494.4 274.6 463.2 274.7 474.2 274.8 486.2 274.9 463.4 275.2 493.5 275.2 474.1 275.3 503.4 275.5 470.8 275.7 485.4 275.7 482.9 275.8 471.4 276 499.4 276.2 499.4 276.2 498 276.5 501.6 276.5 477.1 276.7 482.9 276.7 487.8 276.8 476.5 276.9 502 277.2 496.1 277.3 499.4 277.4 472.8 277.6 501.8 277.7 475.2 277.7 488.7 277.9 499.3 278.1 478.2 278.2 489.4 278.2 477.9 278.4 477.4 278.4 502.3 278.7 495.5 278.7 473 278.8 472.2 279 504.6 279.2 496.2 279.2 487.6 279.3 503.2 279.7 471.7 279.7 477.8 279.7 488.6 279.8 473.9 280.1 498.6 280.2 497.3 280.2 475.6 280.3 471.1 280.6 492.8 280.7 475 280.8 467.2 280.8 490.3 281 463 281.2 473.5 281.2 459.1 281.4 452 281.6 491.4 281.7 482.1 281.7 459.5 281.8 490.7 282.1 445.3 282.2 447.3 282.2 450.7 282.7 482.8 282.7 477.7 282.7 472.7 282.9 452.6 283.1 486.2 283.2 466.9 283.3 471.4 283.3 448.9 283.3 481 283.7 459.7 283.7 478.8 283.8 459.7 284 486.7 284.2 483.4 284.3 471.1 284.4 488.2 284.6 467.7 284.7 467.8 284.7 473.7 285.1 471.9 285.2 497.3 285.2 477.2 285.2 489.8 285.3 468.2 285.5 492.9 285.7 478.8 285.7 476.9 285.9 470 286.1 496.8 286.2 490.3 286.2 492.1 286.5 473.2 286.5 501.4 286.7 491.6 286.8 483.4 286.8 500.8 286.8 477.1 287.2 492 287.2 496.8 287.6 473.3 287.7 501.3 287.7 479.1 287.8 502.7 287.9 473.1 288.2 501.2 288.2 477.6 288.4 473.4 288.6 503.3 288.7 492.7 288.7 496 289.1 469.5 289.2 472.2 289.2 486.1 289.3 496.2 289.5 461.2 289.7 491 289.7 478.8 290.2 470 290.2 494 290.2 471.8 290.3 482.9 290.3 475.2 290.7 501.2 290.7 499.8 290.7 493.1 290.8 501.4 291.2 471.9 291.2 474.6 291.3 491.2 291.6 452.7 291.7 456.4 291.7 467.1 291.9 482.6 292.1 440.3 292.2 461.1 292.2 451.4 292.5 451.5 292.7 423.7 292.7 441.2 292.7 450.1 293 459.6 293.1 416.3 293.2 457.2 293.2 453.8 293.7 421.8 293.7 437.3 293.8 446.9 293.8 423.1 294.2 469.1 294.2 469.3 294.3 490.6 294.5 441.7 294.7 459.8 294.7 442.2 295 478.6 295.2 465 295.2 465.8 295.5 445.7 295.6 484.1 295.7 475.4 295.7 469.3 295.9 487.6 295.9 463.6 296.2 465.4 296.3 481.6 296.3 465.1 296.5 494.4 296.7 471.7 296.7 494.6 297.2 474.4 297.2 500.2 297.2 496.7 297.3 499.5 297.3 481.8 297.5 509.7 297.7 497.2 297.7 497.1 298 505.6 298.2 470.4 298.2 498.7 298.2 500.3 298.5 476.1 298.7 496.1 298.7 480.8 298.9 502.5 299.1 472.7 299.2 477.5 299.2 479.5 299.4 472.4 299.7 501.2 299.7 497.4 299.8 495.5 299.8 500.5 300.2 473.5 300.2 476.6 300.3 498.7 300.6 467.3 300.7 480.7 300.8 488.7 301.2 468.7 301.2 495.7 301.2 481.4 301.5 497.4 301.6 472.1 301.7 478.7 301.7 485.6 301.8 501.6 302 471.3 302.2 477.9 302.2 490.1 302.4 490.9 302.7 459.2 302.7 485.1 302.7 470 302.8 482.5 303 458.2 303.2 465.6 303.3 461.6 303.7 443.5 303.7 481.1 303.7 434.2 303.8 469.2 304.1 433.2 304.2 438.2 304.2 442.7 304.4 480.4 304.5 434.4 304.7 459.9 304.7 439.9 304.9 478.7 305.2 435.7 305.2 446.5 305.2 455.5 305.6 484.4 305.7 447.9 305.7 457.3 305.8 461 305.9 448.6 306.1 473.7 306.2 458.3 306.2 461.2 306.5 451.6 306.6 478.7 306.7 467.3 306.8 465.4 306.9 447.7 307.2 482.8 307.2 470.9 307.3 458.5 307.6 496 307.7 479.5 307.7 469.7 308.1 497.2 308.2 489 308.2 481.1 308.4 474.8 308.6 500.8 308.7 497.7 308.7 487.7 309 502.5 309.1 477.6 309.2 500.6 309.3 502.8 309.6 505.1 309.7 481.3 309.7 499.5 309.7 496.3 309.8 507.3 310.2 476.9 310.2 498.2 310.3 476.4 310.4 498.7 310.5 473.7 310.7 492.8 310.7 475.7 311.2 502.4 311.2 492.3 311.2 491.8 311.3 477.5 311.5 499.6 311.7 482.1 311.7 495.1 312 505 312.2 479.9 312.2 486 312.2 496.2 312.6 479.4 312.6 508.4 312.7 488.6 312.8 497.3 312.8 505.8 313.1 476.4 313.2 481.5 313.2 490.5 313.3 501.3 313.7 462.7 313.7 488.6 314 460.2 314.2 477.7 314.2 466.9 314.3 485.2 314.4 450.1 314.7 453.9 314.7 466.3 315.2 473.1 315.2 440.4 315.2 468.3 315.5 433.6 315.7 454.3 315.7 439.2 316.2 458.8 316.2 423.6 316.3 426.7 316.6 482.4 316.7 449.4 316.7 455 316.8 487.6 317 451.7 317.2 469.9 317.2 461.1 317.5 491.2 317.7 471.1 317.7 483.6 317.8 472.4 318.2 504.2 318.2 483.5 318.2 481.5 318.5 475.8 318.6 503 318.7 481.7 318.8 501.2 319 474.2 319.2 499.6 319.2 498.8 319.3 501.9 319.4 478.1 319.7 497.7 319.8 502.2 319.8 506.5 320.1 476.8 320.2 497 320.2 502.8 320.4 504.3 320.5 481.1 320.7 498.8 320.7 494.3 321 476.6 321.2 505.3 321.2 482.3 321.2 495.3 321.6 477.3 321.6 501.6 321.7 478.9 321.7 476.5 322 502.9 322.2 497 322.3 490.9 322.3 506.7 322.5 477.8 322.7 495.3 322.7 475.7 323.1 505.7 323.2 486.6 323.3 494.6 323.4 474.4 323.7 498.8 323.7 482.1 323.8 506.5 323.9 473.2 324.2 491.4 324.2 499.3 324.3 499.6 324.4 469.6 324.7 489.5 324.7 474.8 324.9 470.1 325 497.6 325.2 491.8 325.2 479.6 325.4 487.1 325.5 455.1 325.7 474.9 325.8 489.4 326.2 451.4 326.2 478 326.7 491.2 326.7 455.7 326.7 463 327 495.7 327.1 455.5 327.2 456.9 327.2 484.5 327.4 456.7 327.7 481.7 327.7 478.5 327.8 458.7 327.9 493.4 328.2 465.7 328.2 472.3 328.3 467.2 328.7 490.1 328.7 479.9 328.8 466 329.2 495.6 329.3 492.9 329.4 465.4 329.6 496 329.7 480.8 329.7 479.1 329.9 501.2 329.9 475.6 330.2 500 330.2 478.6 330.6 474.5 330.6 499.3 330.7 477.7 330.7 488.9 330.9 473.8 331 498 331.2 486.5 331.2 494.6 331.5 474.9 331.6 503.1 331.7 479.5 331.8 488.6 331.9 497.4 332 474.8 332.2 490 332.2 494.1 332.6 468.3 332.7 506.6 332.7 483.6 332.8 496.7 333.1 502.5 333.2 475.5 333.2 494.8 333.3 499.5 333.5 476.6 333.7 498.1 333.7 497.4 334 470.4 334.2 480.1 334.2 492.9 334.5 498.7 334.6 466.7 334.7 497.6 334.7 484.6 335 473.7 335.2 494.9 335.2 475.9 335.3 483.4 335.4 498.2 335.7 460.5 335.7 472.2 335.9 457.3 336.2 484.2 336.2 460 336.3 475.6 336.3 453.5 336.6 482.5 336.7 464.2 336.7 473.8 336.9 447 337.2 469.3 337.2 471.4 337.7 427.6 337.7 463.3 337.8 469.9 337.9 439.8 338.2 454.2 338.2 452.8 338.5 448.4 338.6 471.8 338.7 464.7 338.8 476.1 338.8 485.1 339.2 452.1 339.2 487.3 339.3 455.9 339.6 496.1 339.7 484.9 339.7 487.3 339.8 465.2 340 494.9 340.2 488.9 340.2 488.5 340.4 467 340.5 505.7 340.7 483.6 340.7 490 340.8 498.7 341 470.2 341.2 484.5 341.3 502.3 341.7 477.7 341.7 496.6 341.8 473.9 342.2 501.3 342.2 496.3 342.3 485.4 342.3 501.5 342.5 475.4 342.7 485.7 342.7 481.6 343 474.3 343.2 497.7 343.2 483.5 343.2 485.2 343.5 474.7 343.6 498.1 343.7 487.6 343.7 479.3 343.8 475.8 343.9 499.1 344.2 485.7 344.2 479.1 344.3 473.9 344.4 491.1 344.7 491 344.8 496.3 344.9 502.7 345.2 464.6 345.2 466.5 345.3 497.9 345.6 466 345.7 486.3 345.8 480.1 345.8 490.5 345.9 465.8 346.2 485.9 346.2 473.6 346.4 467.6 346.5 497.7 346.7 482.5 346.7 489.8 347.1 453.9 347.2 459.1 347.2 464 347.5 448.8 347.6 482.9 347.7 449.6 347.7 450.5 347.8 474.3 348 447.6 348.2 461.6 348.3 444.1 348.4 440 348.7 467.2 348.7 446.3 348.9 477.8 349 445.1 349.2 469.5 349.3 461.6 349.6 448.6 349.7 483.8 349.7 465.6 349.7 476.7 349.8 454.8 350.2 487.7 350.2 472 350.2 471.9 350.4 465.1 350.4 492.2 350.7 468.8 350.7 493.8 351 497 351 469.1 351.2 472.7 351.2 470.7 351.4 469.2 351.5 500.7 351.7 471.5 351.8 492 352.1 497.4 352.2 467.4 352.2 488.7 352.4 500.5 352.7 474.2 352.7 482.4 352.7 475.2 353.1 502 353.2 498.5 353.2 482.6 353.4 476 353.5 505.8 353.7 478.8 353.7 486.5 354 501.4 354.1 475.3 354.2 481.3 354.3 480.8 354.3 473 354.5 503.4 354.7 484.8 354.7 476.8 354.8 475.8 355.1 507.4 355.2 485.9 355.3 481.8 355.5 503.3 355.7 501.1 355.7 490.6 355.9 508.3 356 476 356.2 482.6 356.2 493.8 356.3 506.8 356.6 471.2 356.7 478.6 356.7 500.8 357.1 470.2 357.2 485.6 357.2 475.2 357.3 498.4 357.5 465.6 357.7 477.1 357.8 494.6 357.8 497.1 358 463.7 358.2 471.4 358.2 477.2 358.4 452.9 358.7 486.1 358.7 470.9 358.8 449.5 359 481.5 359.2 472.6 359.2 489.4 359.5 446.6 359.6 490.3 359.7 470.4 359.7 468.4 360.1 447.3 360.2 486.1 360.2 463.5 360.2 463.9 360.3 498.2 360.4 452.4 360.7 490.7 360.7 473.6 360.8 455.6 361.1 491.4 361.2 484.7 361.3 483.6 361.3 462.8 361.7 498.2 361.7 468 361.9 490.5 362 464.7 362.2 471.3 362.2 483.2 362.4 468.2 362.7 493.2 362.7 472.3 362.7 485 362.9 477.8 363.2 505.9 363.2 492.5 363.2 492.6 363.5 503.1 363.7 474.2 363.7 484.8 363.7 487.9 364 500 364.2 479.8 364.2 505.5 364.6 481.2 364.6 507.7 364.7 493 364.8 484.5 364.8 502.7 365.2 481.3 365.2 495.5 365.2 504.6 365.7 468.1 365.7 482.4 365.8 465.1 366.1 500.6 366.2 498.9 366.2 474.7 366.5 474.2 366.6 506.5 366.7 493 366.7 485.4 367.1 478.7 367.1 504.6 367.2 496.9 367.3 503.5 367.6 472.4 367.7 495 367.7 496.6 368.1 468 368.2 477.8 368.3 485.5 368.3 459.5 368.6 489.8 368.7 476.6 368.7 471.2 369 460.4 369.2 482.2 369.2 475.1 369.2 468.6 369.4 491.3 369.6 463.5 369.7 484.9 369.7 486.2 369.9 451.8 370.1 488.7 370.2 466.9 370.2 487.5 370.3 449.5 370.6 489.9 370.7 465.9 370.8 484.6 370.8 452.7 371 489.4 371.2 471.5 371.2 462.6 371.3 499.3 371.5 462.2 371.7 469.3 371.8 474.9 371.8 459 371.9 494.1 372.2 469.3 372.2 483.2 372.4 462.7 372.5 496.5 372.7 485 372.7 483.1 372.8 468.6 373.1 500.1 373.2 495.1 373.2 481.1 373.3 466.2 373.6 498.5 373.7 493 373.7 505.3 374.1 477.9 374.2 483.7 374.3 492.6 374.6 498.5 374.6 475.8 374.7 489.3 374.7 483.5 375 478.8 375.2 508.6 375.2 495.8 375.5 476.2 375.7 490.2 375.7 503.6 375.8 504.5 376.2 467.6 376.2 484.7 376.4 475.1 376.6 504.5 376.7 501.3 376.7 494.5 377.1 467.1 377.2 493.5 377.2 486.5 377.4 461.7 377.6 488.7 377.7 477.5 377.8 486.7 377.8 475.8 378.2 503.4 378.2 482.3 378.2 476.5 378.4 508.5 378.7 485.9 378.7 495.2 378.9 503.1 378.9 474.1 379.2 478.9 379.2 479.9 379.3 505.8 379.7 474.3 379.7 487.7 379.7 488.8 379.8 496.5 380 469.6 380.2 472.3 380.3 486.1 380.3 466.9 380.4 494.1 380.7 469.3 380.7 482.7 381.1 454.4 381.2 461.2 381.3 444.9 381.5 478.9 381.7 458.3 381.7 474.6 381.8 460.4 382.1 490.4 382.2 465.6 382.2 472.3 382.4 453.8 382.6 497.6 382.7 480.5 382.7 490.3 382.8 467.5 383.2 470.6 383.2 484.4 383.5 469.7 383.6 497.1 383.7 478.1 383.8 486.6 383.8 491.6 384.1 462.9 384.2 473.4 384.2 478.3 384.3 466.1 384.5 486.8 384.7 467.2 384.8 470.7 385.1 497.9 385.2 473.6 385.2 495.5 385.6 503.9 385.7 475.3 385.7 481.8 385.7 487.7 386.1 480 386.2 504.5 386.2 492.8 386.3 477.3 386.4 504.2 386.7 486.6 386.7 504.6 386.9 506.8 387 480.7 387.2 486.4 387.3 478.7 387.6 477.5 387.6 500.2 387.7 486.1 387.7 489.7 387.9 473.2 388 503.8 388.2 487.4 388.2 487.6 388.4 477.6 388.7 504.3 388.7 498.6 388.7 500.8 388.8 477.6 389 504.6 389.2 491 389.2 487 389.3 476 389.4 506.2 389.7 491.3 389.8 479.2 390.1 503.5 390.2 475.6 390.2 467.7 390.3 498.5 390.7 460.6 390.8 478.8 390.9 465.4 391.1 492.3 391.2 482.5 391.2 469.1 391.5 484.2 391.7 454.3 391.7 464.1 391.9 476.6 392 443.3 392.2 453.2 392.2 449.5 392.4 445.4 392.4 471.5 392.7 463.8 392.7 462.7 393 445.8 393.1 480.9 393.2 465.5 393.3 471.2 393.5 475.4 393.7 447.9 393.7 453.3 393.7 461.4 394 455.6 394.2 483 394.2 465.7 394.3 488 394.4 462.7 394.7 465.1 394.7 485.2 395.1 469.8 395.2 492.1 395.2 492.7 395.3 496 395.3 469.2 395.7 485 395.7 476.6 395.8 499.7 396.1 474.2 396.2 481.1 396.2 483 396.3 473.1 396.7 501.5 396.7 490.5 396.8 481.3 396.9 471.9 397.1 500.6 397.2 495.2 397.2 486.3 397.3 473.7 397.6 500.5 397.7 478.4 397.8 501.8 397.8 502.9 398 475.3 398.2 483.4 398.2 474.7 398.4 473.6 398.6 500.2 398.7 495.9 398.7 503.4 398.9 504.7 399 475.2 399.2 487.2 399.2 489.3 399.3 479.1 399.6 505.5 399.7 480.9 399.7 479.3 400 476 400.2 501 400.2 480.2 400.3 489.6 400.4 498.1 400.7 467.5 400.7 472.7 400.7 471.7 400.8 475 400.9 457.4 401.2 469 401.2 488.3 401.3 456.6 401.6 494.5 401.7 476.2 401.7 471.3 401.8 488.3 402.2 455.7 402.2 480.8 402.2 477.3 402.3 487.8 402.7 445.2 402.8 443.5 402.9 474.2 403.2 437.1 403.2 466.4 403.4 476.7 403.5 443.9 403.7 445.4 403.8 476.5 403.8 442.5 404.2 465.2 404.2 444.6 404.4 440.6 404.4 480.1 404.7 474.1 404.7 459.8 405 493.5 405.1 459 405.2 461.1 405.2 455.2 405.6 487.7 405.7 461.9 405.7 485 405.9 485.3 406 460.7 406.2 473.4 406.3 474 406.3 469.1 406.7 498.5 406.7 482.8 406.7 474.1 406.8 493.4 407.2 473 407.3 491.9 407.3 493.7 407.4 465.3 407.7 483 407.7 491.7 407.9 470.6 408 497.1 408.2 491.4 408.2 495 408.3 499.3 408.4 472.8 408.7 477 408.7 475.3 409 467.8 409.2 496.8 409.2 489.8 409.2 482.3 409.6 498.5 409.7 473.8 409.7 489.3 409.8 470.6 409.8 496.7 410.2 474.9 410.2 481.9 410.4 464.1 410.5 499.1 410.7 486.8 410.7 474.5 410.8 470.5 411 498.3 411.2 486.7 411.2 488.4 411.5 496.1 411.5 474.6 411.7 482 411.7 470.2 412.1 457.8 412.2 483.2 412.2 473.6 412.2 481.4 412.3 490.6 412.4 465.5 412.7 475.3 412.7 472.4 412.9 459.5 413 482.1 413.2 474.3 413.3 481.2 413.6 447.2 413.7 454 413.7 445.7 413.8 468.6 414 435.7 414.2 446.4 414.2 444.7 414.3 472.4 414.5 441.7 414.7 464.4 414.7 472.5 414.8 481.6 415 440.7 415.2 463.1 415.2 452.4 415.3 448.6 415.7 484.2 415.7 467 415.8 454.1 415.8 450.9 415.9 480.3 416.2 476.6 416.2 463.1 416.4 454.7 416.5 485.9 416.7 473.8 416.8 483.9 417 459.4 417.2 495.1 417.2 474.5 417.2 489.3 417.4 462.6 417.5 491.6 417.7 483.6 417.7 473.1 417.8 468.7 418.1 489.4 418.2 471.6 418.2 495 418.4 496.4 418.7 463.2 418.7 467.8 418.9 487.4 419.1 454.6 419.2 467.8 419.3 483.5 419.5 492.8 419.6 463.1 419.7 483 419.7 491.8 419.9 495.9 420 468.1 420.2 469.5 420.3 473.5 420.4 492 420.7 470.8 420.7 473.6 421.2 497.4 421.2 480 421.2 474.3 421.3 467.6 421.6 497.8 421.7 491.9 421.7 484 421.8 490 422.1 460.9 422.2 464 422.2 457 422.6 488 422.7 485.2 422.8 484.3 423.1 493.5 423.2 464.6 423.2 474 423.5 461.4 423.7 492.3 423.7 466.7 423.7 485.3 424.1 487.9 424.2 464.3 424.2 475.2 424.2 463.9 424.4 484.7 424.7 455.4 424.7 481.6 424.7 461.8 424.9 451.2 425 483.1 425.2 457 425.2 473.7 425.3 450.5 425.6 478.8 425.7 474.7 425.7 471.4 425.8 481.4 426 453.7 426.2 466.2 426.3 470 426.3 447.7 426.5 487.5 426.7 462.1 426.7 481.8 426.8 452.8 427.2 489.7 427.2 475.8 427.3 487.2 427.5 459.2 427.7 466.7 427.7 488.5 427.8 490.5 428.1 466.6 428.2 480.1 428.2 492.2 428.4 495.5 428.7 468.7 428.8 477.6 428.9 469.8 428.9 497.4 429.2 478.5 429.2 475 429.4 499.3 429.7 470.6 429.8 479.7 429.9 493.8 430.1 466.4 430.2 484.4 430.2 479.1 430.7 452 430.7 472.8 430.7 469.6 431 459.4 431.1 488.4 431.2 484.3 431.2 479.1 431.5 496.9 431.7 464.1 431.7 470.2 431.7 481 432 477.1 432.1 500.6 432.2 494.2 432.3 475.9 432.5 496.9 432.7 469.2 432.7 473.5 432.7 489.1 432.9 491.7 433.2 467 433.2 488.4 433.3 494.1 433.7 457.2 433.7 473.9 433.7 470.6 433.9 463.7 434.1 490.3 434.2 466 434.2 475.5 434.5 494 434.6 470.1 434.7 473.4 434.7 488.6 434.9 455.9 435.2 464.2 435.2 475 435.3 489.3 435.7 447 435.8 451.9 435.8 485.9 436.1 436.8 436.2 441.7 436.2 453 436.4 435.6 436.7 474.4 436.7 473.8 436.7 455.5 436.9 464.1 437.1 440.3 437.2 454.6 437.2 453.1 437.3 450.3 437.4 478.9 437.7 468.9 437.7 462.3 437.8 484.4 438.2 446.3 438.2 470 438.3 457.8 438.5 451.1 438.6 479.4 438.7 467.8 438.7 489.8 438.9 462.9 439.2 493.2 439.2 490 439.3 492.2 439.7 463.8 439.7 467.3 439.7 466.3 439.9 476.6 440.1 453.5 440.2 472.4 440.2 478.9 440.3 453.4 440.6 492.9 440.7 488.4 440.7 480.9 440.8 468.3 441 498.1 441.2 491.8 441.2 475.1 441.6 497.6 441.7 486.4 441.8 488.3 441.8 493.4 442.2 463.6 442.2 474.5 442.3 472.3 442.5 496.2 442.7 492.2 442.8 481 442.8 469.8 443.2 505.5 443.2 477.7 443.2 486 443.4 473.9 443.6 498.5 443.7 491.2 443.7 495.7 443.8 496.1 444.2 462.9 444.2 486.3 444.3 492.4 444.5 463.8 444.7 473.3 444.7 479.6 444.9 468.6 445 496.1 445.2 475.7 445.3 493.8 445.3 466.9 445.6 499.4 445.7 479.6 445.7 468.4 445.9 465.5 446.1 492.5 446.2 472.3 446.2 466.6 446.3 486.4 446.6 453.7 446.7 475.6 446.7 473.5 446.9 453.8 447 493 447.2 475.8 447.2 472.9 447.3 474.9 447.5 445.9 447.7 472.9 447.7 453.7 448 477.6 448.1 444.2 448.2 458.7 448.2 462.9 448.5 454 448.5 484.5 448.7 456.3 448.8 454.4 448.8 474.2 449.2 443.9 449.2 464.2 449.2 450.2 449.4 444 449.6 475.7 449.7 460.8 449.7 468.6 450 458.4 450 490.4 450.2 464.5 450.2 493.7 450.7 499.4 450.7 466.2 450.7 469.3 450.8 468.9 451.1 499.4 451.2 478.7 451.3 487.5 451.4 499.1 451.7 470.2 451.7 474.6 451.7 493.8 451.8 475.4 451.9 503.5 452.2 501.7 452.3 499.7 452.4 468.4 452.4 500.2 452.7 476.3 452.7 474.1 452.8 473.1 453.2 496.4 453.2 481.4 453.2 499.2 453.6 502.4 453.7 472.8 453.7 492 453.7 484.6 453.8 470.8 454.1 505 454.2 474.4 454.2 488.6 454.4 499.8 454.4 477 454.7 488.6 454.8 485.1 454.8 495.3 455.1 457.1 455.2 471.6 455.2 489 455.4 461.5 455.7 497.4 455.8 470.9 456.2 495.8 456.2 490.3 456.2 491.7 456.3 472.5 456.6 498.8 456.7 485.2 456.7 483.9 457 462.8 457.2 485.8 457.2 476.6 457.2 481.2 457.3 483.6 457.7 457.9 457.7 470.6 457.9 450.4 458 488 458.2 457 458.3 459.2 458.5 439 458.7 481.2 458.7 462 459 443.9 459.1 481.5 459.2 446.7 459.2 450.5 459.7 481.3 459.7 458.9 460.1 487.6 460.2 452.6 460.2 459.5 460.4 490.1 460.7 471.8 460.7 482.3 461 464.8 461.1 489.5 461.2 474.6 461.2 469.9 461.4 465.1 461.7 496.7 461.7 484.4 461.8 467.7 462 498.4 462.2 481 462.2 492.4 462.4 495.3 462.4 471.9 462.7 491 462.7 471.6 462.8 469.1 463.1 495.8 463.2 483.1 463.2 495.4 463.6 473.1 463.7 503.3 463.7 480.3 463.7 478.2 463.8 469.2 464 498.8 464.2 479.9 464.3 479 464.3 498.1 464.6 470.2 464.7 484 464.7 476.2 464.8 459.2 465.2 483.8 465.2 480.3 465.3 469 465.4 467 465.7 492 465.7 481.1 465.7 485.3 465.9 468.1 466 500.8 466.2 485 466.2 471 466.3 499.7 466.5 470.4 466.7 482 466.7 485 467.1 470 467.2 494.4 467.2 474 467.2 471 467.6 463 467.7 495.3 467.7 485.2 467.8 466.2 467.8 488.1 468.1 462.1 468.2 472.9 468.2 460.7 468.4 486.7 468.5 453 468.7 477.9 468.8 475.9 469.1 448.7 469.2 481.5 469.2 467.4 469.3 446.4 469.4 487.5 469.7 476 469.7 452.3 470 475.1 470.2 444.9 470.2 478 470.4 450.3 470.7 472.9 470.7 485.4 470.9 460.6 471.2 467.8 471.3 458.9 471.6 495.2 471.7 457.6 471.7 484.3 471.7 454.9 471.8 484.1 472 450.3 472.2 464.7 472.2 468.2 472.3 450.4 472.5 477.8 472.7 470.1 472.7 481.4 472.9 485.8 473.1 460.8 473.2 463 473.2 456 473.7 492.3 473.8 485 474.1 498 474.2 476.7 474.2 482 474.2 481.3 474.3 495.8 474.6 469.1 474.7 479.7 474.8 485.8 474.9 499.9 475.1 467.1 475.2 478.7 475.2 489.4 475.3 470.7 475.5 496.9 475.7 495.8 475.7 487.5 475.8 498.4 476.1 473.5 476.2 483.5 476.2 484.6 476.3 473.8 476.6 500.5 476.7 490.3 476.7 478.9 476.8 503.6 477.2 470.3 477.2 475.8 477.3 470.9 477.4 498.1 477.6 470.7 477.7 497.6 477.7 471.5 478 503 478 471.3 478.2 488.1 478.3 483.1 478.6 495.3 478.7 468.2 478.7 489.8 479.2 454.9 479.2 464.2 479.2 448.1 479.3 442.6 479.6 469.9 479.7 456.7 479.7 445.8 479.8 474 480 441.5 480.2 467.3 480.2 460.5 480.3 480.6 480.7 439.2 480.7 475.7 480.8 444 481.1 427.1 481.2 478.6 481.2 452.4 481.2 440.5 481.5 425.2 481.6 462 481.7 452.1 481.8 453.6 482 483.1 482 452.8 482.2 460.6 482.2 460 482.5 487.2 482.6 454.1 482.7 457.8 482.7 463 482.8 458.3 483 483.5 483.2 470.8 483.2 477 483.4 458.7 483.7 493.4 483.7 482.3 483.7 472.3 483.8 497.2 484.2 476.2 484.3 479 484.6 495.8 484.6 469.3 484.7 486.4 484.7 480.3 484.8 472.7 484.9 498.5 485.2 488.8 485.2 470.7 485.3 494.8 485.6 469.3 485.7 471.2 485.7 479.7 485.8 473.9 485.9 500 486.2 480.5 486.2 486.3 486.3 471.2 486.7 504.4 486.7 475.4 486.8 487.4 486.8 498.6 487 472.5 487.2 497.1 487.2 488.6 487.6 475 487.7 505 487.7 481.3 487.8 477.4 488.1 468 488.1 500.4 488.2 482.1 488.2 473.7 488.3 471.3 488.4 502.3 488.7 496.8 488.7 499.4 489.1 473.6 489.2 486.5 489.2 480 489.4 498.7 489.7 463.8 489.7 469 489.7 460.2 489.9 492.1 490.2 454.3 490.2 468.8 490.3 458.6 490.4 467.2 490.7 437.6 490.7 423.9 490.9 420.9 491 460.8 491.2 437.2 491.3 431 491.5 473.8 491.5 421 491.7 468.4 491.7 464.8 492 422.9 492.1 465.8 492.2 444.8 492.2 446.5 492.3 476.9 492.7 437.3 492.7 470.7 492.7 459.5 493 440.5 493.1 478.8 493.2 466.2 493.2 474.7 493.4 452.6 493.6 485 493.7 469.1 493.8 476.3 493.8 458.1 494.2 488.5 494.2 470 494.3 460.8 494.6 497.4 494.7 465.6 494.7 487.8 494.9 493.4 495.2 465.7 495.2 478.5 495.2 467 495.4 488.2 495.5 464.8 495.7 482.1 495.7 462.1 496 461.8 496.1 489.2 496.2 478.8 496.2 475.8 496.3 471.3 496.5 497.5 496.7 497.5 496.7 497.1 496.9 475.6 497.2 497.9 497.3 480.6 497.3 500.6 497.6 465.7 497.7 478.9 497.7 468.8 497.8 462.3 498.2 492.6 498.2 492 498.2 481.4 498.5 475.5 498.7 500.1 498.7 495.1 498.8 474.9 499 501.6 499.2 487.8 499.2 501 499.5 475.3 499.7 496.9 499.8 484.2 500 498 500.2 466.4 500.2 483.8 500.2 469.7 500.3 486.2 500.5 456.3 500.7 458.9 500.8 477.2 501 489.9 501.1 450.4 501.2 469.4 501.2 485 501.4 457 501.7 475.3 501.7 475.4 502.1 481.2 502.2 439.9 502.2 455.8 502.2 450.9 502.5 428.8 502.6 463.3 502.7 454.5 502.7 438.5 502.8 436.9 503.1 485.5 503.2 466.4 503.3 442.7 503.3 460.9 503.7 440.8 503.7 445.4 504.1 472.7 504.2 456.2 504.3 460.7 504.4 453.6 504.6 485.7 504.7 466.3 504.7 484.5 504.8 458.1 505.1 489 505.2 480.8 505.2 484.8 505.6 490.8 505.6 468.1 505.7 489.2 505.7 485 505.8 467 506.2 491.9 506.2 472.4 506.2 469.4 506.3 494.9 506.7 453.3 506.7 466.6 506.8 467.8 506.8 450.6 507.1 491.1 507.2 484.8 507.2 479.4 507.5 487.9 507.7 464.4 507.7 470.8 507.7 460.3 508.1 457.7 508.1 488.7 508.2 479.5 508.2 455.5 508.7 490.2 508.7 488.3 508.7 475.6 508.8 472.4 509 492.2 509.2 473.3 509.2 481.2 509.5 493.4 509.6 466.4 509.7 473.9 509.7 477.1 510 492.6 510.2 467.3 510.2 476.8 510.3 468.4 510.6 497.2 510.7 480 510.7 472.8 510.8 496.8 511.1 464.9 511.2 465.2 511.2 461.6 511.7 491.1 511.7 480.6 511.7 483.5 512 485.4 512.2 455.6 512.2 463.9 512.2 477 512.4 445.3 512.7 480.8 512.7 461.2 512.8 463.8 513 481.1 513.1 429.5 513.2 453 513.2 436.7 513.3 416.7 513.5 447.9 513.7 419.1 513.8 429.9 514.1 464.3 514.2 441.4 514.2 444.6 514.4 436.1 514.6 476 514.7 475.7 514.7 445.5 515.2 475.8 515.2 470.6 515.2 443.4 515.5 486.3 515.7 463.3 515.7 460.3 515.9 454.3 516.2 476.7 516.3 472.6 516.3 459.3 516.3 482.7 516.7 471.6 516.7 472.4 517 463.4 517.1 494.1 517.2 481.2 517.3 481.1 517.3 460.7 517.5 489.6 517.7 482.2 517.7 465.8 517.8 490.4 518.2 469.2 518.2 485.2 518.4 493.5 518.6 462.7 518.7 480.6 518.7 476.3 518.9 497.7 519 465.9 519.2 487.5 519.2 497.8 519.7 465 519.8 489 520 491 520.1 464.1 520.2 470.5 520.2 471.1 520.3 465.2 520.5 496.8 520.7 496.7 520.7 472.4 520.9 496.2 521 465.9 521.2 471.5 521.2 495.6 521.7 470.5 521.7 488.2 521.7 493.8 522.1 463.5 522.2 488.7 522.3 474.4 522.4 459.1 522.5 486.3 522.7 482.7 522.7 454.5 523 481.3 523.2 443 523.3 456.9 523.3 477.7 523.7 429.2 523.7 441.2 523.7 430.6 523.9 451 524.1 415.2 524.2 430.7 524.2 418 524.4 455.2 524.7 416.5 524.7 421.4 524.9 407.2 525.2 451.5 525.2 413.8 525.5 411.2 525.6 459 525.7 424.8 525.8 418.3 526.1 462.7 526.2 444.1 526.2 480.9 526.5 438.2 526.7 468.2 526.8 474.3 526.9 449.8 527.2 456.3 527.2 468.3 527.3 490.6 527.6 458.3 527.7 479.1 527.7 485.9 528 463 528.2 490 528.2 476.8 528.3 469.9 528.7 493.2 528.7 473.1 528.7 472.9 529.1 465.5 529.2 492.8 529.2 492.1 529.3 474.1 529.3 464.9 529.7 494.2 529.7 481.6 529.8 491.7 530.1 469.9 530.2 482.5 530.3 473.9 530.3 470.7 530.7 494.4 530.7 479.5 530.7 484.7 530.9 468.6 530.9 494.3 531.2 482.5 531.2 469.4 531.5 501.1 531.7 482.7 531.7 474.3 531.8 471 532.1 497 532.2 474.9 532.2 498.6 532.3 468.4 532.7 484.7 532.8 477.2 532.8 471.1 533.1 494 533.2 488.4 533.2 470.8 533.3 494.4 533.6 464.2 533.7 479.2 533.7 465.5 534 492.9 534.2 454.2 534.2 473.4 534.3 460.6 534.7 484 534.7 480.1 534.7 468.5 535 449.3 535.1 481.5 535.2 468.1 535.3 467.6 535.6 479.9 535.7 441.1 535.7 462.3 535.7 460.4 535.8 481.6 536.1 445.8 536.2 468.5 536.3 456.9 536.3 456.3 536.6 486.6 536.7 468.2 536.7 478.8 536.8 450.5 537.2 484.7 537.2 463.5 537.4 452.9 537.7 486.7 537.7 469.3 537.8 453.9 538.2 491.9 538.2 486.4 538.6 468.3 538.6 493.3 538.7 472.6 538.8 485.7 538.9 465.3 539 495.6 539.2 472 539.2 492.9 539.3 499.6 539.4 471.9 539.7 482 539.8 489.6 539.9 472 540.2 500.4 540.2 487.2 540.3 500.4 540.5 469 540.7 480.3 540.7 485.4 540.9 470.2 541.1 502.3 541.2 473.4 541.2 490.9 541.3 492.6 541.4 466.4 541.7 488.7 541.7 477.2 541.8 466.9 542.1 492.8 542.2 478.7 542.3 487.9 542.3 494.8 542.4 466.7 542.7 489.2 542.7 491.9 543.1 466.2 543.2 490.8 543.2 472.2 543.3 497.7 543.5 462.4 543.7 483.7 543.7 467.3 544 497 544.2 485.9 544.2 479.8 544.4 467.5 544.7 495.9 544.7 480.1 544.8 497.1 544.9 466.1 545.2 487.7 545.2 482.6 545.3 491.1 545.6 449.4 545.7 483.8 545.8 453.6 546.1 479.6 546.1 444.6 546.2 452.2 546.2 458.8 546.3 445.2 546.4 473.9 546.7 456.2 546.7 453.4 546.8 471.2 547 443.3 547.2 464.2 547.2 462.7 547.5 480.2 547.7 450.5 547.7 478.3 548 480.3 548.1 448.3 548.2 450.7 548.3 480.6 548.4 457.9 548.6 485.7 548.7 471 548.7 482.7 548.8 464.4 549 496 549.2 470.3 549.3 478.8 549.3 494.2 549.6 465.1 549.7 479.5 549.7 475.1 550.1 465.7 550.2 493.7 550.2 491.9 550.2 466.4 550.5 494.7 550.7 478.9 550.7 494.8 551.1 468.7 551.2 484.5 551.2 471.2 551.3 493.6 551.7 470.6 551.8 488.4 551.8 499.1 552.2 466.6 552.2 487.4 552.2 470 552.7 495 552.7 475.1 552.8 493.3 552.9 493.3 553 464 553.2 472.6 553.2 487.6 553.6 457.9 553.7 482.5 553.7 468.3 553.9 494.4 554.2 490 554.2 477.2 554.5 495.8 554.6 469.7 554.7 490.8 554.7 475 554.8 491.5 554.8 466.1 555.2 491.4 555.3 475.7 555.5 464.6 555.7 493.4 555.7 477.1 556 495.8 556.1 462.8 556.2 480.9 556.2 454.2 556.3 483.2 556.7 445.8 556.7 461.8 557.1 425.5 557.2 437.2 557.2 445.1 557.3 438.2 557.5 479.7 557.7 456.1 557.7 460.3 558 472.9 558.1 428.5 558.2 455 558.2 436 558.6 480.3 558.7 462.5 558.8 460.8 559 479.4 559 448.9 559.2 457.8 559.2 474 559.5 452.4 559.6 481.4 559.7 466.4 559.7 474 560.1 485.9 560.2 455.9 560.2 461.5 560.3 458.1 560.7 491.2 560.7 482.3 560.7 485.3 560.8 458.5 560.9 489.9 561.2 484.4 561.3 476.8 561.6 456.3 561.6 481.3 561.7 461.3 561.7 457.2 562 484.8 562.2 465.8 562.3 467.4 562.3 493.5 562.6 462.8 562.7 467.7 562.7 453.2 563 480 563.2 476.4 563.2 468.7 563.5 460.8 563.6 483.1 563.7 467.6 563.7 478.6 564.2 461.2 564.2 490.5 564.2 489.2 564.3 495.3 564.5 464 564.7 480.4 564.8 486.3 564.8 487.6 565.1 465.1 565.2 477.5 565.2 487.3 565.3 494.3 565.4 466.3 565.7 487.3 565.8 478.7 565.8 465.6 566.2 495.3 566.2 472.5 566.4 488.3 566.6 465.6 566.7 470.3 566.7 473.3 566.8 476 567.2 447.6 567.2 466.2 567.6 437.5 567.7 467 567.7 468.9 567.8 444 568 476.7 568.2 454.9 568.3 452.2 568.5 486.3 568.7 440.3 568.7 463.6 568.8 480.3 569.2 451 569.2 467.1 569.2 441.8 569.6 475.5 569.7 472.6 569.7 470.6 569.9 479.8 570.1 446.7 570.2 471.6 570.2 476.3 570.4 458.2 570.5 480.7 570.7 463.5 570.8 465 570.9 445.8 571 477 571.2 475.6 571.2 450.7 571.6 483.9 571.7 476.3 571.8 476.1 571.9 462 572.1 492.1 572.2 486.3 572.2 490.8 572.4 491.4 572.7 466.2 572.7 488.9 572.7 473.4 572.9 489.6 573 458 573.2 481.6 573.2 485.9 573.3 464.3 573.5 492.9 573.7 481.9 573.7 475.6 574.2 461.7 574.2 487.9 574.3 481 574.4 487.1 574.5 462.5 574.7 464.6 574.7 484.7 575 493.3 575.1 460 575.2 485.9 575.3 467.9 575.6 462.7 575.7 493.3 575.7 477.8 575.7 491.4 576 464 576.2 491.6 576.2 490.7 576.5 464.2 576.7 476.5 576.7 489.1 576.8 460.1 577.2 476.8 577.2 471.8 577.4 494.7 577.7 463.9 577.8 485.9 578.1 455.3 578.2 471.2 578.2 453.9 578.3 488.3 578.6 441 578.7 466.7 578.8 448.4 578.9 435.6 579.1 470.5 579.2 436.1 579.2 443.1 579.4 422.7 579.7 459.3 579.7 434.8 579.7 445 579.8 433.9 580 465.5 580.2 450.9 580.2 441.5 580.3 464.8 580.7 419.8 580.7 437.5 580.7 431.1 580.8 414.7 581.2 462.3 581.2 462.1 581.3 451.9 581.3 438.2 581.4 472.6 581.7 468.6 581.7 454.9 581.9 444.9 581.9 479.4 582.2 458.6 582.2 451 582.4 438.8 582.7 473.3 582.7 466.6 582.9 469.4 583 446.1 583.2 452.3 583.2 461.3 583.4 476.3 583.7 444.8 583.8 452.4 584 469.5 584.1 443.7 584.2 450.7 584.2 449.6 584.6 487.5 584.7 484.3 584.8 471.8 584.8 457.3 585 492.4 585.2 483.7 585.2 477.2 585.6 491.1 585.7 465.7 585.7 484.9 585.9 491.9 586.1 464.7 586.2 488.6 586.2 465.3 586.4 488.6 586.5 459.5 586.7 474.8 586.7 487 586.9 488.4 587.1 461.1 587.2 486.8 587.3 479.4 587.3 483.7 587.7 448.8 587.7 475.3 587.7 461 587.8 445 588.2 477.5 588.2 449.7 588.3 467.9 588.3 448.6 588.7 485.8 588.7 476.5 588.7 453.9 588.9 482 589 453.9 589.2 466.4 589.2 467.5 589.5 469.7 589.6 439.9 589.7 465.2 589.7 439.6 590 473.1 590.2 428.7 590.2 436.9 590.2 425.5 590.4 470.7 590.7 441.8 590.8 461.8 591.1 434.8 591.1 474 591.2 440.2 591.2 440.2 591.5 461.4 591.6 436.5 591.7 453.6 591.7 467.8 592 441.1 592.2 459.7 592.2 455.4 592.3 473.4 592.4 435.4 592.7 465.4 592.7 465.6 593 450.1 593.2 474.8 593.2 472.1 593.2 457.4 593.6 484.3 593.7 467.3 593.7 465 594 489.1 594.1 461.8 594.2 485.9 594.3 489.6 594.7 459.4 594.7 459.5 594.7 468.9 594.9 467 595.2 494 595.2 490.4 595.6 491.5 595.6 462.1 595.7 475.6 595.7 489.2 595.9 461.8 596.2 484 596.2 474.2 596.3 490 596.5 468.7 596.7 471.4 596.8 486.4 596.8 487.5 597.1 456 597.2 465.9 597.2 471 597.5 452.7 597.7 478.7 597.7 466.5 597.8 468.2 597.8 461.7 598.2 494.8 598.2 466.9 598.2 483.9 598.4 486.7 598.6 461.3 598.7 472.3 598.7 477.9 598.9 462 599 489.9 599.2 466.6 599.2 467.9 599.4 462.3 599.5 490.4 599.7 485.8 599.7 474.6 599.9 484.6 600.2 451 600.3 477 600.3 490.2 600.6 455.2 600.7 468.9 600.7 481.3 600.8 483 601.2 435.5 601.2 452.6 601.3 438.3 601.3 425.9 601.5 455 601.7 442.3 601.7 425.3 601.9 418.4 601.9 459 602.2 442.4 602.2 454.1 602.3 422.2 602.6 459.8 602.7 448.6 602.7 464.9 603 440.5 603.2 475 603.2 463.8 603.4 481.4 603.6 451.1 603.7 456.5 603.8 469.3 604.1 490.7 604.2 457.6 604.2 479.3 604.2 468.3 604.4 486.1 604.5 462.3 604.7 474.4 604.7 459.7 604.8 459 604.9 485.4 605.2 479.2 605.2 471.2 605.3 458.1 605.7 488 605.7 483.7 605.7 475.5 605.8 452.9 606.2 484.2 606.2 481.4 606.3 479.1 606.3 459.5 606.7 488.8 606.7 473.9 606.7 483.6 607.1 468.4 607.2 497.5 607.2 470.8 607.3 477.6 607.3 469.6 607.7 494 607.7 469.3 607.8 495.3 608.1 469.1 608.2 487.6 608.2 470.4 608.4 495.4 608.7 480.7 608.7 496.4 609 501.4 609.2 470.4 609.2 472.7 609.4 501.8 609.7 466 609.7 491.6 609.8 476.2 609.9 497.6 610.1 467.8 610.2 488.4 610.2 478.8 610.4 467.8 610.6 492.5 610.7 477.7 610.8 481.9 611.1 462.2 611.1 493.5 611.2 489.2 611.2 477.1 611.5 483.3 611.7 454.9 611.7 464.8 611.7 453 611.9 482.9 612 443.5 612.2 448.8 612.2 461.1 612.3 441.9 612.5 474.1 612.7 448.5 612.7 442.2 613.1 477.7 613.1 437.9 613.2 443.3 613.3 463.4 613.5 446.4 613.6 472.5 613.7 454.9 613.7 451.6 613.8 449.3 614.2 474.9 614.2 459.6 614.3 461.4 614.4 449.2 614.6 480 614.7 476.5 614.7 468.6 614.8 488.8 614.8 460.1 615.2 464.8 615.2 470.7 615.4 492 615.7 464.4 615.7 471.9 615.8 466 616.1 496.5 616.2 487.6 616.2 467 616.5 496.7 616.7 481.9 616.8 482.4 617.1 474.9 617.1 502.1 617.2 479.6 617.2 489.4 617.4 478.1 617.6 502.5 617.7 502.3 617.7 476.7 618 473.5 618.1 503.5 618.2 496.4 618.2 494.7 618.3 500.8 618.4 473.8 618.7 483.9 618.7 488.2 618.9 469.3 618.9 499.8 619.2 474.8 619.3 494.2 619.3 473.4 619.6 504.3 619.7 488.7 619.7 484.8 620 503.2 620.2 471.8 620.2 493.7 620.3 476 620.3 497.5 620.5 470.1 620.7 494.2 620.7 501.9 620.9 473.9 621.2 495.6 621.2 487 621.5 498.3 621.6 467.9 621.7 485.5 621.7 480.4 621.9 495.7 622.2 462.1 622.2 462.5 622.3 483.8 622.6 446.6 622.7 476.8 622.8 461.6 622.9 484.3 623.1 437.4 623.2 451.7 623.2 441.4 623.5 451.9 623.6 410.4 623.7 430.1 623.8 434 624 410.1 624.1 450.6 624.2 416.3 624.2 441.2 624.4 424.5 624.7 474.2 624.7 445.6 624.7 456.7 624.8 437.8 625.2 477.9 625.2 480.5 625.3 446.9 625.7 474.4 625.7 488.2 626 496.1 626.1 458 626.2 489.1 626.3 484.3 626.3 461.7 626.7 496.9 626.7 480.1 627 495.9 627.2 471.1 627.2 486.1 627.2 476.9 627.3 474 627.6 501.5 627.7 494.4 627.7 475.6 627.9 498.2 628.1 471.4 628.2 488.2 628.2 503.6 628.7 475.4 628.7 485.6 628.7 477.3 628.8 498.6 629 477.2 629.2 497.2 629.2 483.9 629.3 502.9 629.5 473.2 629.7 474.9 629.8 504 629.9 505.2 630.2 476.8 630.2 479 630.2 472.6 630.5 495.9 630.7 486.3 630.7 492.4 630.9 467 631.1 497.4 631.2 491.3 631.2 500 631.7 471.4 631.7 488.5 631.8 475.4 631.8 500.7 632.2 475.6 632.3 476.5 632.4 488.1 632.5 461.4 632.7 479.7 632.7 482.2 632.8 463.4 633 496.7 633.2 482.9 633.3 489.2 633.6 459.5 633.7 462.2 633.7 450.2 633.9 473.4 634.2 440 634.2 466.9 634.2 454.2 634.3 485.9 634.7 443.5 634.7 451.9 634.7 461.2 634.9 464.7 635.1 434.3 635.2 450.1 635.2 452 635.4 447.9 635.7 477.3 635.8 470.2 635.9 493.1 636.1 455.4 636.2 479.6 636.2 473 636.6 461.8 636.7 492.8 636.7 467.2 636.8 461.2 637.1 499.1 637.2 468.9 637.2 486.3 637.5 450.9 637.7 487.3 637.7 470.8 637.8 470.6 638.2 504.1 638.2 504.9 638.5 476.1 638.7 486.8 638.7 501.4 638.8 507.2 639 476.3 639.2 505.5 639.3 504.9 639.6 470.1 639.7 497.1 639.7 486.4 640 489.9 640.1 460.4 640.2 468.3 640.2 475.4 640.3 465.3 640.7 497.5 640.7 484 640.7 474.2 641 505.5 641.2 493.2 641.2 507.4 641.5 478.2 641.6 509.9 641.7 481.3 641.7 496.7 641.8 501.7 641.9 470.4 642.2 493.1 642.2 499.4 642.4 474.2 642.5 504.1 642.7 479.2 642.8 497.4 643.1 479.6 643.1 505.5 643.2 500.6 643.2 488.8 643.4 502.4 643.4 472.7 643.7 479.3 643.7 483 643.9 501.7 644.1 474.3 644.2 485.6 644.2 487.8 644.6 488.3 644.7 463.7 644.7 479.2 644.7 471.9 645 488.2 645.1 452.7 645.2 470.4 645.3 450.9 645.6 484.7 645.7 439.9 645.7 468.7 646.1 440.2 646.2 458.3 646.3 448.9 646.4 437.7 646.7 477.9 646.7 457.3 646.7 477.1 646.9 440.8 646.9 480.6 647.2 459 647.2 448 647.4 488.1 647.5 445.8 647.7 464.5 647.7 457.6 647.9 447 647.9 478.5 648.2 472.3 648.2 460.4 648.7 496 648.7 471.9 648.8 494.9 649 473.9 649.2 497.1 649.2 497.8 649.5 477 649.7 502.4 649.7 490.3 649.8 470.5 650.1 493.5 650.1 461.3 650.2 473.5 650.2 469 650.3 458.6 650.4 488.2 650.7 487.3 650.7 478.4 650.9 471.8 651.1 496.4 651.2 482.4 651.2 498.7 651.3 499.6 651.6 478 651.7 480.4 651.7 488.4 651.9 503.2 652.2 474.9 652.2 485.6 652.3 487.9 652.6 501.1 652.6 473.6 652.7 473.7 652.7 492.8 652.9 504.1 653 480.3 653.2 494.6 653.2 502.2 653.3 503.2 653.4 475.7 653.7 498.8 653.7 484.7 653.9 504.7 654 473.7 654.2 498.2 654.2 487.7 654.4 499.6 654.5 474.6 654.7 498.4 654.8 491.3 654.9 497.1 655 466.1 655.2 475.8 655.2 464.5 655.5 488.1 655.7 482.9 655.8 496.1 655.9 458 656.2 464.7 656.2 482.3 656.3 488.2 656.6 453.9 656.7 473.8 656.7 460 656.8 446.5 657.1 487.3 657.2 456.5 657.2 493 657.5 447.4 657.7 469.9 657.7 445.4 657.8 429.6 657.9 482.2 658.2 462.3 658.3 459.4 658.3 475.1 658.6 442.6 658.7 448.7 658.7 464.6 658.9 450.8 659.2 481.8 659.2 472 659.3 463.8 659.6 496.6 659.7 487.8 659.7 495.3 659.8 497.6 660.2 470.8 660.2 477.4 660.5 471 660.7 498.5 660.7 497 661 476.1 661.2 477.2 661.2 475.7 661.4 474.2 661.7 502.8 661.8 477.7 661.8 471 662.1 497.1 662.2 471.8 662.2 471.9 662.3 499.6 662.4 469.6 662.7 486.5 662.8 498.9 662.9 470 663.2 500.2 663.2 483.7 663.6 498.8 663.7 470.2 663.7 483.1 664 491.4 664.2 460.6 664.2 462.6 664.2 467.4 664.3 459.7 664.5 479.1 664.7 469.2 664.7 467.8 664.9 495.6 665.2 464.6 665.2 476.9 665.3 482.7 665.4 494.6 665.6 457.6 665.7 475 665.7 473.5 666 494.7 666.2 464.2 666.2 478.4 666.2 471.7 666.3 484.3 666.4 454.3 666.7 465.3 666.7 462.1 667.1 440.1 667.2 468.4 667.2 449.4 667.3 462.1 667.6 434.8 667.7 440.9 667.8 462.2 667.8 469.6 668.1 442.1 668.2 454.5 668.2 445.2 668.3 475.6 668.7 466.8 668.8 451.1 668.8 489.7 669 441.1 669.2 461.5 669.2 451.7 669.4 475.1 669.7 466.5 669.7 452.9 669.9 487.3 670.2 469.2 670.2 461 670.3 455.7 670.6 488 670.7 476 670.7 486.2 670.8 492.1 671.2 469.3 671.2 476.8 671.3 473 671.3 471.1 671.3 493 671.7 489.8 671.7 492 671.9 498.4 672.1 471.6 672.2 489.9 672.3 479.1 672.4 471.1 672.5 491.4 672.7 488.1 672.7 486.8 673 490.3 673.1 467.1 673.2 482.9 673.2 476.8 673.3 495.7 673.4 472.8 673.7 488.1 673.7 482.2 674.1 494.9 674.2 467.4 674.2 479.5 674.2 492.4 674.5 465.3 674.6 492.6 674.7 486.8 674.8 476.9 674.8 489.9 675 454.9 675.2 480.8 675.2 477.6 675.4 491.5 675.7 464.3 675.7 482.5 675.8 463.8 675.9 495.4 676.2 478.8 676.2 464.9 676.5 461.9 676.7 492.1 676.7 476.7 676.7 477.3 677 467.9 677.2 489.1 677.2 476.8 677.4 487.7 677.4 452.5 677.7 460.1 677.7 479.7 678.1 439.2 678.2 441.1 678.3 462.4 678.7 475.1 678.7 439.1 678.7 464.4 678.9 438.9 679 466.8 679.2 453.7 679.2 465.9 679.4 432 679.6 468.7 679.7 445.1 679.7 457.1 679.8 433.8 680 471.5 680.2 465.1 680.2 483.5 680.4 445.8 680.7 479.5 680.8 471.6 681 480.1 681.1 457.2 681.2 463 681.2 479.3 681.5 486.1 681.7 458.3 681.7 483.7 681.8 477 681.8 459.4 682.1 487.6 682.2 472.2 682.2 473.4 682.3 485.5 682.7 452.3 682.7 456.5 682.7 467.1 682.8 457.3 683.2 479.2 683.2 473.4 683.5 479.3 683.7 454.3 683.7 476.5 684 456.6 684 481.9 684.2 457.6 684.3 477.1 684.4 462 684.5 494 684.7 481.2 684.7 471.5 684.9 489.1 685.1 465.7 685.2 485.3 685.3 484.4 685.3 485.3 685.7 462.7 685.7 460.3 686.2 492.8 686.2 485.2 686.4 489.6 686.5 465.9 686.7 466.7 686.7 471.7 687 494.2 687.1 465.9 687.2 475.8 687.2 463 687.4 492.1 687.7 460.3 687.8 484 688.2 439.7 688.2 449.6 688.4 442.4 688.5 476.9 688.7 468.8 688.7 467 688.8 474.7 689.2 435.8 689.2 436.9 689.2 425.2 689.4 422.9 689.4 466 689.7 440.1 689.7 454 689.8 469.3 690 438.3 690.2 438.8 690.2 448.3 690.3 428.6 690.7 466.2 690.7 443.3 690.7 464.6 690.8 436 691 477.8 691.2 472.9 691.3 449.9 691.3 439.3 691.4 476 691.7 460 691.7 450.5 691.9 484.3 692 444.3 692.2 461.3 692.2 460.5 692.5 453.1 692.6 484.6 692.7 478.2 692.7 468 692.8 455.1 693.1 485.5 693.2 469.3 693.2 480.1 693.3 483.3 693.6 452.2 693.7 466.9 693.8 457.1 693.9 449 694.1 483.4 694.2 459.3 694.2 475 694.3 459.5 694.4 484.3 694.7 468.8 694.8 481.9 695.1 495.3 695.2 463 695.2 475.3 695.2 478.8 695.4 492 695.6 460.5 695.7 477.8 695.7 459.4 696.1 479.2 696.2 454.8 696.2 454.3 696.3 476.1 696.4 449.1 696.7 456.1 696.7 459.8 696.9 456.3 697 479.3 697.2 472.8 697.3 471.5 697.3 484.8 697.7 451.5 697.7 466.4 697.7 457 697.9 477.7 698.1 451.4 698.2 457 698.3 479.2 698.3 457 698.4 486.5 698.7 460.7 698.7 468.4 698.9 456.7 699 483.3 699.2 461.6 699.2 477.5 699.6 448.1 699.7 453.8 699.7 459.5 700 441 700.2 469.1 700.2 460.3 700.4 463.4 700.5 433 700.7 455 700.8 454.5 701 433.1 701.1 464.7 701.2 454.3 701.2 433.7 701.6 480.8 701.7 459.3 701.7 473.5 701.8 444.4 702.1 478.8 702.2 450.1 702.2 465.5 702.3 478.5 702.4 446.5 702.7 457.6 702.7 457.4 702.9 452.9 703.1 486.8 703.2 480.6 703.3 473.3 703.3 486 703.6 459 703.7 460.4 703.7 481.3 703.8 455.6 704.2 470.3 704.3 477.6 704.4 485.6 704.5 458.4 704.7 465.2 704.7 466.7 705 446.5 705.1 473.1 705.2 448.2 705.2 465 705.3 453.2 705.5 474.4 705.7 465.9 705.7 476.7 706 459 706.1 490.1 706.2 487.8 706.2 481.1 706.4 492.7 706.7 459.7 706.7 488.2 706.8 475 707.2 464.5 707.2 488.3 707.2 468.5 707.7 487.7 707.7 466.8 707.7 470.7 707.8 460.4 708 489.4 708.2 463.8 708.2 464.7 708.3 491.7 708.6 458.4 708.7 489.3 708.7 466.1 708.9 483 709.2 457.8 709.2 457.5 709.5 487.4 709.7 468.8 709.7 470.4 710.2 486.3 710.2 451.7 710.2 471.6 710.3 452.4 710.5 443.6 710.6 475.3 710.7 454.2 710.7 452.6 710.9 467.4 711.2 432.9 711.2 453.1 711.3 471 711.4 424.8 711.7 431 711.7 455 711.9 456.2 712.1 417.9 712.2 434.5 712.2 422.5 712.7 456 712.7 432.6 712.7 434.7 713.2 475.9 713.2 452.1 713.2 453.8 713.5 476.7 713.6 438.4 713.7 445.3 713.8 450.9 713.9 442.5 714.2 474.3 714.2 464.3 714.3 456.1 714.3 482 714.7 470 714.7 474.3 714.8 481.7 714.9 448.8 715.2 480.2 715.2 471.1 715.4 452.6 715.7 483.3 715.7 466.9 715.7 476.4 715.8 461.2 716.1 491.7 716.2 484.1 716.3 474.8 716.4 490.5 716.5 466.7 716.7 480.7 716.7 479.9 716.8 488.6 717.1 462.4 717.2 470.2 717.3 474.9 717.6 461.1 717.6 488.2 717.7 467.3 717.7 489.9 718 460.4 718.2 479.4 718.2 480.9 718.6 455.6 718.7 467 718.7 457.8 719.1 485.8 719.2 455.9 719.2 482 719.2 479.7 719.3 460 719.4 492.7 719.7 482.6 719.8 476.1 719.8 481 720.1 446.2 720.2 454.5 720.2 446 720.4 442.6 720.7 476.7 720.8 471.6 721.1 480.1 721.2 444.2 721.2 456.2 721.5 473 721.6 443.4 721.7 457.4 721.7 441.6 722.1 469.3 722.2 434.1 722.2 460.5 722.3 428.1 722.7 442.6 722.7 465.9 723 425.8 723.1 471.7 723.2 437.3 723.3 450 723.3 476.2 723.5 424 723.7 446.1 723.7 453.6 723.9 423.7 724.1 476 724.2 436.2 724.2 461 724.3 476.3 724.3 432.3 724.7 441.6 724.7 466 724.8 443.1 724.8 474.5 725.2 447.9 725.2 462.1 725.5 463.6 725.7 439 725.7 443.4 725.7 459.3 725.8 437.6 726.2 478.3 726.2 463.2 726.2 470.2 726.5 461.6 726.7 487.1 726.7 477.9 726.8 486.9 727.2 462.6 727.2 485.6 727.5 462.9 727.7 465 727.7 469 727.9 468.3 728 491.2 728.2 490 728.2 487.7 728.4 468.5 728.7 493.3 728.7 471.7 728.9 488.8 728.9 467.8 729.2 469.3 729.3 478.4 729.5 455.7 729.6 486.7 729.7 468 729.7 481.9 730 488.6 730.2 468.7 730.2 476.9 730.3 472.1 730.6 492.7 730.7 462.9 730.7 485 730.7 483.6 730.8 464.8 731.2 491.7 731.2 480.8 731.2 484.8 731.4 460.1 731.7 471.1 731.7 447 731.8 476.6 732.2 440.5 732.2 448.3 732.2 443.3 732.3 442.8 732.7 473.9 732.7 470 732.8 447.8 732.8 479.9 733.2 455.5 733.2 441.7 733.4 441 733.5 474.3 733.7 453 733.8 450.6 733.9 437.7 734 472.7 734.2 450.8 734.2 457.8 734.3 436.6 734.5 470.7 734.7 448.8 734.7 459.3 735.1 445.8 735.1 478.9 735.2 459.4 735.2 468.9 735.5 473.8 735.6 448.2 735.7 462.5 735.7 469.8 735.9 446 736.1 479.1 736.2 458.6 736.3 473.3 736.4 476.9 736.5 449.4 736.7 473 736.7 459.9 736.8 454.1 736.9 481.4 737.2 460.8 737.2 471.6 737.5 446.3 737.7 473.9 737.7 457.8 737.8 449.8 738 487.5 738.2 465.9 738.2 479.4 738.3 464.9 738.7 491.1 738.7 485.3 738.7 468.7 738.9 493.2 739 464.7 739.2 487 739.2 486.3 739.3 457.2 739.4 494.7 739.7 478.9 739.8 490.7 740 492.5 740.2 464.2 740.2 470.4 740.2 465.1 740.6 493.1 740.7 475.4 740.7 478 740.9 466.6 741.1 496.8 741.2 491.1 741.2 494.8 741.5 465.9 741.6 494.9 741.7 487 741.7 471.6 741.9 494.4 742.1 468 742.2 471.9 742.3 485.5 742.6 493.4 742.7 461.3 742.7 476.3 742.7 479.8 742.8 460.9 743 487.9 743.2 473.1 743.3 471 743.4 493.7 743.7 455.7 743.7 463.1 743.9 447.1 744.2 476.4 744.2 462.8 744.2 450 744.4 478.1 744.7 447.8 744.7 473.2 744.7 448.4 745 477 745.2 443.9 745.2 475.1 745.3 445.9 745.5 489.2 745.7 475.7 745.8 466.1 745.9 479.4 746.2 446.1 746.2 453 746.3 449.8 746.7 474.6 746.7 457.3 746.8 477.1 746.8 451.1 746.9 482.8 747.2 459.6 747.2 488.8 747.7 453.5 747.7 461.1 748 459.2 748.1 490.4 748.2 489.2 748.2 471.8 748.3 466.4 748.6 496.5 748.7 473.8 748.7 487.8 748.9 492 749.2 463.7 749.2 484.7 749.3 471 749.6 469.1 749.7 493.5 749.7 471.2 749.8 468.6 749.9 496.2 750.2 474.3 750.2 473.8 750.3 462.5 750.5 497.1 750.7 471.4 750.7 472.6 751.2 468 751.2 492.7 751.2 494.7 751.7 462.8 751.7 476.2 751.8 481.5 751.9 473.2 752 493.2 752.2 479.8 752.2 495.6 752.7 466.3 752.8 478.1 753.1 465.2 753.2 491.9 753.2 491.6 753.6 463.3 753.7 481.4 753.7 472.6 754.1 490.3 754.1 460.6 754.2 482.2 754.2 461 754.5 486.8 754.7 469.9 754.7 475.4 755.2 439.3 755.2 443.9 755.3 455.8 755.5 442.2 755.7 474.8 755.7 459 755.9 474.6 756.2 439.3 756.3 457.1 756.5 474.6 756.7 437.2 756.7 450 757.1 471.6 757.2 439.6 757.2 450.5 757.4 444.2 757.7 480.1 757.7 447.9 757.7 467.8 757.9 482.2 758.2 448.9 758.2 450.5 758.2 463.9 758.4 445.5 758.5 475.3 758.7 447 758.8 446 759.1 481.4 759.2 466.3 759.2 461.3 759.5 460.5 759.7 490 759.7 466.5 759.7 476.4 759.8 467 760 493.7 760.2 493 760.2 469 760.7 492 760.7 463.8 760.7 489 760.7 483.4 760.9 490.4 761.1 461.5 761.2 466.8 761.2 456.8 761.4 452.7 761.5 482.9 761.7 481.3 761.7 461.9 761.9 490.9 762.1 460.3 762.2 472.9 762.3 469.4 762.3 465.3 762.6 491.6 762.7 470.5 762.7 467.8 762.9 489.9 763.1 458.3 763.2 464.4 763.2 466.3 763.5 464.8 763.6 490.3 763.7 473.8 763.7 486.5 764 461 764.2 475.4 764.2 471 764.4 488.8 764.7 460.7 764.7 484 764.8 472.8 765 467.6 765.1 491.8 765.2 478.9 765.2 478.5 765.3 489.5 765.7 453.8 765.7 476.1 765.8 460.5 765.9 480.8 765.9 456 766.2 460.5 766.2 470.9 766.4 479.5 766.5 452.1 766.7 462.1 766.7 460.4 767.1 475.6 767.1 450.2 767.2 462.7 767.2 455.4 767.6 483.3 767.7 452.1 767.7 450.7 768.1 485 768.2 478.5 768.3 451.9 768.3 481 768.7 450.8 768.7 462.5 768.8 484.5 768.9 462.4 769.2 468.6 769.3 466.5 769.6 456.8 769.6 489.5 769.7 464.5 769.7 458.9 769.9 454.7 769.9 482.1 770.2 472.7 770.2 461.6 770.3 479.2 770.4 453.8 770.7 473.6 770.7 485.1 770.8 490.8 771.2 463.1 771.2 467.5 771.2 487.2 771.4 462.1 771.5 488.6 771.7 470.5 771.8 466.8 772 489.2 772.2 463.6 772.2 464 772.2 465 772.6 490.3 772.7 477 772.7 477.6 773.1 462.2 773.2 488.5 773.2 478.8 773.5 487.6 773.7 458.2 773.7 484 774 493.4 774.1 462.6 774.2 467.4 774.2 459.9 774.7 492.5 774.7 463.7 774.7 489.8 775.1 489.9 775.2 458.1 775.2 484.3 775.3 476.1 775.3 486.8 775.4 456.2 775.7 482.3 775.7 477.6 775.9 456.4 776.1 485 776.2 466 776.2 475.6 776.7 448.3 776.7 458.1 776.8 469.9 777.2 444 777.2 461.4 777.2 438.6 777.6 438 777.7 458.7 777.7 447.8 777.8 447.4 777.8 461 778 436 778.2 436.8 778.2 448.7 778.3 438.9 778.7 475.4 778.7 466.1 778.8 477.7 778.9 436.1 779.2 464.2 779.2 445.7 779.3 440.4 779.7 480.2 779.7 473 779.7 465.1 779.8 445.3 780.2 477 780.2 474.7 780.3 454.5 780.4 484.8 780.7 482.6 780.7 483.6 780.9 484.2 781 457.5 781.2 466.2 781.3 479.6 781.4 457.2 781.7 489.4 781.7 467.6 781.7 487.2 782.1 460.6 782.2 462.6 782.3 474.3 782.4 489.2 782.5 458.1 782.7 471.2 782.7 481.1 782.8 490 782.8 460.3 783.2 466.1 783.2 466.4 783.3 461.3 783.7 494.3 783.7 489.2 784 463.3 784.2 481.5 784.2 465.3 784.3 490.2 784.4 464.6 784.7 472.6 784.8 478.5 784.9 485.2 785.1 461.8 785.2 472.5 785.2 479.2 785.6 462.9 785.6 488.1 785.7 471.1 785.7 475.4 785.8 486.9 786.1 459.9 786.2 462.1 786.2 468.2 786.3 485.4 786.5 462.3 786.7 472.9 786.7 460 786.8 480.9 787 454.2 787.2 468.2 787.3 460.9 787.3 476.6 787.6 446.6 787.7 463.5 787.7 454.5 788.1 476.8 788.2 438.8 788.2 452.1 788.3 451.3 788.7 430.6 788.7 451.6 788.7 439.7 788.8 460.9 789 423.2 789.2 446.4 789.2 449 789.3 475.7 789.3 426 789.7 432.9 789.7 438.7 789.8 423.2 790.1 475.4 790.2 464.2 790.2 446.9 790.4 438.1 790.6 472.5 790.7 468.9 790.8 466.5 791 444 791.2 478 791.2 453.2 791.2 463 791.5 456.1 791.6 480.2 791.7 463.7 791.8 454.5 792.1 484.2 792.2 468 792.2 468.3 792.4 488.3 792.4 460.9 792.7 462.3 792.7 472.5 793 465.3 793.1 485 793.2 483.5 793.2 487.8 793.3 462.6 793.7 471.9 793.7 487.6 793.8 490.1 794.2 460.4 794.3 484.5 794.4 460.8 794.7 471.9 794.7 464 794.8 463.9 795 490.7 795.2 467.9 795.3 485.4 795.4 490.2 795.5 463 795.7 470.7 795.7 463.4 795.9 463.1 796.2 489.7 796.2 482.4 796.2 483.6 796.4 464.9 796.4 492.8 796.7 471.1 796.7 463.9 797 489.9 797.2 485.7 797.2 472.4 797.3 449.5 797.5 477.3 797.7 455.5 797.8 474.6 797.9 452.6 798.1 479.1 798.2 459.4 798.2 461.5 798.3 487.7 798.4 460.7 798.7 464.8 798.7 459.2 798.9 476.6 798.9 452.6 799.2 466.7 799.2 457.2 799.4 484.5 799.6 449.6 799.7 464.7 799.7 462.5 799.9 448.6 800.2 479.6 800.3 455.1 800.3 482.5 800.7 453.8 800.7 458.5 800.7 462.5 800.9 479.2 801.1 446.2 801.2 464.6 801.3 480.3 801.6 450.4 801.7 459.2 801.7 467.9 801.8 484.1 802.1 453.8 802.2 461.6 802.2 471.4 802.4 457.6 802.5 483.7 802.7 476 802.7 462.5 802.8 486.6 803.2 460.3 803.2 468.7 803.2 478.1 803.5 447.1 803.7 467.1 803.8 476 803.8 451.1 804.1 481 804.2 459.9 804.2 467.8 804.4 461.4 804.6 492.3 804.7 468.4 804.8 477 805.1 468.3 805.2 496 805.2 476.5 805.2 474 805.3 493.4 805.7 460.7 805.7 489 805.7 487.7 806 453.2 806.2 464.8 806.2 467.4 806.3 491.9 806.3 465.4 806.7 488 806.7 474.9 806.9 494.4 807.2 464.1 807.3 480.9 807.4 491.8 807.5 466.2 807.7 479.7 807.7 468.2 807.8 461.2 808.1 492.1 808.2 465.8 808.2 471.8 808.5 466.6 808.6 495 808.7 467.8 808.7 477.9 808.8 487.7 809 455.2 809.2 456.7 809.2 481.5 809.4 461.7 809.7 475.3 809.7 474.6 809.8 485.2 810.1 443.8 810.2 456 810.2 487.3 810.5 432.9 810.7 451.5 810.8 435.7 811.1 435.7 811.2 457.5 811.2 456.4 811.2 455.1 811.5 475.1 811.6 442.9 811.7 459.4 811.7 454.1 811.8 444.7 811.9 476.8 812.2 454.4 812.2 465 812.4 442.8 812.7 479 812.7 457.5 812.7 469 812.8 475.4 813 453.7 813.2 469.5 813.3 478.5 813.4 448.4 813.7 484.9 813.7 466.4 813.7 479.6 813.8 485.9 814.1 458.7 814.2 480.1 814.3 483.1 814.3 485.2 814.5 462.4 814.7 469.3 814.7 480.9 814.8 456.4 815.2 486.6 815.2 483.3 815.2 486.3 815.5 494.4 815.6 460.9 815.7 485.3 815.7 482.4 815.8 461.4 816.2 489.7 816.2 487.1 816.2 471.6 816.5 490.3 816.6 464.5 816.7 484.4 816.8 479.3 816.9 494.2 817.1 463.6 817.2 483.9 817.2 474.3 817.3 461.6 817.4 492.4 817.7 463.5 817.8 474.6 817.9 492.1 818 459.9 818.2 483.9 818.2 469 818.6 457.8 818.6 483.8 818.7 477 818.7 489.4 818.8 491.1 818.9 460.7 819.2 479.8 819.2 458.8 819.5 482.5 819.7 451.1 819.7 457.7 819.7 464.2 819.9 448.5 820.1 476.6 820.2 456.4 820.3 467.2 820.4 481 820.6 443.5 820.7 459.6 820.7 450.4 820.9 427.8 821.1 464.4 821.2 451.4 821.2 437.4 821.7 461.7 821.7 435.6 821.7 453.4 822.1 464.7 822.2 428 822.2 456.6 822.2 443.2 822.4 427.7 822.5 462.4 822.7 454.5 822.7 438.3 822.8 474 823 435.4 823.2 463.5 823.2 447 823.4 432.7 823.5 478 823.7 464.3 823.8 444.7 823.8 444.4 823.9 479.6 824.2 469.2 824.2 455.8 824.4 476.2 824.5 451.6 824.7 475 824.7 470.2 825 451.7 825 480.3 825.2 479.4 825.2 484.6 825.4 456.7 825.6 485.7 825.7 473.4 825.7 471.7 826 479.3 826.2 452.9 826.3 460.8 826.6 481.6 826.6 457.8 826.7 480.9 826.7 484.2 826.9 458.2 827 487.5 827.2 486.1 827.3 470.8 827.3 457.4 827.5 483.9 827.7 462.4 827.7 456.9 827.9 484.3 828.2 469.8 828.2 478.3 828.7 440.4 828.7 453.2 828.7 454.2 828.8 446.9 829.1 484.4 829.2 474.2 829.2 479.8 829.3 464.8 829.5 490.4 829.7 476 829.8 461.2 830 458.3 830.1 491.2 830.2 480.5 830.2 466 830.4 457.3 830.6 488.3 830.7 479.3 830.8 459.9 830.8 487.5 831.1 449.3 831.2 460.7 831.2 455.5 831.6 474.3 831.7 441 831.7 456.2 831.7 448.1 832 470 832.2 438.3 832.2 444.8 832.3 469.6 832.6 414.3 832.7 439.5 832.7 435.3 833 451.6 833.2 408.6 833.2 450.6 833.3 417.5 833.3 407.2 833.6 451 833.7 446.8 833.7 436.6 833.9 408.7 834 474.8 834.2 439.3 834.2 446.3 834.3 455.3 834.5 422.1 834.7 438.7 834.7 417 835.1 458.5 835.2 429 835.2 432.9 835.3 427 835.7 467.4 835.8 446.6 836.2 479.1 836.2 473.3 836.2 461.1 836.3 459 836.4 482 836.7 481.3 836.8 474 836.9 453.8 837.2 488.5 837.2 480.2 837.6 488.8 837.6 461.8 837.7 487.2 837.7 470.9 837.8 489.8 838 461.2 838.2 476.1 838.2 477 838.3 488.9 838.4 456.7 838.7 472.7 838.7 481.3 838.9 490.4 839.2 461.6 839.3 486.8 839.3 461.9 839.7 466.2 839.7 462.9 840 462.7 840.2 490.6 840.2 483.3 840.3 485.8 840.5 487.2 840.6 460.8 840.7 474.2 840.7 466.5 841 488.1 841 461.6 841.2 468.9 841.2 484 841.4 488.6 841.5 458.8 841.7 471 841.7 465.3 842 451.3 842.2 481.7 842.2 461.7 842.2 472.4 842.3 480.7 842.4 453.2 842.7 472.5 842.8 462.8 842.9 473.2 843.1 441.4 843.2 450 843.2 458.3 843.3 477.6 843.7 437.8 843.7 453.9 843.8 442.1 843.9 425.4 843.9 455.2 844.2 433.9 844.2 455.2 844.3 466.3 844.4 427.7 844.7 461.3 844.7 446.3 844.8 438.3 845 471.7 845.2 466.6 845.2 460 845.3 472.6 845.7 444.1 845.7 471.7 845.7 462.4 846 448.9 846 474.5 846.2 454.4 846.3 454.5 846.4 443.2 846.4 477.9 846.7 463.4 846.7 474.5 846.9 448.5 847.2 484.1 847.2 481.9 847.2 460.5 847.3 484.3 847.3 452.8 847.7 460.4 847.7 453.9 847.9 448.5 848.2 476.2 848.2 466.8 848.2 473.4 848.3 459.7 848.5 490.4 848.7 484.2 848.8 485.5 848.8 466.8 849.2 489.6 849.2 487.8 849.3 463.7 849.7 490.3 849.7 485 849.8 480.9 850 463 850 488 850.2 482.7 850.2 478.6 850.3 490.6 850.5 461.4 850.7 483.2 850.7 489 850.8 460.8 851.2 493.9 851.2 490.3 851.5 493.7 851.6 461.2 851.7 481.5 851.7 478.6 851.8 493.3 852.2 460.5 852.3 475.5 852.6 491.5 852.6 460.3 852.7 475.2 852.7 487.8 852.9 461.7 853.2 470.5 853.3 481 853.4 483.2 853.6 453.5 853.7 457.2 853.7 464.4 854 441.5 854.1 473.5 854.2 448.4 854.2 460.7 854.6 467.9 854.6 438.4 854.7 439.1 854.7 444.6 854.9 432 855 458 855.2 445.6 855.2 457.1 855.4 430.6 855.7 469.8 855.7 458.3 855.8 462.1 855.9 440.5 856.1 487.8 856.2 445.7 856.2 456.4 856.6 457 856.7 429.9 856.7 438.4 856.7 453.4 856.8 432.3 857.2 450.9 857.2 449.6 857.3 442 857.5 473.4 857.7 462.5 857.7 477.9 857.9 485 858.1 460 858.2 466.9 858.2 472.7 858.5 456.2 858.6 489.8 858.7 467 858.7 495.4 859 460.9 859.2 474.7 859.3 472.1 859.6 464 859.6 495.6 859.7 481.1 859.7 473 860 466 860.1 493.4 860.2 487.1 860.2 467 860.4 488.7 860.7 465.7 860.7 483.7 860.7 471.7 861 467.3 861.1 490.2 861.2 477.5 861.2 489.1 861.6 464.8 861.7 494.7 861.7 475.3 861.8 492.2 861.8 493 861.9 467.7 862.2 484.8 862.2 485.5 862.3 473.1 862.5 496 862.7 483.8 862.8 471.5 862.9 469.4 862.9 492.5 863.2 473.7 863.2 480.2 863.4 494.6 863.5 470.8 863.7 483.1 863.7 479.7 863.8 487.7 863.9 469.3 864.2 470.1 864.2 468.3 864.3 482.4 864.7 454.2 864.7 476.7 864.7 476.8 864.8 462.2" fill="none" stroke="#1f77b4" stroke-width="2.083" stroke-linejoin="round" stroke-linecap="square"/>
<path d="M125.5 401.5 L900.5 401.5 L900.5 519.5 L125.5 519.5 Z" fill="none" stroke="#000" stroke-width="1.111" stroke-linejoin="miter" stroke-linecap="square"/>
<path d="M149.5 519.50 V524.36 M259.5 519.50 V524.36 M370.5 519.50 V524.36 M480.5 519.50 V524.36 M590.5 519.50 V524.36 M700.5 519.50 V524.36 M810.5 519.50 V524.36 M125.50 412.5 H120.64 M125.50 447.5 H120.64 M125.50 482.5 H120.64 M125.50 517.5 H120.64" stroke="#000" stroke-width="1.111" fill="none"/>
<text x="117.15" y="556.16" font-size="14.583" textLength="35.35" lengthAdjust="spacingAndGlyphs" transform="rotate(-30 117.15 556.16)">1950</text>
<text x="227.30" y="556.16" font-size="14.583" textLength="35.35" lengthAdjust="spacingAndGlyphs" transform="rotate(-30 227.30 556.16)">1960</text>
<text x="337.48" y="556.16" font-size="14.583" textLength="35.35" lengthAdjust="spacingAndGlyphs" transform="rotate(-30 337.48 556.16)">1970</text>
<text x="447.63" y="556.16" font-size="14.583" textLength="35.35" lengthAdjust="spacingAndGlyphs" transform="rotate(-30 447.63 556.16)">1980</text>
<text x="557.81" y="556.16" font-size="14.583" textLength="35.35" lengthAdjust="spacingAndGlyphs" transform="rotate(-30 557.81 556.16)">1990</text>
<text x="667.96" y="556.16" font-size="14.583" textLength="35.35" lengthAdjust="spacingAndGlyphs" transform="rotate(-30 667.96 556.16)">2000</text>
<text x="778.14" y="556.16" font-size="14.583" textLength="35.35" lengthAdjust="spacingAndGlyphs" transform="rotate(-30 778.14 556.16)">2010</text>
<text x="114.78" y="523.38" font-size="14.583" textLength="45.20" lengthAdjust="spacingAndGlyphs" text-anchor="end">0.0175</text>
<text x="114.78" y="488.38" font-size="14.583" textLength="45.20" lengthAdjust="spacingAndGlyphs" text-anchor="end">0.0200</text>
<text x="114.78" y="453.38" font-size="14.583" textLength="45.20" lengthAdjust="spacingAndGlyphs" text-anchor="end">0.0225</text>
<text x="114.78" y="418.38" font-size="14.583" textLength="45.20" lengthAdjust="spacingAndGlyphs" text-anchor="end">0.0250</text>
<text x="58.24" y="461.00" font-size="14.583" textLength="60.23" lengthAdjust="spacingAndGlyphs" text-anchor="middle" transform="rotate(-90 58.24 461.00)">fieldmax</text>
</g>
<g>
<rect x="125.00" y="542.07" width="775.00" height="117.24" fill="#fff"/>
<clipPath id="c3"><rect x="125.00" y="542.07" width="775.00" height="117.24"/></clipPath>
<line x1="160.23" y1="600.69" x2="864.73" y2="600.69" stroke="#1f77b4" stroke-width="2.083" stroke-linecap="square"/>
<path d="M125.5 542.5 L900.5 542.5 L900.5 659.5 L125.5 659.5 Z" fill="none" stroke="#000" stroke-width="1.111" stroke-linejoin="miter" stroke-linecap="square"/>
<path d="M149.5 659.50 V664.36 M259.5 659.50 V664.36 M370.5 659.50 V664.36 M480.5 659.50 V664.36 M590.5 659.50 V664.36 M700.5 659.50 V664.36 M810.5 659.50 V664.36 M125.50 654.5 H120.64 M125.50 601.5 H120.64 M125.50 547.5 H120.64" stroke="#000" stroke-width="1.111" fill="none"/>
<text x="117.15" y="696.85" font-size="14.583" textLength="35.35" lengthAdjust="spacingAndGlyphs" transform="rotate(-30 117.15 696.85)">1950</text>
<text x="227.30" y="696.85" font-size="14.583" textLength="35.35" lengthAdjust="spacingAndGlyphs" transform="rotate(-30 227.30 696.85)">1960</text>
<text x="337.48" y="696.85" font-size="14.583" textLength="35.35" lengthAdjust="spacingAndGlyphs" transform="rotate(-30 337.48 696.85)">1970</text>
<text x="447.63" y="696.85" font-size="14.583" textLength="35.35" lengthAdjust="spacingAndGlyphs" transform="rotate(-30 447.63 696.85)">1980</text>
<text x="557.81" y="696.85" font-size="14.583" textLength="35.35" lengthAdjust="spacingAndGlyphs" transform="rotate(-30 557.81 696.85)">1990</text>
<text x="667.96" y="696.85" font-size="14.583" textLength="35.35" lengthAdjust="spacingAndGlyphs" transform="rotate(-30 667.96 696.85)">2000</text>
<text x="778.14" y="696.85" font-size="14.583" textLength="35.35" lengthAdjust="spacingAndGlyphs" transform="rotate(-30 778.14 696.85)">2010</text>
<text x="114.78" y="659.86" font-size="14.583" textLength="39.58" lengthAdjust="spacingAndGlyphs" text-anchor="end">−0.05</text>
<text x="114.78" y="606.57" font-size="14.583" textLength="28.76" lengthAdjust="spacingAndGlyphs" text-anchor="end">0.00</text>
<text x="114.78" y="553.27" font-size="14.583" textLength="28.76" lengthAdjust="spacingAndGlyphs" text-anchor="end">0.05</text>
<text x="64.87" y="601.69" font-size="14.583" textLength="85.82" lengthAdjust="spacingAndGlyphs" text-anchor="middle" transform="rotate(-90 64.87 601.69)">nummasked</text>
</g>
<g>
<rect x="125.00" y="682.76" width="775.00" height="117.24" fill="#fff"/>
<clipPath id="c4"><rect x="125.00" y="682.76" width="775.00" height="117.24"/></clipPath>
<line x1="160.23" y1="741.38" x2="864.73" y2="741.38" stroke="#1f77b4" stroke-width="2.083" stroke-linecap="square"/>
<path d="M125.5 683.5 L900.5 683.5 L900.5 800.5 L125.5 800.5 Z" fill="none" stroke="#000" stroke-width="1.111" stroke-linejoin="miter" stroke-linecap="square"/>
<path d="M149.5 800.50 V805.36 M259.5 800.50 V805.36 M370.5 800.50 V805.36 M480.5 800.50 V805.36 M590.5 800.50 V805.36 M700.5 800.50 V805.36 M810.5 800.50 V805.36 M125.50 795.5 H120.64 M125.50 741.5 H120.64 M125.50 688.5 H120.64" stroke="#000" stroke-width="1.111" fill="none"/>
<text x="117.15" y="837.54" font-size="14.583" textLength="35.35" lengthAdjust="spacingAndGlyphs" transform="rotate(-30 117.15 837.54)">1950</text>
<text x="227.30" y="837.54" font-size="14.583" textLength="35.35" lengthAdjust="spacingAndGlyphs" transform="rotate(-30 227.30 837.54)">1960</text>
<text x="337.48" y="837.54" font-size="14.583" textLength="35.35" lengthAdjust="spacingAndGlyphs" transform="rotate(-30 337.48 837.54)">1970</text>
<text x="447.63" y="837.54" font-size="14.583" textLength="35.35" lengthAdjust="spacingAndGlyphs" transform="rotate(-30 447.63 837.54)">1980</text>
<text x="557.81" y="837.54" font-size="14.583" textLength="35.35" lengthAdjust="spacingAndGlyphs" transform="rotate(-30 557.81 837.54)">1990</text>
<text x="667.96" y="837.54" font-size="14.583" textLength="35.35" lengthAdjust="spacingAndGlyphs" transform="rotate(-30 667.96 837.54)">2000</text>
<text x="778.14" y="837.54" font-size="14.583" textLength="35.35" lengthAdjust="spacingAndGlyphs" transform="rotate(-30 778.14 837.54)">2010</text>
<text x="512.50" y="855.85" font-size="14.583" textLength="64.64" lengthAdjust="spacingAndGlyphs" text-anchor="middle">validtime</text>
<text x="114.78" y="800.55" font-size="14.583" textLength="39.58" lengthAdjust="spacingAndGlyphs" text-anchor="end">−0.05</text>
<text x="114.78" y="747.26" font-size="14.583" textLength="28.76" lengthAdjust="spacingAndGlyphs" text-anchor="end">0.00</text>
<text x="114.78" y="693.96" font-size="14.583" textLength="28.76" lengthAdjust="spacingAndGlyphs" text-anchor="end">0.05</text>
<text x="64.87" y="742.38" font-size="14.583" textLength="57.25" lengthAdjust="spacingAndGlyphs" text-anchor="middle" transform="rotate(-90 64.87 742.38)">numnan</text>
</g>
</svg></body></html>
